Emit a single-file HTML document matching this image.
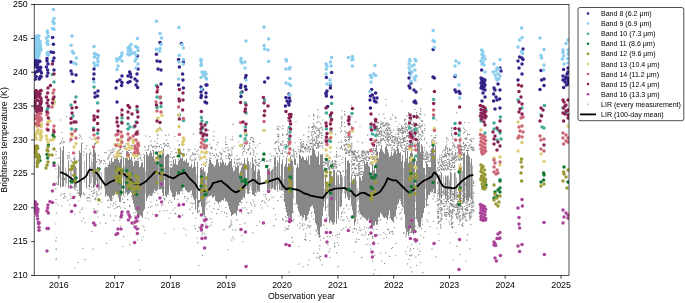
<!DOCTYPE html><html><head><meta charset="utf-8"><title>Brightness temperature</title><style>html,body{margin:0;padding:0;background:#fff;}svg{display:block;}text{font-family:"Liberation Sans",Arial,sans-serif;fill:#000;}</style></head><body>
<svg width="685" height="303" viewBox="0 0 685 303">
<rect width="685" height="303" fill="#fff"/>
<defs><clipPath id="ax"><rect x="34.2" y="4.5" width="534.8" height="271"/></clipPath></defs>
<g clip-path="url(#ax)">
<path fill="#888" fill-opacity="0.6" d="M59 166.1h1V176.9h-1zM65 167.7h1V186.8h-1zM66 171.5h1V183.8h-1zM70 172.3h1V188h-1zM71 168.5h1V181.6h-1zM73 167.7h1V184.5h-1zM76 167.8h1V186.6h-1zM84 161.2h1V182.7h-1zM90 166.7h1V184.1h-1zM91 158.2h1V183h-1zM92 162.1h1V177h-1zM96 168.6h1V180.6h-1zM98 168h1V191.2h-1zM99 167.2h1V190.4h-1zM101 172h1V189.4h-1zM104 168.3h1V188.6h-1zM122 168.5h1V177.8h-1zM124 166.1h1V183.2h-1zM145 171.2h1V193.4h-1zM158 161h1V186.4h-1zM164 167.8h1V180.2h-1zM169 166.8h1V186.6h-1zM196 174.4h1V198.5h-1zM205 170.9h1V206.8h-1zM206 176.2h1V200.5h-1zM245 163.3h1V193.8h-1zM246 178.2h1V187.5h-1zM249 164.5h1V191.1h-1zM250 161.8h1V186.2h-1zM251 167.8h1V190.2h-1zM256 178.8h1V193.4h-1zM260 175.7h1V184.8h-1zM270 171.6h1V186.8h-1zM273 167.1h1V188.8h-1zM276 166.6h1V185.4h-1zM278 162.9h1V184.1h-1zM280 175.7h1V190.4h-1zM283 179.5h1V190.2h-1zM293 166.3h1V198.7h-1zM324 189.1h1V201.6h-1zM326 183.1h1V198.7h-1zM327 185h1V198.8h-1zM328 184.8h1V216.6h-1zM335 185.1h1V200.4h-1zM337 175.2h1V210.9h-1zM339 184.1h1V207h-1zM342 177.4h1V193.2h-1zM344 176h1V193.2h-1zM346 169.3h1V194.3h-1zM350 182.3h1V198h-1zM356 181h1V217h-1zM357 188.4h1V201.5h-1zM358 190.8h1V199.8h-1zM403 168.2h1V208.1h-1zM415 183.5h1V202h-1zM425 174.4h1V189.2h-1zM436 169.9h1V179.1h-1zM438 174.5h1V187.6h-1zM440 175.2h1V197.8h-1zM443 176.4h1V194.7h-1zM444 183.2h1V192.6h-1zM446 176.7h1V190.5h-1zM448 175.6h1V190.3h-1zM449 179.6h1V191.8h-1zM451 172.8h1V193.4h-1zM455 172.4h1V197.4h-1zM456 177.6h1V196h-1zM461 166.1h1V195.2h-1zM462 170.6h1V192.4h-1zM470 162.9h1V193.4h-1zM472 165.4h1V197.8h-1z"/>
<path fill="#888" fill-opacity="1" d="M58 165.4h1V185.1h-1zM60 147.2h1V187.2h-1zM62 150.4h1V186.9h-1zM63 146h1V186.5h-1zM68 160.5h1V188.4h-1zM74 165.1h1V187.6h-1zM75 166.2h1V187.7h-1zM79 150.4h1V195.9h-1zM80 152.8h1V197.7h-1zM81 142.7h1V195.4h-1zM86 153.1h1V187.5h-1zM89 153.2h1V187.7h-1zM93 148.1h1V188h-1zM94 149.6h1V187.1h-1zM95 152.4h1V184.9h-1zM97 166.5h1V187.3h-1zM105 166.5h1V196.8h-1zM106 167.1h1V194.5h-1zM107 167.3h1V196.1h-1zM108 165h1V196.3h-1zM109 160.9h1V197.9h-1zM110 163.4h1V201.1h-1zM111 159.1h1V199.8h-1zM112 161.4h1V195.5h-1zM113 162.1h1V196.2h-1zM114 159h1V195h-1zM115 158.8h1V192.2h-1zM116 157.5h1V193h-1zM117 155.7h1V192.9h-1zM118 160h1V196.9h-1zM119 162.6h1V201.7h-1zM120 159.2h1V202.1h-1zM121 155.8h1V195.7h-1zM123 156.9h1V195.6h-1zM125 158h1V193.7h-1zM126 151.2h1V192.2h-1zM127 150.9h1V195.5h-1zM128 160h1V194h-1zM129 154.2h1V193.4h-1zM130 159.3h1V191.7h-1zM131 157.1h1V192.9h-1zM132 161h1V198.5h-1zM133 165.9h1V203.4h-1zM134 162.1h1V206.8h-1zM135 161.1h1V210.3h-1zM136 160.7h1V211.5h-1zM137 160.5h1V215.3h-1zM138 161h1V218.8h-1zM139 167.3h1V215.1h-1zM140 166.4h1V215.2h-1zM141 162.4h1V216.3h-1zM142 162.3h1V218h-1zM143 167.4h1V211h-1zM144 155h1V209.3h-1zM146 151.8h1V200.9h-1zM147 154.6h1V197.7h-1zM148 155.9h1V195.4h-1zM149 153.6h1V194.8h-1zM150 150.8h1V195.8h-1zM151 152.8h1V196.3h-1zM152 156.4h1V193.8h-1zM153 150.1h1V192.6h-1zM154 158.9h1V189.5h-1zM155 157.1h1V191h-1zM156 159h1V191.3h-1zM157 153.3h1V189.7h-1zM159 152.1h1V189.3h-1zM160 152.2h1V189.2h-1zM161 156.2h1V188.9h-1zM162 152.2h1V193.1h-1zM163 148.2h1V195.9h-1zM165 156.2h1V196.1h-1zM166 154.8h1V197.3h-1zM167 153.9h1V194.5h-1zM168 154.2h1V193.2h-1zM170 167.4h1V189.7h-1zM171 167.7h1V192.6h-1zM172 166.3h1V196.7h-1zM173 159.6h1V197h-1zM174 163.8h1V200h-1zM175 159.1h1V196.2h-1zM176 164.4h1V191.5h-1zM177 164.9h1V195h-1zM178 160.8h1V193.9h-1zM179 159.7h1V194.6h-1zM180 157.3h1V191.3h-1zM181 158.5h1V191.2h-1zM182 157.3h1V189.3h-1zM183 160.9h1V186.9h-1zM184 160.2h1V187.5h-1zM185 161.5h1V190.1h-1zM186 158.8h1V190.5h-1zM187 163h1V191.9h-1zM188 162.3h1V192.6h-1zM189 166.8h1V192.4h-1zM190 166.3h1V191h-1zM191 163.8h1V190.3h-1zM192 167.9h1V195.5h-1zM193 166.6h1V198.3h-1zM194 161.3h1V200.3h-1zM195 167h1V209.4h-1zM197 162h1V213.2h-1zM198 200h1V207.2h-1zM199 200h1V202.9h-1zM200 167.9h1V201.7h-1zM201 167h1V206.8h-1zM202 169.8h1V213.5h-1zM203 167.4h1V214.9h-1zM204 171.7h1V216.9h-1zM207 173.2h1V197.5h-1zM208 166.4h1V195.7h-1zM209 159.4h1V196h-1zM210 160.1h1V195.8h-1zM211 162.5h1V195.6h-1zM212 164.1h1V197.7h-1zM213 164.9h1V197.3h-1zM214 166.9h1V196h-1zM215 165.1h1V200.8h-1zM216 159.6h1V201.6h-1zM217 159h1V202.1h-1zM218 162.4h1V203.9h-1zM219 166.3h1V202h-1zM220 161.8h1V201.9h-1zM221 163.3h1V200.8h-1zM222 159.4h1V200h-1zM223 161.8h1V200.4h-1zM224 164.7h1V198h-1zM225 162.8h1V201.5h-1zM226 165.7h1V201h-1zM227 165.3h1V202.5h-1zM228 163.2h1V205.8h-1zM229 161.1h1V209.6h-1zM230 160.9h1V212h-1zM231 159h1V215.9h-1zM232 167.4h1V215.1h-1zM233 171.2h1V214h-1zM234 170.3h1V213.5h-1zM235 166.5h1V212.8h-1zM236 167.2h1V215.6h-1zM237 166.1h1V210.8h-1zM238 167.1h1V205.4h-1zM239 174.2h1V202.4h-1zM240 170.7h1V202.6h-1zM241 167.6h1V200h-1zM242 164.6h1V199.2h-1zM243 163.4h1V197.2h-1zM244 158.2h1V198.1h-1zM247 157.7h1V193.7h-1zM248 161.2h1V194.1h-1zM252 157.1h1V194.6h-1zM253 163.6h1V195h-1zM254 170.6h1V196.2h-1zM255 166.1h1V192.6h-1zM257 171.9h1V191.6h-1zM258 169.1h1V190.2h-1zM259 170.2h1V191.8h-1zM263 191h1V191.3h-1zM267 166.6h1V190.9h-1zM268 169.1h1V189.2h-1zM269 168.2h1V189.8h-1zM271 170.3h1V189.1h-1zM272 169.3h1V188.2h-1zM274 157.4h1V189.6h-1zM275 156.5h1V190.2h-1zM277 160.4h1V190.1h-1zM279 157.2h1V189.5h-1zM281 164h1V190.6h-1zM282 159.4h1V190.4h-1zM284 166.5h1V201.9h-1zM285 164.2h1V207h-1zM286 157.5h1V212h-1zM287 167.1h1V215.9h-1zM288 163.6h1V217.7h-1zM289 163.4h1V215h-1zM290 156.1h1V222.5h-1zM291 159.3h1V218.2h-1zM292 161.1h1V213.2h-1zM294 157.8h1V165h-1zM295 159.1h1V165h-1zM296 167.8h1V203.7h-1zM297 163.4h1V205.5h-1zM298 167.2h1V210.7h-1zM299 154.2h1V213.2h-1zM300 155.7h1V216h-1zM301 158.2h1V215.4h-1zM302 156.3h1V217.5h-1zM303 157.3h1V217.8h-1zM304 160h1V215.1h-1zM305 159.9h1V221h-1zM306 157.3h1V220.1h-1zM307 160.5h1V215.7h-1zM308 155.6h1V214.3h-1zM309 164.6h1V210.7h-1zM310 155.4h1V207.2h-1zM311 155.2h1V206.1h-1zM312 148.6h1V205.5h-1zM313 148.2h1V208.4h-1zM314 149.9h1V213.9h-1zM315 154.5h1V223h-1zM316 157.1h1V224.7h-1zM317 156.6h1V230.3h-1zM318 151.6h1V235h-1zM319 164.7h1V237.6h-1zM320 154.2h1V227.3h-1zM321 154.8h1V226.3h-1zM322 154h1V215.8h-1zM323 170.1h1V207.2h-1zM325 175h1V209.7h-1zM329 171.9h1V223.2h-1zM330 172.4h1V220.5h-1zM331 175.4h1V221.7h-1zM332 176.6h1V223.3h-1zM333 170h1V223.5h-1zM334 170h1V222.2h-1zM336 172.7h1V223.7h-1zM338 175.3h1V218.8h-1zM340 172.1h1V207.2h-1zM341 174.7h1V206.1h-1zM345 157.1h1V198.6h-1zM347 160.9h1V196.7h-1zM348 159.8h1V199.9h-1zM349 163h1V200h-1zM351 175.3h1V205.1h-1zM352 180.6h1V209.9h-1zM353 178.7h1V217.7h-1zM354 178.5h1V225.6h-1zM355 175.6h1V222.1h-1zM359 176.3h1V211.3h-1zM360 177.4h1V213.9h-1zM361 180.4h1V215.3h-1zM362 176h1V216.7h-1zM363 171.6h1V216.8h-1zM364 161.2h1V218.2h-1zM365 164h1V218.3h-1zM366 162.3h1V220.4h-1zM367 161.6h1V220.4h-1zM368 165.5h1V218.3h-1zM369 166.6h1V219.6h-1zM370 175h1V221.6h-1zM371 174.9h1V226.9h-1zM372 165.1h1V228.6h-1zM373 170.5h1V225.7h-1zM374 166.9h1V225.6h-1zM375 173.2h1V221.5h-1zM376 145h1V224.5h-1zM377 151.7h1V225.1h-1zM378 158.5h1V217.5h-1zM379 151.8h1V217.5h-1zM380 148.7h1V212.8h-1zM381 145h1V214.1h-1zM382 150.6h1V215.5h-1zM383 152.3h1V217.2h-1zM384 153.8h1V218.2h-1zM385 147h1V216.9h-1zM386 145.6h1V218.2h-1zM387 149.2h1V220h-1zM388 152.8h1V215.3h-1zM389 156.9h1V210.6h-1zM390 155.8h1V217.9h-1zM391 151.7h1V220h-1zM392 155.8h1V221.2h-1zM393 153.3h1V221.2h-1zM394 150.8h1V216.9h-1zM395 150.3h1V216.6h-1zM396 153.7h1V209.7h-1zM397 145.9h1V204.7h-1zM398 148.3h1V203.6h-1zM399 153.1h1V199.4h-1zM400 152.2h1V199.2h-1zM401 161.3h1V204.7h-1zM402 155.2h1V206.9h-1zM404 161.8h1V214.2h-1zM405 151.8h1V228.4h-1zM406 158.2h1V235.5h-1zM407 151h1V231.7h-1zM408 163h1V236.2h-1zM409 156.9h1V231.2h-1zM410 153h1V227.6h-1zM411 150.3h1V232.7h-1zM412 153.3h1V232.9h-1zM413 159.7h1V234.4h-1zM414 156h1V232.1h-1zM416 161h1V218.9h-1zM417 140.4h1V221.6h-1zM418 142.3h1V225.7h-1zM419 141.4h1V227.5h-1zM420 152.3h1V227h-1zM421 143.9h1V218.6h-1zM422 146.2h1V217.6h-1zM423 167.8h1V213.1h-1zM424 167.9h1V208h-1zM426 162.2h1V206.4h-1zM427 164h1V199.2h-1zM428 167h1V194.9h-1zM429 167.1h1V195h-1zM430 167.3h1V192.2h-1zM431 148.6h1V191.5h-1zM432 147.2h1V191.9h-1zM433 145.2h1V189.3h-1zM434 154.5h1V193.4h-1zM435 145.2h1V192.8h-1zM439 174.7h1V197.8h-1zM441 172.8h1V198.5h-1zM445 175.4h1V198.9h-1zM447 175.8h1V200.8h-1zM450 172h1V199.1h-1zM454 172.8h1V199.5h-1zM459 166.3h1V200.7h-1zM460 163.3h1V204.4h-1zM463 153.3h1V202.9h-1zM464 152.5h1V201.1h-1zM466 155.5h1V200.2h-1zM467 151.2h1V199.9h-1zM468 154.6h1V200.9h-1zM469 156.5h1V197.3h-1zM471 158.4h1V199.5h-1z"/>
<path fill="#888" d="M58.4 157.6h1.1v1.1h-1.1zM59.3 143.4h1.1v1.1h-1.1zM60.1 142h1.1v1.1h-1.1zM60.2 142.6h1.1v1.1h-1.1zM60 194.7h1.1v1.1h-1.1zM60.2 119.5h1.1v1.1h-1.1zM61 140.5h1.1v1.1h-1.1zM61.2 178.2h1.1v1.1h-1.1zM61.1 193.5h1.1v1.1h-1.1zM61.5 132h1.1v1.1h-1.1zM61 205.5h1.1v1.1h-1.1zM62.1 142.4h1.1v1.1h-1.1zM62.1 138.1h1.1v1.1h-1.1zM63 141.1h1.1v1.1h-1.1zM63.2 193.4h1.1v1.1h-1.1zM63.1 197.4h1.1v1.1h-1.1zM63.5 198h1.1v1.1h-1.1zM64.1 141.4h1.1v1.1h-1.1zM64.1 177.8h1.1v1.1h-1.1zM64 179.1h1.1v1.1h-1.1zM64.2 192.9h1.1v1.1h-1.1zM64.1 195.5h1.1v1.1h-1.1zM65.2 196.3h1.1v1.1h-1.1zM66.2 116h1.1v1.1h-1.1zM67.1 155.8h1.1v1.1h-1.1zM67.1 158.1h1.1v1.1h-1.1zM67.1 199.7h1.1v1.1h-1.1zM67.2 155h1.1v1.1h-1.1zM68 156.7h1.1v1.1h-1.1zM68.5 152h1.1v1.1h-1.1zM69 154.6h1.1v1.1h-1.1zM69.2 157.4h1.1v1.1h-1.1zM69.3 193.4h1.1v1.1h-1.1zM69.4 141.1h1.1v1.1h-1.1zM69.1 204.5h1.1v1.1h-1.1zM70.2 159.8h1.1v1.1h-1.1zM70.3 160.1h1.1v1.1h-1.1zM70.2 195.5h1.1v1.1h-1.1zM70.2 160h1.1v1.1h-1.1zM70.2 198.4h1.1v1.1h-1.1zM71.2 161.4h1.1v1.1h-1.1zM71.4 197.5h1.1v1.1h-1.1zM72.1 161.2h1.1v1.1h-1.1zM72.4 197.8h1.1v1.1h-1.1zM73.2 158h1.1v1.1h-1.1zM73 187.1h1.1v1.1h-1.1zM73 195.4h1.1v1.1h-1.1zM73.2 158.7h1.1v1.1h-1.1zM74.3 158.2h1.1v1.1h-1.1zM74 159.6h1.1v1.1h-1.1zM74.2 188.6h1.1v1.1h-1.1zM74.3 156.3h1.1v1.1h-1.1zM74 213.4h1.1v1.1h-1.1zM74.3 267.5h1.1v1.1h-1.1zM75.1 161.3h1.1v1.1h-1.1zM75.3 162.8h1.1v1.1h-1.1zM75.3 188.7h1.1v1.1h-1.1zM75.1 195.7h1.1v1.1h-1.1zM76.1 186.2h1.1v1.1h-1.1zM77 189.9h1.1v1.1h-1.1zM77 192.7h1.1v1.1h-1.1zM77.4 262h1.1v1.1h-1.1zM78 159.8h1.1v1.1h-1.1zM78.1 192.3h1.1v1.1h-1.1zM78.1 200.4h1.1v1.1h-1.1zM78.4 160.1h1.1v1.1h-1.1zM79.1 137.5h1.1v1.1h-1.1zM79.2 134.5h1.1v1.1h-1.1zM79.4 211.6h1.1v1.1h-1.1zM80.1 135.8h1.1v1.1h-1.1zM81.1 138.2h1.1v1.1h-1.1zM81.1 208.8h1.1v1.1h-1.1zM81.1 220.5h1.1v1.1h-1.1zM82.3 142.4h1.1v1.1h-1.1zM82.2 247.8h1.1v1.1h-1.1zM82.3 207.4h1.1v1.1h-1.1zM83.2 154.5h1.1v1.1h-1.1zM83.1 192.4h1.1v1.1h-1.1zM83.1 193.4h1.1v1.1h-1.1zM83.4 151.5h1.1v1.1h-1.1zM83.1 218h1.1v1.1h-1.1zM84.2 194.3h1.1v1.1h-1.1zM84.5 222.1h1.1v1.1h-1.1zM84.4 259.1h1.1v1.1h-1.1zM85 148h1.1v1.1h-1.1zM86.1 145.1h1.1v1.1h-1.1zM86.3 187.5h1.1v1.1h-1.1zM86.2 197.7h1.1v1.1h-1.1zM87.2 199.9h1.1v1.1h-1.1zM87.2 197.1h1.1v1.1h-1.1zM88.2 184.9h1.1v1.1h-1.1zM88.2 197h1.1v1.1h-1.1zM89.2 149.2h1.1v1.1h-1.1zM89 188.7h1.1v1.1h-1.1zM89.2 194.2h1.1v1.1h-1.1zM89.2 197.7h1.1v1.1h-1.1zM89.3 136.9h1.1v1.1h-1.1zM89.5 200.8h1.1v1.1h-1.1zM90.1 151.7h1.1v1.1h-1.1zM90.3 152.5h1.1v1.1h-1.1zM90.1 153.6h1.1v1.1h-1.1zM91.1 186.4h1.1v1.1h-1.1zM91.2 190.8h1.1v1.1h-1.1zM91.3 138.6h1.1v1.1h-1.1zM91.4 230.9h1.1v1.1h-1.1zM92.2 154.8h1.1v1.1h-1.1zM92.3 193.4h1.1v1.1h-1.1zM92.3 195.6h1.1v1.1h-1.1zM92.5 248.6h1.1v1.1h-1.1zM93.1 190.2h1.1v1.1h-1.1zM93.2 192.9h1.1v1.1h-1.1zM93.1 116.2h1.1v1.1h-1.1zM93.3 208.3h1.1v1.1h-1.1zM94.3 143h1.1v1.1h-1.1zM94.1 144.4h1.1v1.1h-1.1zM94.2 188.7h1.1v1.1h-1.1zM94 191.8h1.1v1.1h-1.1zM94.1 143.8h1.1v1.1h-1.1zM94.1 198.5h1.1v1.1h-1.1zM95.3 143.2h1.1v1.1h-1.1zM95.2 197.6h1.1v1.1h-1.1zM95.4 142.2h1.1v1.1h-1.1zM95.1 199.1h1.1v1.1h-1.1zM96.3 161.1h1.1v1.1h-1.1zM96.2 191.3h1.1v1.1h-1.1zM96.2 193.3h1.1v1.1h-1.1zM96.2 195.5h1.1v1.1h-1.1zM96.3 161.7h1.1v1.1h-1.1zM96.4 212.4h1.1v1.1h-1.1zM97.2 194.3h1.1v1.1h-1.1zM97.3 198.5h1.1v1.1h-1.1zM97.4 158.9h1.1v1.1h-1.1zM97.2 210.3h1.1v1.1h-1.1zM97.3 216.4h1.1v1.1h-1.1zM98.3 198.2h1.1v1.1h-1.1zM98 203.7h1.1v1.1h-1.1zM98 154.8h1.1v1.1h-1.1zM99 160.5h1.1v1.1h-1.1zM99.1 163.1h1.1v1.1h-1.1zM99.1 159.3h1.1v1.1h-1.1zM99.5 222.4h1.1v1.1h-1.1zM100.2 161h1.1v1.1h-1.1zM100 187h1.1v1.1h-1.1zM100.2 193.3h1.1v1.1h-1.1zM100.3 161.8h1.1v1.1h-1.1zM101 160.1h1.1v1.1h-1.1zM101.3 201.7h1.1v1.1h-1.1zM103.3 163h1.1v1.1h-1.1zM103.1 159.7h1.1v1.1h-1.1zM103.3 213.4h1.1v1.1h-1.1zM103.5 214.9h1.1v1.1h-1.1zM104 160.6h1.1v1.1h-1.1zM104.2 152.2h1.1v1.1h-1.1zM105.3 162.7h1.1v1.1h-1.1zM105.5 151.9h1.1v1.1h-1.1zM105.2 222.8h1.1v1.1h-1.1zM106 242.8h1.1v1.1h-1.1zM107.1 158.1h1.1v1.1h-1.1zM107.3 164.6h1.1v1.1h-1.1zM107.3 199.9h1.1v1.1h-1.1zM107.5 158.5h1.1v1.1h-1.1zM107.4 206.6h1.1v1.1h-1.1zM108.1 150.2h1.1v1.1h-1.1zM108.2 154.4h1.1v1.1h-1.1zM108 156.8h1.1v1.1h-1.1zM108.2 199.3h1.1v1.1h-1.1zM109.2 155.3h1.1v1.1h-1.1zM109.2 206.7h1.1v1.1h-1.1zM110.2 149.4h1.1v1.1h-1.1zM110.1 152.2h1.1v1.1h-1.1zM110.2 153.3h1.1v1.1h-1.1zM110.2 203.7h1.1v1.1h-1.1zM110 215.3h1.1v1.1h-1.1zM111.3 151.6h1.1v1.1h-1.1zM111.3 157.8h1.1v1.1h-1.1zM111.3 199.6h1.1v1.1h-1.1zM111.1 200.1h1.1v1.1h-1.1zM112.2 149.4h1.1v1.1h-1.1zM112.2 152h1.1v1.1h-1.1zM112.1 197.4h1.1v1.1h-1.1zM112.5 148.1h1.1v1.1h-1.1zM112.4 205.2h1.1v1.1h-1.1zM113.2 150.6h1.1v1.1h-1.1zM113.1 154.4h1.1v1.1h-1.1zM113.1 156.2h1.1v1.1h-1.1zM113.3 202.8h1.1v1.1h-1.1zM113.2 219.8h1.1v1.1h-1.1zM114 156.8h1.1v1.1h-1.1zM114.4 148.5h1.1v1.1h-1.1zM114.3 207.9h1.1v1.1h-1.1zM115.1 201.2h1.1v1.1h-1.1zM115.3 203.9h1.1v1.1h-1.1zM115.1 215.3h1.1v1.1h-1.1zM116.1 151.4h1.1v1.1h-1.1zM116.3 123.5h1.1v1.1h-1.1zM116.3 206.8h1.1v1.1h-1.1zM117.2 150.4h1.1v1.1h-1.1zM117.3 143h1.1v1.1h-1.1zM117.2 205.9h1.1v1.1h-1.1zM118.3 149.7h1.1v1.1h-1.1zM118.2 150.4h1.1v1.1h-1.1zM118.3 151.6h1.1v1.1h-1.1zM118.2 153.1h1.1v1.1h-1.1zM118.2 197.2h1.1v1.1h-1.1zM119.2 149.1h1.1v1.1h-1.1zM119.3 152.7h1.1v1.1h-1.1zM119 205.8h1.1v1.1h-1.1zM119.2 219.4h1.1v1.1h-1.1zM120.1 148.8h1.1v1.1h-1.1zM120.3 152.4h1.1v1.1h-1.1zM120.1 207.4h1.1v1.1h-1.1zM120.2 212.3h1.1v1.1h-1.1zM120.2 112.3h1.1v1.1h-1.1zM120.1 225.4h1.1v1.1h-1.1zM121.2 152.8h1.1v1.1h-1.1zM121.3 211h1.1v1.1h-1.1zM121.2 217h1.1v1.1h-1.1zM122 150.9h1.1v1.1h-1.1zM122 198.3h1.1v1.1h-1.1zM122.4 245.9h1.1v1.1h-1.1zM123.1 146.5h1.1v1.1h-1.1zM123.1 202h1.1v1.1h-1.1zM123.3 145.3h1.1v1.1h-1.1zM123 236.1h1.1v1.1h-1.1zM124 146.1h1.1v1.1h-1.1zM124.2 148.4h1.1v1.1h-1.1zM124.1 195.7h1.1v1.1h-1.1zM124 202.1h1.1v1.1h-1.1zM124.5 207.7h1.1v1.1h-1.1zM125 145.8h1.1v1.1h-1.1zM125.3 143.3h1.1v1.1h-1.1zM126.2 128.1h1.1v1.1h-1.1zM126.3 213.2h1.1v1.1h-1.1zM127 199h1.1v1.1h-1.1zM127.3 199.2h1.1v1.1h-1.1zM127.5 136.7h1.1v1.1h-1.1zM128.2 147.2h1.1v1.1h-1.1zM128 150h1.1v1.1h-1.1zM128.1 152.1h1.1v1.1h-1.1zM129.2 146.4h1.1v1.1h-1.1zM129.2 149.7h1.1v1.1h-1.1zM129.2 204.9h1.1v1.1h-1.1zM129.1 205.9h1.1v1.1h-1.1zM129.4 244.3h1.1v1.1h-1.1zM130.2 151.9h1.1v1.1h-1.1zM130.3 146.2h1.1v1.1h-1.1zM131.3 147.5h1.1v1.1h-1.1zM131.2 152.5h1.1v1.1h-1.1zM131.1 195.8h1.1v1.1h-1.1zM131 144.5h1.1v1.1h-1.1zM132.2 147.4h1.1v1.1h-1.1zM132.1 153.6h1.1v1.1h-1.1zM132.1 198.7h1.1v1.1h-1.1zM132.2 144.9h1.1v1.1h-1.1zM133.2 212.5h1.1v1.1h-1.1zM133.2 224h1.1v1.1h-1.1zM134.2 152.6h1.1v1.1h-1.1zM134.1 155.1h1.1v1.1h-1.1zM134 157.8h1.1v1.1h-1.1zM134.2 159.7h1.1v1.1h-1.1zM134.2 207.4h1.1v1.1h-1.1zM134.3 215.3h1.1v1.1h-1.1zM134 222.8h1.1v1.1h-1.1zM135.2 153.4h1.1v1.1h-1.1zM135.1 212.5h1.1v1.1h-1.1zM135.4 154.5h1.1v1.1h-1.1zM135.3 222.1h1.1v1.1h-1.1zM136.2 225h1.1v1.1h-1.1zM136.1 147.1h1.1v1.1h-1.1zM136.3 227h1.1v1.1h-1.1zM137.1 155.6h1.1v1.1h-1.1zM137.1 158.7h1.1v1.1h-1.1zM137.1 239.4h1.1v1.1h-1.1zM138.2 154h1.1v1.1h-1.1zM138.1 157.4h1.1v1.1h-1.1zM138.2 228.1h1.1v1.1h-1.1zM138.1 129.4h1.1v1.1h-1.1zM138.4 259.4h1.1v1.1h-1.1zM139.1 152.5h1.1v1.1h-1.1zM139.1 153.2h1.1v1.1h-1.1zM139.3 220.5h1.1v1.1h-1.1zM139.1 228.5h1.1v1.1h-1.1zM139.3 269.1h1.1v1.1h-1.1zM140.3 154.4h1.1v1.1h-1.1zM140.1 156.7h1.1v1.1h-1.1zM140.1 158.1h1.1v1.1h-1.1zM141.3 159.8h1.1v1.1h-1.1zM141.2 239.4h1.1v1.1h-1.1zM142.2 225.2h1.1v1.1h-1.1zM142.4 236.5h1.1v1.1h-1.1zM143.2 156.9h1.1v1.1h-1.1zM143.3 226.7h1.1v1.1h-1.1zM143.2 153.7h1.1v1.1h-1.1zM144.1 145.7h1.1v1.1h-1.1zM144.4 146.3h1.1v1.1h-1.1zM144 229.7h1.1v1.1h-1.1zM145.1 149.4h1.1v1.1h-1.1zM145.2 217.6h1.1v1.1h-1.1zM145.3 135.4h1.1v1.1h-1.1zM147.2 149.8h1.1v1.1h-1.1zM147.1 212.2h1.1v1.1h-1.1zM147.3 304h1.1v1.1h-1.1zM148.3 145.3h1.1v1.1h-1.1zM148.2 146.1h1.1v1.1h-1.1zM148.1 148.6h1.1v1.1h-1.1zM148.2 195.1h1.1v1.1h-1.1zM148.2 207h1.1v1.1h-1.1zM148 218.7h1.1v1.1h-1.1zM149.1 136h1.1v1.1h-1.1zM150.3 201.7h1.1v1.1h-1.1zM150 206.5h1.1v1.1h-1.1zM151 145.2h1.1v1.1h-1.1zM151.3 205.7h1.1v1.1h-1.1zM152 146.2h1.1v1.1h-1.1zM152.2 149.8h1.1v1.1h-1.1zM152.3 194.5h1.1v1.1h-1.1zM152.3 146.8h1.1v1.1h-1.1zM152.2 213.7h1.1v1.1h-1.1zM153.1 146.4h1.1v1.1h-1.1zM154 146.2h1.1v1.1h-1.1zM154.2 192.1h1.1v1.1h-1.1zM154.4 140.7h1.1v1.1h-1.1zM155 145.5h1.1v1.1h-1.1zM155.2 148h1.1v1.1h-1.1zM155.2 204.6h1.1v1.1h-1.1zM156 146.1h1.1v1.1h-1.1zM156.2 199.8h1.1v1.1h-1.1zM156.5 142.8h1.1v1.1h-1.1zM157.1 146h1.1v1.1h-1.1zM157.1 192.9h1.1v1.1h-1.1zM157.3 204.3h1.1v1.1h-1.1zM158.1 151.3h1.1v1.1h-1.1zM158.1 187.7h1.1v1.1h-1.1zM158.2 197.2h1.1v1.1h-1.1zM159 145.4h1.1v1.1h-1.1zM159 146.5h1.1v1.1h-1.1zM159 151.3h1.1v1.1h-1.1zM159.2 197.2h1.1v1.1h-1.1zM159.1 126.8h1.1v1.1h-1.1zM159.3 210.8h1.1v1.1h-1.1zM160 150.9h1.1v1.1h-1.1zM160.3 151.4h1.1v1.1h-1.1zM160.2 143.9h1.1v1.1h-1.1zM161.1 147.1h1.1v1.1h-1.1zM161 150.5h1.1v1.1h-1.1zM161.1 151.4h1.1v1.1h-1.1zM161.1 130h1.1v1.1h-1.1zM161 205h1.1v1.1h-1.1zM162.3 150.5h1.1v1.1h-1.1zM162 151.7h1.1v1.1h-1.1zM162.1 194.7h1.1v1.1h-1.1zM162.5 204.2h1.1v1.1h-1.1zM163.1 143.1h1.1v1.1h-1.1zM163.3 197.2h1.1v1.1h-1.1zM163.5 210.3h1.1v1.1h-1.1zM164.1 143.2h1.1v1.1h-1.1zM164.2 145.3h1.1v1.1h-1.1zM164.1 187.2h1.1v1.1h-1.1zM164.3 198.1h1.1v1.1h-1.1zM164.1 199.3h1.1v1.1h-1.1zM164.1 233h1.1v1.1h-1.1zM165.3 144.6h1.1v1.1h-1.1zM165.2 134.8h1.1v1.1h-1.1zM166.1 144.7h1.1v1.1h-1.1zM166.2 210h1.1v1.1h-1.1zM166.3 277.2h1.1v1.1h-1.1zM167.1 143h1.1v1.1h-1.1zM167.1 146h1.1v1.1h-1.1zM168 143.2h1.1v1.1h-1.1zM168.1 145.3h1.1v1.1h-1.1zM168 193.9h1.1v1.1h-1.1zM168 202.2h1.1v1.1h-1.1zM168.3 134.3h1.1v1.1h-1.1zM168.4 217.7h1.1v1.1h-1.1zM169 155.7h1.1v1.1h-1.1zM169.2 161.2h1.1v1.1h-1.1zM169.2 200.2h1.1v1.1h-1.1zM169.3 147.4h1.1v1.1h-1.1zM170.1 156.8h1.1v1.1h-1.1zM170.2 164.1h1.1v1.1h-1.1zM170.2 189.2h1.1v1.1h-1.1zM170 153.6h1.1v1.1h-1.1zM170.1 212.7h1.1v1.1h-1.1zM171.1 161.6h1.1v1.1h-1.1zM171.3 163.9h1.1v1.1h-1.1zM171.1 164.6h1.1v1.1h-1.1zM171.1 201.8h1.1v1.1h-1.1zM171.1 151.2h1.1v1.1h-1.1zM172.1 157h1.1v1.1h-1.1zM172.1 157.7h1.1v1.1h-1.1zM172.4 209.5h1.1v1.1h-1.1zM173.2 156.6h1.1v1.1h-1.1zM173.5 228.5h1.1v1.1h-1.1zM174.2 156.3h1.1v1.1h-1.1zM174.3 207.5h1.1v1.1h-1.1zM174.2 213h1.1v1.1h-1.1zM174.2 212.9h1.1v1.1h-1.1zM175.2 152.2h1.1v1.1h-1.1zM175.2 213.3h1.1v1.1h-1.1zM176.2 152.4h1.1v1.1h-1.1zM176.2 155.8h1.1v1.1h-1.1zM177.2 198.9h1.1v1.1h-1.1zM177.3 140.4h1.1v1.1h-1.1zM177.3 205.7h1.1v1.1h-1.1zM178 152.3h1.1v1.1h-1.1zM178.2 158.9h1.1v1.1h-1.1zM178.3 202.4h1.1v1.1h-1.1zM178.4 144.8h1.1v1.1h-1.1zM178.2 214.7h1.1v1.1h-1.1zM179.1 153.6h1.1v1.1h-1.1zM179.1 155.1h1.1v1.1h-1.1zM179 144.1h1.1v1.1h-1.1zM180.3 152.6h1.1v1.1h-1.1zM180.3 153.7h1.1v1.1h-1.1zM181.3 152.8h1.1v1.1h-1.1zM181.1 153.5h1.1v1.1h-1.1zM182.2 155h1.1v1.1h-1.1zM182.2 190.1h1.1v1.1h-1.1zM182.1 192.7h1.1v1.1h-1.1zM182.1 214.6h1.1v1.1h-1.1zM183 153.1h1.1v1.1h-1.1zM183.2 154.6h1.1v1.1h-1.1zM183 155.2h1.1v1.1h-1.1zM183.1 149.1h1.1v1.1h-1.1zM183.3 228h1.1v1.1h-1.1zM184.2 195.8h1.1v1.1h-1.1zM184.2 197.4h1.1v1.1h-1.1zM185.1 229.4h1.1v1.1h-1.1zM185.5 234.5h1.1v1.1h-1.1zM186.2 154.1h1.1v1.1h-1.1zM186.3 200.6h1.1v1.1h-1.1zM187.3 198.5h1.1v1.1h-1.1zM187.3 148.7h1.1v1.1h-1.1zM187.4 197.4h1.1v1.1h-1.1zM188.1 150.5h1.1v1.1h-1.1zM188.4 150.4h1.1v1.1h-1.1zM189.3 157.8h1.1v1.1h-1.1zM189.2 148.9h1.1v1.1h-1.1zM189.2 208.8h1.1v1.1h-1.1zM190.2 156h1.1v1.1h-1.1zM190.1 159.1h1.1v1.1h-1.1zM190.5 202.6h1.1v1.1h-1.1zM191.3 154.7h1.1v1.1h-1.1zM191 160.4h1.1v1.1h-1.1zM191.1 193.9h1.1v1.1h-1.1zM191.1 196.2h1.1v1.1h-1.1zM191.5 206.4h1.1v1.1h-1.1zM192.2 152.3h1.1v1.1h-1.1zM192.1 153.7h1.1v1.1h-1.1zM192.2 159.6h1.1v1.1h-1.1zM192.3 203.1h1.1v1.1h-1.1zM192.2 212.6h1.1v1.1h-1.1zM193.1 153.4h1.1v1.1h-1.1zM193.2 133.3h1.1v1.1h-1.1zM194.2 154.1h1.1v1.1h-1.1zM194.2 157.7h1.1v1.1h-1.1zM194.2 159.4h1.1v1.1h-1.1zM194.1 202.4h1.1v1.1h-1.1zM194.3 149h1.1v1.1h-1.1zM194.3 225.3h1.1v1.1h-1.1zM195.1 153.1h1.1v1.1h-1.1zM195.2 158.8h1.1v1.1h-1.1zM195.1 159.1h1.1v1.1h-1.1zM195 217.7h1.1v1.1h-1.1zM195 228.1h1.1v1.1h-1.1zM196 151h1.1v1.1h-1.1zM196.5 237.5h1.1v1.1h-1.1zM197.2 153.7h1.1v1.1h-1.1zM197.5 149.8h1.1v1.1h-1.1zM197.3 231h1.1v1.1h-1.1zM197.2 242.1h1.1v1.1h-1.1zM198.2 156.6h1.1v1.1h-1.1zM198.1 211.6h1.1v1.1h-1.1zM198.3 226.6h1.1v1.1h-1.1zM198.4 265h1.1v1.1h-1.1zM199.1 159.2h1.1v1.1h-1.1zM199 210.1h1.1v1.1h-1.1zM199.4 154.5h1.1v1.1h-1.1zM201.1 164h1.1v1.1h-1.1zM201.2 234.5h1.1v1.1h-1.1zM202.3 218h1.1v1.1h-1.1zM202.3 224.4h1.1v1.1h-1.1zM202 232.6h1.1v1.1h-1.1zM202 254.8h1.1v1.1h-1.1zM203.5 156.9h1.1v1.1h-1.1zM204.2 233.3h1.1v1.1h-1.1zM205.1 164.5h1.1v1.1h-1.1zM205.1 165.9h1.1v1.1h-1.1zM205.3 216.2h1.1v1.1h-1.1zM205.2 217.6h1.1v1.1h-1.1zM205.2 223.5h1.1v1.1h-1.1zM206.3 158.9h1.1v1.1h-1.1zM206.1 159.1h1.1v1.1h-1.1zM206.1 161.3h1.1v1.1h-1.1zM206.1 203.1h1.1v1.1h-1.1zM206.2 208.4h1.1v1.1h-1.1zM206.2 147.8h1.1v1.1h-1.1zM207.2 201.6h1.1v1.1h-1.1zM207.3 151.4h1.1v1.1h-1.1zM207.2 218.4h1.1v1.1h-1.1zM208.2 164.1h1.1v1.1h-1.1zM208.2 195.4h1.1v1.1h-1.1zM208.1 129.8h1.1v1.1h-1.1zM208.3 225.9h1.1v1.1h-1.1zM209.1 152.9h1.1v1.1h-1.1zM209.2 157.4h1.1v1.1h-1.1zM209.1 200.9h1.1v1.1h-1.1zM209.2 143.7h1.1v1.1h-1.1zM209.2 205.5h1.1v1.1h-1.1zM210 152.2h1.1v1.1h-1.1zM210.2 154.4h1.1v1.1h-1.1zM210.2 158.1h1.1v1.1h-1.1zM210.1 147.1h1.1v1.1h-1.1zM210.1 218.1h1.1v1.1h-1.1zM210.4 224.8h1.1v1.1h-1.1zM211.1 146.4h1.1v1.1h-1.1zM211.2 222h1.1v1.1h-1.1zM211.3 211.5h1.1v1.1h-1.1zM212.1 153h1.1v1.1h-1.1zM213.2 154.9h1.1v1.1h-1.1zM213.2 208.1h1.1v1.1h-1.1zM214 154.7h1.1v1.1h-1.1zM214.2 202.8h1.1v1.1h-1.1zM215.1 156.7h1.1v1.1h-1.1zM215.1 148.9h1.1v1.1h-1.1zM215.5 284.5h1.1v1.1h-1.1zM216 153.5h1.1v1.1h-1.1zM216.1 154.4h1.1v1.1h-1.1zM216 213.1h1.1v1.1h-1.1zM216.4 144.2h1.1v1.1h-1.1zM217.2 155.4h1.1v1.1h-1.1zM217.2 158.8h1.1v1.1h-1.1zM217.3 208.7h1.1v1.1h-1.1zM217.1 142.1h1.1v1.1h-1.1zM218.1 155.6h1.1v1.1h-1.1zM218.1 208.9h1.1v1.1h-1.1zM218.2 209h1.1v1.1h-1.1zM219.1 205.5h1.1v1.1h-1.1zM219.1 151.7h1.1v1.1h-1.1zM220.2 152.8h1.1v1.1h-1.1zM220.3 157.8h1.1v1.1h-1.1zM220.2 158.8h1.1v1.1h-1.1zM220.3 153.7h1.1v1.1h-1.1zM221.2 152.8h1.1v1.1h-1.1zM221.1 154.8h1.1v1.1h-1.1zM221 157.3h1.1v1.1h-1.1zM221.1 211.2h1.1v1.1h-1.1zM222.1 148.7h1.1v1.1h-1.1zM223.2 150.7h1.1v1.1h-1.1zM223.4 229.1h1.1v1.1h-1.1zM224.3 151.2h1.1v1.1h-1.1zM224.1 212.1h1.1v1.1h-1.1zM225 147.3h1.1v1.1h-1.1zM225 155.7h1.1v1.1h-1.1zM225.1 207h1.1v1.1h-1.1zM225.1 147.2h1.1v1.1h-1.1zM226.1 155.2h1.1v1.1h-1.1zM226.1 157.9h1.1v1.1h-1.1zM226.3 213h1.1v1.1h-1.1zM226.4 216h1.1v1.1h-1.1zM227.2 147.2h1.1v1.1h-1.1zM227.1 149.7h1.1v1.1h-1.1zM227.4 249.2h1.1v1.1h-1.1zM228.1 149.3h1.1v1.1h-1.1zM228.3 153.3h1.1v1.1h-1.1zM228.3 154.3h1.1v1.1h-1.1zM228.1 156.1h1.1v1.1h-1.1zM228.1 157.6h1.1v1.1h-1.1zM228.4 226.6h1.1v1.1h-1.1zM229.1 154.1h1.1v1.1h-1.1zM229.2 155.2h1.1v1.1h-1.1zM229.2 157.9h1.1v1.1h-1.1zM229.1 158.8h1.1v1.1h-1.1zM229.5 226.3h1.1v1.1h-1.1zM230.3 149.4h1.1v1.1h-1.1zM230.1 155.1h1.1v1.1h-1.1zM230.3 219.4h1.1v1.1h-1.1zM230.3 223.3h1.1v1.1h-1.1zM230 225h1.1v1.1h-1.1zM230.4 139.2h1.1v1.1h-1.1zM231.3 147.1h1.1v1.1h-1.1zM231.2 151.5h1.1v1.1h-1.1zM231.2 153.8h1.1v1.1h-1.1zM231.3 154.4h1.1v1.1h-1.1zM231.1 221.3h1.1v1.1h-1.1zM231.3 224.5h1.1v1.1h-1.1zM231.3 239.6h1.1v1.1h-1.1zM232.1 148.1h1.1v1.1h-1.1zM232.2 229.4h1.1v1.1h-1.1zM232.4 123.8h1.1v1.1h-1.1zM232.2 236.5h1.1v1.1h-1.1zM232.4 279.7h1.1v1.1h-1.1zM233.2 166h1.1v1.1h-1.1zM233.2 145.9h1.1v1.1h-1.1zM233.4 238.2h1.1v1.1h-1.1zM234.1 158.6h1.1v1.1h-1.1zM234 161.6h1.1v1.1h-1.1zM234.1 162.6h1.1v1.1h-1.1zM235.1 164.7h1.1v1.1h-1.1zM235.2 212.4h1.1v1.1h-1.1zM235 229.3h1.1v1.1h-1.1zM236.2 159.4h1.1v1.1h-1.1zM236.1 162.8h1.1v1.1h-1.1zM236.2 219.3h1.1v1.1h-1.1zM236.3 155.2h1.1v1.1h-1.1zM237.1 159.1h1.1v1.1h-1.1zM237.1 162.9h1.1v1.1h-1.1zM237.2 164.8h1.1v1.1h-1.1zM238.3 158.3h1.1v1.1h-1.1zM238.2 161.8h1.1v1.1h-1.1zM238.2 165.7h1.1v1.1h-1.1zM238.1 141.5h1.1v1.1h-1.1zM239.2 158.5h1.1v1.1h-1.1zM239.3 163.1h1.1v1.1h-1.1zM239.2 164.6h1.1v1.1h-1.1zM239 204.2h1.1v1.1h-1.1zM239.4 223.9h1.1v1.1h-1.1zM240.3 163.7h1.1v1.1h-1.1zM240 209.1h1.1v1.1h-1.1zM240.5 144.6h1.1v1.1h-1.1zM241 162.3h1.1v1.1h-1.1zM241.1 164h1.1v1.1h-1.1zM241.1 202.1h1.1v1.1h-1.1zM241.2 212.4h1.1v1.1h-1.1zM241.2 235h1.1v1.1h-1.1zM242.1 143.7h1.1v1.1h-1.1zM242 145.4h1.1v1.1h-1.1zM242.3 148.3h1.1v1.1h-1.1zM242.3 152.6h1.1v1.1h-1.1zM242.2 154.7h1.1v1.1h-1.1zM242.3 207.3h1.1v1.1h-1.1zM242.3 241.2h1.1v1.1h-1.1zM243.1 140.9h1.1v1.1h-1.1zM243.3 147.1h1.1v1.1h-1.1zM243 151h1.1v1.1h-1.1zM243.4 142.8h1.1v1.1h-1.1zM244 144.7h1.1v1.1h-1.1zM244.1 145.8h1.1v1.1h-1.1zM244 148.8h1.1v1.1h-1.1zM244.1 151.2h1.1v1.1h-1.1zM244.2 132.2h1.1v1.1h-1.1zM244.4 207.2h1.1v1.1h-1.1zM244.3 222.6h1.1v1.1h-1.1zM245.2 141.8h1.1v1.1h-1.1zM245.2 137.2h1.1v1.1h-1.1zM246.1 140h1.1v1.1h-1.1zM246.1 152.3h1.1v1.1h-1.1zM246.1 187.6h1.1v1.1h-1.1zM246.2 201.7h1.1v1.1h-1.1zM246.2 209h1.1v1.1h-1.1zM246.5 264.7h1.1v1.1h-1.1zM247.2 140.8h1.1v1.1h-1.1zM247 143.1h1.1v1.1h-1.1zM247.1 149h1.1v1.1h-1.1zM247.4 212.6h1.1v1.1h-1.1zM248 148.3h1.1v1.1h-1.1zM248 149.7h1.1v1.1h-1.1zM248.2 212.8h1.1v1.1h-1.1zM249.3 142.8h1.1v1.1h-1.1zM249 143.2h1.1v1.1h-1.1zM249 145.5h1.1v1.1h-1.1zM249.1 146.4h1.1v1.1h-1.1zM249.1 148.2h1.1v1.1h-1.1zM249.3 153.7h1.1v1.1h-1.1zM249.1 191.9h1.1v1.1h-1.1zM249 142.9h1.1v1.1h-1.1zM250.2 152.2h1.1v1.1h-1.1zM250.1 153.6h1.1v1.1h-1.1zM250 202.6h1.1v1.1h-1.1zM250.3 212.2h1.1v1.1h-1.1zM251.1 204.5h1.1v1.1h-1.1zM251.1 137h1.1v1.1h-1.1zM251.1 210.3h1.1v1.1h-1.1zM252 140.6h1.1v1.1h-1.1zM252 148.2h1.1v1.1h-1.1zM252.3 199.5h1.1v1.1h-1.1zM252.1 232.2h1.1v1.1h-1.1zM253.1 140.8h1.1v1.1h-1.1zM253.1 141.8h1.1v1.1h-1.1zM253.3 144.4h1.1v1.1h-1.1zM253.1 150h1.1v1.1h-1.1zM253.3 151.6h1.1v1.1h-1.1zM253.1 153.5h1.1v1.1h-1.1zM253.1 154.9h1.1v1.1h-1.1zM253.3 201.2h1.1v1.1h-1.1zM253.2 141.6h1.1v1.1h-1.1zM254.1 160.4h1.1v1.1h-1.1zM254.2 165h1.1v1.1h-1.1zM254.2 204.1h1.1v1.1h-1.1zM254.5 206h1.1v1.1h-1.1zM255.1 159h1.1v1.1h-1.1zM255.2 161.5h1.1v1.1h-1.1zM255.2 162.4h1.1v1.1h-1.1zM255.1 194.6h1.1v1.1h-1.1zM255.1 159.8h1.1v1.1h-1.1zM256.2 161.9h1.1v1.1h-1.1zM256.2 164.6h1.1v1.1h-1.1zM256.5 153.2h1.1v1.1h-1.1zM256.3 225h1.1v1.1h-1.1zM257.2 164.3h1.1v1.1h-1.1zM257.1 144.7h1.1v1.1h-1.1zM258.3 158.7h1.1v1.1h-1.1zM258.1 162.8h1.1v1.1h-1.1zM258.1 165.3h1.1v1.1h-1.1zM258.2 190.6h1.1v1.1h-1.1zM258.2 159h1.1v1.1h-1.1zM259 158.7h1.1v1.1h-1.1zM259.1 162.8h1.1v1.1h-1.1zM259 164.9h1.1v1.1h-1.1zM259.1 142.9h1.1v1.1h-1.1zM259 220.9h1.1v1.1h-1.1zM260.1 161h1.1v1.1h-1.1zM260.1 204.4h1.1v1.1h-1.1zM261.1 160h1.1v1.1h-1.1zM261.2 207.4h1.1v1.1h-1.1zM261.2 201h1.1v1.1h-1.1zM262.3 154.1h1.1v1.1h-1.1zM262.1 200h1.1v1.1h-1.1zM263.3 193.9h1.1v1.1h-1.1zM264 160.9h1.1v1.1h-1.1zM264.2 201.3h1.1v1.1h-1.1zM265.3 194.1h1.1v1.1h-1.1zM265.2 196.1h1.1v1.1h-1.1zM265.2 202.7h1.1v1.1h-1.1zM266.2 160.4h1.1v1.1h-1.1zM266.1 198.6h1.1v1.1h-1.1zM267.2 160.6h1.1v1.1h-1.1zM267.2 205.4h1.1v1.1h-1.1zM268 165h1.1v1.1h-1.1zM268.3 200.2h1.1v1.1h-1.1zM269.1 159.5h1.1v1.1h-1.1zM269 190.7h1.1v1.1h-1.1zM269.4 153.2h1.1v1.1h-1.1zM269.1 198.7h1.1v1.1h-1.1zM270.2 159.2h1.1v1.1h-1.1zM270 161.2h1.1v1.1h-1.1zM270.3 187.5h1.1v1.1h-1.1zM270.3 189.5h1.1v1.1h-1.1zM271 155.4h1.1v1.1h-1.1zM271.4 197.2h1.1v1.1h-1.1zM273.3 155.3h1.1v1.1h-1.1zM273.1 196.5h1.1v1.1h-1.1zM273.1 207.8h1.1v1.1h-1.1zM273.3 225.1h1.1v1.1h-1.1zM274.1 148.3h1.1v1.1h-1.1zM274.5 142.7h1.1v1.1h-1.1zM275 141.4h1.1v1.1h-1.1zM275.1 142.3h1.1v1.1h-1.1zM275.3 147.9h1.1v1.1h-1.1zM275.1 150.2h1.1v1.1h-1.1zM275.2 214.2h1.1v1.1h-1.1zM275.3 218.8h1.1v1.1h-1.1zM276.2 141.3h1.1v1.1h-1.1zM276.3 152.6h1.1v1.1h-1.1zM276.2 153.5h1.1v1.1h-1.1zM276.5 128.4h1.1v1.1h-1.1zM277.1 153h1.1v1.1h-1.1zM277.1 155.8h1.1v1.1h-1.1zM277.2 190.8h1.1v1.1h-1.1zM277 140.2h1.1v1.1h-1.1zM277.4 200.1h1.1v1.1h-1.1zM278.2 141.8h1.1v1.1h-1.1zM278.1 145.7h1.1v1.1h-1.1zM278.1 147.5h1.1v1.1h-1.1zM278 148.4h1.1v1.1h-1.1zM278.3 149.1h1.1v1.1h-1.1zM278.3 129.1h1.1v1.1h-1.1zM279.3 149.9h1.1v1.1h-1.1zM279.1 150.9h1.1v1.1h-1.1zM279.1 155.5h1.1v1.1h-1.1zM279.1 189.5h1.1v1.1h-1.1zM279.4 126.3h1.1v1.1h-1.1zM280 143.6h1.1v1.1h-1.1zM280.2 144.7h1.1v1.1h-1.1zM280.3 152.8h1.1v1.1h-1.1zM280.2 195.9h1.1v1.1h-1.1zM281.1 143.3h1.1v1.1h-1.1zM281.2 153h1.1v1.1h-1.1zM281.2 196.9h1.1v1.1h-1.1zM282.2 140.4h1.1v1.1h-1.1zM282.3 144.8h1.1v1.1h-1.1zM282.3 149.7h1.1v1.1h-1.1zM282.1 151.4h1.1v1.1h-1.1zM282.2 153.1h1.1v1.1h-1.1zM282.2 194.1h1.1v1.1h-1.1zM282.5 141.4h1.1v1.1h-1.1zM282.2 218.3h1.1v1.1h-1.1zM282.4 219.6h1.1v1.1h-1.1zM283.2 148h1.1v1.1h-1.1zM283.2 155.7h1.1v1.1h-1.1zM283.3 190.9h1.1v1.1h-1.1zM283.2 199.4h1.1v1.1h-1.1zM284.2 151.4h1.1v1.1h-1.1zM284.3 144.1h1.1v1.1h-1.1zM284.2 230.2h1.1v1.1h-1.1zM285.3 148.9h1.1v1.1h-1.1zM285.1 151.4h1.1v1.1h-1.1zM285.1 208h1.1v1.1h-1.1zM285 215.7h1.1v1.1h-1.1zM285.1 221.1h1.1v1.1h-1.1zM285.3 227.4h1.1v1.1h-1.1zM286.1 153h1.1v1.1h-1.1zM286.1 217.2h1.1v1.1h-1.1zM286.3 220.1h1.1v1.1h-1.1zM286.2 228.6h1.1v1.1h-1.1zM286 144.3h1.1v1.1h-1.1zM287 155.3h1.1v1.1h-1.1zM287.2 228.3h1.1v1.1h-1.1zM288.1 152.1h1.1v1.1h-1.1zM288.2 225.6h1.1v1.1h-1.1zM288.1 228.5h1.1v1.1h-1.1zM288 144.9h1.1v1.1h-1.1zM288.5 271.6h1.1v1.1h-1.1zM289.3 149h1.1v1.1h-1.1zM289.1 153.8h1.1v1.1h-1.1zM289.1 215.3h1.1v1.1h-1.1zM289.1 222.2h1.1v1.1h-1.1zM290.2 149.4h1.1v1.1h-1.1zM291.2 154.8h1.1v1.1h-1.1zM291 237h1.1v1.1h-1.1zM291.3 236.9h1.1v1.1h-1.1zM291.5 294.1h1.1v1.1h-1.1zM292.2 156.3h1.1v1.1h-1.1zM292.2 220.6h1.1v1.1h-1.1zM292.4 150.2h1.1v1.1h-1.1zM292.2 241.6h1.1v1.1h-1.1zM293.1 150.6h1.1v1.1h-1.1zM293.3 151.6h1.1v1.1h-1.1zM293.1 153.3h1.1v1.1h-1.1zM293.1 155.3h1.1v1.1h-1.1zM293.2 211.4h1.1v1.1h-1.1zM293.1 218.9h1.1v1.1h-1.1zM293.3 148.8h1.1v1.1h-1.1zM294 154.1h1.1v1.1h-1.1zM294.1 156.4h1.1v1.1h-1.1zM294.5 142.2h1.1v1.1h-1.1zM294.3 203.6h1.1v1.1h-1.1zM295.2 151h1.1v1.1h-1.1zM295.4 121.2h1.1v1.1h-1.1zM296.2 152.4h1.1v1.1h-1.1zM296.3 153.3h1.1v1.1h-1.1zM296.1 155.8h1.1v1.1h-1.1zM297.2 206.9h1.1v1.1h-1.1zM297.2 146.5h1.1v1.1h-1.1zM297.2 224.7h1.1v1.1h-1.1zM298.2 150.4h1.1v1.1h-1.1zM298.3 215.5h1.1v1.1h-1.1zM298.2 148.9h1.1v1.1h-1.1zM298.2 246h1.1v1.1h-1.1zM298.5 263.6h1.1v1.1h-1.1zM299.1 151.6h1.1v1.1h-1.1zM299.3 222.6h1.1v1.1h-1.1zM299.3 227.6h1.1v1.1h-1.1zM300.3 142.3h1.1v1.1h-1.1zM300 143.1h1.1v1.1h-1.1zM300.2 144.9h1.1v1.1h-1.1zM300.1 145.4h1.1v1.1h-1.1zM300.2 147.2h1.1v1.1h-1.1zM300.2 148.7h1.1v1.1h-1.1zM300 149.7h1.1v1.1h-1.1zM300.3 150.7h1.1v1.1h-1.1zM300.1 151.1h1.1v1.1h-1.1zM300.1 139.1h1.1v1.1h-1.1zM301.1 141.2h1.1v1.1h-1.1zM301.1 144.3h1.1v1.1h-1.1zM301.3 145.9h1.1v1.1h-1.1zM301.1 147.2h1.1v1.1h-1.1zM301.1 150.2h1.1v1.1h-1.1zM301.2 217.5h1.1v1.1h-1.1zM301.3 224.7h1.1v1.1h-1.1zM302.2 143.5h1.1v1.1h-1.1zM302.2 145.4h1.1v1.1h-1.1zM302.3 146.6h1.1v1.1h-1.1zM302.1 151.2h1.1v1.1h-1.1zM302 219.2h1.1v1.1h-1.1zM302.2 223.3h1.1v1.1h-1.1zM302 225.4h1.1v1.1h-1.1zM302.4 266.2h1.1v1.1h-1.1zM303.1 141h1.1v1.1h-1.1zM303 142.9h1.1v1.1h-1.1zM303.1 144h1.1v1.1h-1.1zM303.1 146.3h1.1v1.1h-1.1zM303 150.9h1.1v1.1h-1.1zM303.2 151.6h1.1v1.1h-1.1zM303.2 228.8h1.1v1.1h-1.1zM303.2 134.6h1.1v1.1h-1.1zM304.3 146.7h1.1v1.1h-1.1zM304.1 147.6h1.1v1.1h-1.1zM304.3 148.3h1.1v1.1h-1.1zM304.1 223.7h1.1v1.1h-1.1zM304 238.7h1.1v1.1h-1.1zM305.1 146.7h1.1v1.1h-1.1zM305 147.5h1.1v1.1h-1.1zM305.1 148.1h1.1v1.1h-1.1zM305.3 150.1h1.1v1.1h-1.1zM305.1 233.5h1.1v1.1h-1.1zM305 235.8h1.1v1.1h-1.1zM305 239.8h1.1v1.1h-1.1zM305.2 238.7h1.1v1.1h-1.1zM306 143.7h1.1v1.1h-1.1zM306.3 144.1h1.1v1.1h-1.1zM306.3 145.4h1.1v1.1h-1.1zM306.1 148.4h1.1v1.1h-1.1zM306.2 227.5h1.1v1.1h-1.1zM307.3 141.3h1.1v1.1h-1.1zM307.1 147.6h1.1v1.1h-1.1zM307.2 151.1h1.1v1.1h-1.1zM307.2 217.6h1.1v1.1h-1.1zM307 224.8h1.1v1.1h-1.1zM307.2 136.3h1.1v1.1h-1.1zM307.4 264.3h1.1v1.1h-1.1zM308 145.9h1.1v1.1h-1.1zM308.2 146.4h1.1v1.1h-1.1zM308 147.4h1.1v1.1h-1.1zM308 149.3h1.1v1.1h-1.1zM308.1 225.6h1.1v1.1h-1.1zM308.3 135.9h1.1v1.1h-1.1zM308.3 259.5h1.1v1.1h-1.1zM309.1 142.7h1.1v1.1h-1.1zM309.1 145.7h1.1v1.1h-1.1zM309.2 149.3h1.1v1.1h-1.1zM309.1 151.3h1.1v1.1h-1.1zM309.1 220.7h1.1v1.1h-1.1zM309.1 226.5h1.1v1.1h-1.1zM309.3 227.1h1.1v1.1h-1.1zM309.2 139.9h1.1v1.1h-1.1zM309.3 240.2h1.1v1.1h-1.1zM309.5 233.2h1.1v1.1h-1.1zM310.2 142.6h1.1v1.1h-1.1zM310.1 143.4h1.1v1.1h-1.1zM310.1 147.8h1.1v1.1h-1.1zM310.2 149h1.1v1.1h-1.1zM310.3 225.1h1.1v1.1h-1.1zM311.2 126.9h1.1v1.1h-1.1zM311.2 131.6h1.1v1.1h-1.1zM311.2 133.5h1.1v1.1h-1.1zM311.3 134.8h1.1v1.1h-1.1zM311.3 138.9h1.1v1.1h-1.1zM311.3 142.8h1.1v1.1h-1.1zM311.1 146.3h1.1v1.1h-1.1zM311.3 211.5h1.1v1.1h-1.1zM311 213h1.1v1.1h-1.1zM311.1 215.5h1.1v1.1h-1.1zM312.1 126h1.1v1.1h-1.1zM312.2 128.8h1.1v1.1h-1.1zM312.2 130.9h1.1v1.1h-1.1zM312.1 136.5h1.1v1.1h-1.1zM312.2 137.8h1.1v1.1h-1.1zM312.1 139.8h1.1v1.1h-1.1zM312.2 140.7h1.1v1.1h-1.1zM312 142.7h1.1v1.1h-1.1zM312.2 143.5h1.1v1.1h-1.1zM312.3 145.7h1.1v1.1h-1.1zM312.2 147.4h1.1v1.1h-1.1zM312.2 127h1.1v1.1h-1.1zM313.2 127.5h1.1v1.1h-1.1zM313 133.7h1.1v1.1h-1.1zM313 140h1.1v1.1h-1.1zM313.1 144.5h1.1v1.1h-1.1zM313.2 145.3h1.1v1.1h-1.1zM313.1 147.8h1.1v1.1h-1.1zM313.1 218.7h1.1v1.1h-1.1zM313.4 125.6h1.1v1.1h-1.1zM313.3 252.6h1.1v1.1h-1.1zM314.1 131h1.1v1.1h-1.1zM314.2 131.6h1.1v1.1h-1.1zM314.2 132.4h1.1v1.1h-1.1zM314 138.4h1.1v1.1h-1.1zM314 139.8h1.1v1.1h-1.1zM314 143.7h1.1v1.1h-1.1zM314.3 144.5h1.1v1.1h-1.1zM314.4 126h1.1v1.1h-1.1zM315.1 126.6h1.1v1.1h-1.1zM315 128.2h1.1v1.1h-1.1zM315.2 133.1h1.1v1.1h-1.1zM315.2 136.1h1.1v1.1h-1.1zM315.2 141.6h1.1v1.1h-1.1zM315.2 142.8h1.1v1.1h-1.1zM315.3 144.9h1.1v1.1h-1.1zM315.2 229.4h1.1v1.1h-1.1zM315.3 234.4h1.1v1.1h-1.1zM316.2 127.2h1.1v1.1h-1.1zM316.2 130.2h1.1v1.1h-1.1zM316 135.7h1.1v1.1h-1.1zM316.2 136.4h1.1v1.1h-1.1zM316 137.8h1.1v1.1h-1.1zM316.3 139.2h1.1v1.1h-1.1zM316 140.6h1.1v1.1h-1.1zM316.3 142.7h1.1v1.1h-1.1zM316.1 146.9h1.1v1.1h-1.1zM316.3 147.8h1.1v1.1h-1.1zM316.2 230.6h1.1v1.1h-1.1zM316.3 122h1.1v1.1h-1.1zM316.1 257.1h1.1v1.1h-1.1zM317.3 129.9h1.1v1.1h-1.1zM317.1 134.7h1.1v1.1h-1.1zM317 139.4h1.1v1.1h-1.1zM317 142.7h1.1v1.1h-1.1zM317.3 143.6h1.1v1.1h-1.1zM317.2 144.8h1.1v1.1h-1.1zM317.3 145.1h1.1v1.1h-1.1zM317.2 146.7h1.1v1.1h-1.1zM317.2 232.4h1.1v1.1h-1.1zM317 252.8h1.1v1.1h-1.1zM317.5 128.1h1.1v1.1h-1.1zM317.3 347.5h1.1v1.1h-1.1zM318.2 128.9h1.1v1.1h-1.1zM318.1 129.8h1.1v1.1h-1.1zM318.1 134.9h1.1v1.1h-1.1zM318.3 135.8h1.1v1.1h-1.1zM318 137.1h1.1v1.1h-1.1zM318.3 141.4h1.1v1.1h-1.1zM318.3 142.8h1.1v1.1h-1.1zM318 144.2h1.1v1.1h-1.1zM318.1 145.6h1.1v1.1h-1.1zM318.1 146.9h1.1v1.1h-1.1zM318 147h1.1v1.1h-1.1zM318.2 236h1.1v1.1h-1.1zM318.1 256.9h1.1v1.1h-1.1zM319.2 127.7h1.1v1.1h-1.1zM319.2 130.4h1.1v1.1h-1.1zM319 131.6h1.1v1.1h-1.1zM319.1 132.3h1.1v1.1h-1.1zM319.1 134h1.1v1.1h-1.1zM319.1 141.2h1.1v1.1h-1.1zM319.1 142h1.1v1.1h-1.1zM319.2 145.5h1.1v1.1h-1.1zM319.3 245.1h1.1v1.1h-1.1zM319.1 248.4h1.1v1.1h-1.1zM319.1 255.6h1.1v1.1h-1.1zM319 257.9h1.1v1.1h-1.1zM320.1 127.4h1.1v1.1h-1.1zM320.2 132.5h1.1v1.1h-1.1zM320.1 143h1.1v1.1h-1.1zM320.1 145.4h1.1v1.1h-1.1zM320.1 235.7h1.1v1.1h-1.1zM320 239.5h1.1v1.1h-1.1zM320.1 255.9h1.1v1.1h-1.1zM320.1 259.7h1.1v1.1h-1.1zM321 126.6h1.1v1.1h-1.1zM321.1 132.6h1.1v1.1h-1.1zM321 134.9h1.1v1.1h-1.1zM321.1 136.9h1.1v1.1h-1.1zM321.2 137.2h1.1v1.1h-1.1zM321.2 141.3h1.1v1.1h-1.1zM321.3 143h1.1v1.1h-1.1zM321.3 126.5h1.1v1.1h-1.1zM321.4 264.2h1.1v1.1h-1.1zM322.1 128.6h1.1v1.1h-1.1zM322.1 129.7h1.1v1.1h-1.1zM322 134.7h1.1v1.1h-1.1zM322.3 142.5h1.1v1.1h-1.1zM322.2 145.1h1.1v1.1h-1.1zM322.1 147.3h1.1v1.1h-1.1zM322.4 119.6h1.1v1.1h-1.1zM323 162.5h1.1v1.1h-1.1zM323.2 164.8h1.1v1.1h-1.1zM323.2 167.6h1.1v1.1h-1.1zM323.2 160.9h1.1v1.1h-1.1zM323.3 224.6h1.1v1.1h-1.1zM323.2 237.8h1.1v1.1h-1.1zM324.1 162.2h1.1v1.1h-1.1zM324.1 165.2h1.1v1.1h-1.1zM324.2 167.8h1.1v1.1h-1.1zM324 169.2h1.1v1.1h-1.1zM324.3 158.1h1.1v1.1h-1.1zM325.1 160.3h1.1v1.1h-1.1zM325.2 161.9h1.1v1.1h-1.1zM325.2 162.5h1.1v1.1h-1.1zM325.2 163.5h1.1v1.1h-1.1zM325 167.8h1.1v1.1h-1.1zM325.2 168.2h1.1v1.1h-1.1zM325 209.9h1.1v1.1h-1.1zM326.1 162.7h1.1v1.1h-1.1zM326.3 168h1.1v1.1h-1.1zM326.1 206.9h1.1v1.1h-1.1zM326 214.4h1.1v1.1h-1.1zM326.3 217.2h1.1v1.1h-1.1zM326 218.1h1.1v1.1h-1.1zM326.3 228.2h1.1v1.1h-1.1zM326.1 153.8h1.1v1.1h-1.1zM327.2 161h1.1v1.1h-1.1zM327.2 161.3h1.1v1.1h-1.1zM327.2 163.5h1.1v1.1h-1.1zM327.1 164h1.1v1.1h-1.1zM327.3 165.1h1.1v1.1h-1.1zM327.2 166h1.1v1.1h-1.1zM327.3 168.4h1.1v1.1h-1.1zM327.2 205.1h1.1v1.1h-1.1zM327 235.9h1.1v1.1h-1.1zM327.4 244.4h1.1v1.1h-1.1zM328.1 161.7h1.1v1.1h-1.1zM328.1 162.5h1.1v1.1h-1.1zM328.1 164.5h1.1v1.1h-1.1zM328.2 167.1h1.1v1.1h-1.1zM328 168.5h1.1v1.1h-1.1zM328.4 160.3h1.1v1.1h-1.1zM328.4 251.1h1.1v1.1h-1.1zM329.1 160.1h1.1v1.1h-1.1zM329.1 166h1.1v1.1h-1.1zM329.1 166.1h1.1v1.1h-1.1zM329.1 167.6h1.1v1.1h-1.1zM329.3 168.4h1.1v1.1h-1.1zM329 169.5h1.1v1.1h-1.1zM329.2 236.2h1.1v1.1h-1.1zM329.4 256.9h1.1v1.1h-1.1zM329.4 248.6h1.1v1.1h-1.1zM330 162.5h1.1v1.1h-1.1zM330 151.6h1.1v1.1h-1.1zM331.1 161.2h1.1v1.1h-1.1zM331.3 163.4h1.1v1.1h-1.1zM331.1 164.1h1.1v1.1h-1.1zM331.1 166.4h1.1v1.1h-1.1zM331.1 168h1.1v1.1h-1.1zM332.1 161.2h1.1v1.1h-1.1zM332.2 163.2h1.1v1.1h-1.1zM332.3 164.1h1.1v1.1h-1.1zM332.2 166.1h1.1v1.1h-1.1zM332.3 168.3h1.1v1.1h-1.1zM332.3 223.6h1.1v1.1h-1.1zM332.1 235h1.1v1.1h-1.1zM332 160.3h1.1v1.1h-1.1zM333 162.9h1.1v1.1h-1.1zM333.3 165.6h1.1v1.1h-1.1zM333.3 166.7h1.1v1.1h-1.1zM333.3 167.6h1.1v1.1h-1.1zM333.1 169.8h1.1v1.1h-1.1zM333.1 223.1h1.1v1.1h-1.1zM334.2 160.3h1.1v1.1h-1.1zM334.1 162.7h1.1v1.1h-1.1zM334.2 163.4h1.1v1.1h-1.1zM334 164.7h1.1v1.1h-1.1zM334 242.8h1.1v1.1h-1.1zM334.3 246.4h1.1v1.1h-1.1zM334.4 156.2h1.1v1.1h-1.1zM334.1 245.6h1.1v1.1h-1.1zM335.1 160.5h1.1v1.1h-1.1zM335 161.4h1.1v1.1h-1.1zM335.2 163.8h1.1v1.1h-1.1zM335.3 165.8h1.1v1.1h-1.1zM335.1 167.5h1.1v1.1h-1.1zM335.3 235h1.1v1.1h-1.1zM335.1 133.8h1.1v1.1h-1.1zM336.1 151.1h1.1v1.1h-1.1zM336.2 153.7h1.1v1.1h-1.1zM336 154.5h1.1v1.1h-1.1zM336.1 155.4h1.1v1.1h-1.1zM336 156.7h1.1v1.1h-1.1zM336.3 161.5h1.1v1.1h-1.1zM336.1 164h1.1v1.1h-1.1zM336.2 166.3h1.1v1.1h-1.1zM336.1 167.4h1.1v1.1h-1.1zM336.3 171.4h1.1v1.1h-1.1zM336.2 147.5h1.1v1.1h-1.1zM336.2 252.3h1.1v1.1h-1.1zM336.2 304.9h1.1v1.1h-1.1zM337 170.1h1.1v1.1h-1.1zM337 234h1.1v1.1h-1.1zM337.1 236.9h1.1v1.1h-1.1zM337 242.1h1.1v1.1h-1.1zM337.4 266.1h1.1v1.1h-1.1zM338.2 155.9h1.1v1.1h-1.1zM338.1 170.8h1.1v1.1h-1.1zM338.4 141.8h1.1v1.1h-1.1zM338.1 244.7h1.1v1.1h-1.1zM339.2 163.5h1.1v1.1h-1.1zM339.1 164.9h1.1v1.1h-1.1zM339 170.8h1.1v1.1h-1.1zM339.1 171.7h1.1v1.1h-1.1zM339 233.3h1.1v1.1h-1.1zM339.4 147.7h1.1v1.1h-1.1zM340 155.2h1.1v1.1h-1.1zM340.2 172h1.1v1.1h-1.1zM340.1 219.2h1.1v1.1h-1.1zM341.1 159h1.1v1.1h-1.1zM341.1 212.5h1.1v1.1h-1.1zM341 213.5h1.1v1.1h-1.1zM341.1 216.3h1.1v1.1h-1.1zM341.3 141.9h1.1v1.1h-1.1zM341.2 229.6h1.1v1.1h-1.1zM342.1 157h1.1v1.1h-1.1zM342.1 162.2h1.1v1.1h-1.1zM342.3 170.5h1.1v1.1h-1.1zM342.1 211.1h1.1v1.1h-1.1zM342.3 219.8h1.1v1.1h-1.1zM343.1 170.9h1.1v1.1h-1.1zM343.2 208.3h1.1v1.1h-1.1zM343.2 144.4h1.1v1.1h-1.1zM343.4 219.2h1.1v1.1h-1.1zM343 227.9h1.1v1.1h-1.1zM344.2 136.2h1.1v1.1h-1.1zM344.2 139.8h1.1v1.1h-1.1zM344.2 144.4h1.1v1.1h-1.1zM344 145.6h1.1v1.1h-1.1zM344.1 148.6h1.1v1.1h-1.1zM344.3 149.9h1.1v1.1h-1.1zM344.2 212.2h1.1v1.1h-1.1zM345.2 139h1.1v1.1h-1.1zM345 141h1.1v1.1h-1.1zM345.3 144h1.1v1.1h-1.1zM345.3 147.8h1.1v1.1h-1.1zM345 149.1h1.1v1.1h-1.1zM345.2 152.1h1.1v1.1h-1.1zM345.2 153.2h1.1v1.1h-1.1zM345.1 137h1.1v1.1h-1.1zM345.5 226.5h1.1v1.1h-1.1zM346.3 135.7h1.1v1.1h-1.1zM346.1 139.9h1.1v1.1h-1.1zM346 143.2h1.1v1.1h-1.1zM346 144.1h1.1v1.1h-1.1zM346.3 149.4h1.1v1.1h-1.1zM346.1 151.5h1.1v1.1h-1.1zM346.1 152.7h1.1v1.1h-1.1zM346.1 204.5h1.1v1.1h-1.1zM346.1 205.1h1.1v1.1h-1.1zM346.3 132h1.1v1.1h-1.1zM346.1 216.2h1.1v1.1h-1.1zM347.2 136.9h1.1v1.1h-1.1zM347.2 143.7h1.1v1.1h-1.1zM347.1 146.7h1.1v1.1h-1.1zM347.1 149.6h1.1v1.1h-1.1zM347.2 151.5h1.1v1.1h-1.1zM347.1 196.5h1.1v1.1h-1.1zM347 218h1.1v1.1h-1.1zM348.1 135.2h1.1v1.1h-1.1zM348 137h1.1v1.1h-1.1zM348 139h1.1v1.1h-1.1zM348.3 140.6h1.1v1.1h-1.1zM348.2 144.2h1.1v1.1h-1.1zM348.3 146.3h1.1v1.1h-1.1zM348.1 151.2h1.1v1.1h-1.1zM348.1 152.3h1.1v1.1h-1.1zM348.2 154.5h1.1v1.1h-1.1zM348.5 133.8h1.1v1.1h-1.1zM348.4 208.4h1.1v1.1h-1.1zM348.4 220.3h1.1v1.1h-1.1zM349.2 136.5h1.1v1.1h-1.1zM349.1 137.3h1.1v1.1h-1.1zM349.2 138.1h1.1v1.1h-1.1zM349.2 139h1.1v1.1h-1.1zM349.1 143.8h1.1v1.1h-1.1zM349.2 145.2h1.1v1.1h-1.1zM349.2 146.1h1.1v1.1h-1.1zM349 149.5h1.1v1.1h-1.1zM349.2 151.1h1.1v1.1h-1.1zM349 152.1h1.1v1.1h-1.1zM349.3 154.9h1.1v1.1h-1.1zM349 135.7h1.1v1.1h-1.1zM349.4 226.8h1.1v1.1h-1.1zM350.3 135.9h1.1v1.1h-1.1zM350.2 145.6h1.1v1.1h-1.1zM350 146.6h1.1v1.1h-1.1zM350.3 149h1.1v1.1h-1.1zM350.2 149.5h1.1v1.1h-1.1zM350 150.3h1.1v1.1h-1.1zM350.3 205.2h1.1v1.1h-1.1zM351.1 152.1h1.1v1.1h-1.1zM351.3 154.1h1.1v1.1h-1.1zM351.2 156.7h1.1v1.1h-1.1zM351.2 159.4h1.1v1.1h-1.1zM351.1 160.9h1.1v1.1h-1.1zM351.2 161.5h1.1v1.1h-1.1zM351.3 164.1h1.1v1.1h-1.1zM351 166.2h1.1v1.1h-1.1zM351.3 168.1h1.1v1.1h-1.1zM351.2 170.5h1.1v1.1h-1.1zM351.3 173.6h1.1v1.1h-1.1zM351.1 150.8h1.1v1.1h-1.1zM352.1 150.4h1.1v1.1h-1.1zM352.2 151.8h1.1v1.1h-1.1zM352.2 153.3h1.1v1.1h-1.1zM352.3 156.8h1.1v1.1h-1.1zM352.1 158.7h1.1v1.1h-1.1zM352.1 163.3h1.1v1.1h-1.1zM352.2 164.3h1.1v1.1h-1.1zM352.2 167.9h1.1v1.1h-1.1zM352.1 172.2h1.1v1.1h-1.1zM352.2 174.7h1.1v1.1h-1.1zM352.2 209.3h1.1v1.1h-1.1zM352.3 216.9h1.1v1.1h-1.1zM352.4 130h1.1v1.1h-1.1zM352.3 231.6h1.1v1.1h-1.1zM353.3 151.9h1.1v1.1h-1.1zM353.2 153.4h1.1v1.1h-1.1zM353.1 154.3h1.1v1.1h-1.1zM353.2 155.5h1.1v1.1h-1.1zM353.1 159.6h1.1v1.1h-1.1zM353.2 163.6h1.1v1.1h-1.1zM353 164.6h1.1v1.1h-1.1zM353.1 170.9h1.1v1.1h-1.1zM353.1 171.5h1.1v1.1h-1.1zM353 172.2h1.1v1.1h-1.1zM353.3 228.3h1.1v1.1h-1.1zM353.3 151.1h1.1v1.1h-1.1zM353.4 251.5h1.1v1.1h-1.1zM354.2 150.2h1.1v1.1h-1.1zM354.2 151.1h1.1v1.1h-1.1zM354.2 153h1.1v1.1h-1.1zM354.2 153.1h1.1v1.1h-1.1zM354 154h1.1v1.1h-1.1zM354 157h1.1v1.1h-1.1zM354.1 159.8h1.1v1.1h-1.1zM354.2 160.1h1.1v1.1h-1.1zM354.1 163h1.1v1.1h-1.1zM354.1 163.7h1.1v1.1h-1.1zM354.2 166.7h1.1v1.1h-1.1zM354.2 168.1h1.1v1.1h-1.1zM354.1 173.6h1.1v1.1h-1.1zM354 175h1.1v1.1h-1.1zM354.3 228.1h1.1v1.1h-1.1zM354.1 152.9h1.1v1.1h-1.1zM355.2 150.4h1.1v1.1h-1.1zM355.1 155.1h1.1v1.1h-1.1zM355.1 156.4h1.1v1.1h-1.1zM355.3 157.3h1.1v1.1h-1.1zM355 158.4h1.1v1.1h-1.1zM355.1 167.8h1.1v1.1h-1.1zM355.1 168.6h1.1v1.1h-1.1zM355.1 175h1.1v1.1h-1.1zM355.3 241.9h1.1v1.1h-1.1zM355.2 121.3h1.1v1.1h-1.1zM355.2 241.1h1.1v1.1h-1.1zM356.2 151.9h1.1v1.1h-1.1zM356.1 155.7h1.1v1.1h-1.1zM356.2 157.5h1.1v1.1h-1.1zM356 158.3h1.1v1.1h-1.1zM356.1 160.6h1.1v1.1h-1.1zM356.2 164.6h1.1v1.1h-1.1zM356.1 167.7h1.1v1.1h-1.1zM356.2 172.8h1.1v1.1h-1.1zM356.2 174.8h1.1v1.1h-1.1zM356.1 229h1.1v1.1h-1.1zM356.3 238.6h1.1v1.1h-1.1zM357.3 152.2h1.1v1.1h-1.1zM357 156.2h1.1v1.1h-1.1zM357 159.6h1.1v1.1h-1.1zM357.3 160.9h1.1v1.1h-1.1zM357.2 165h1.1v1.1h-1.1zM357.1 174.3h1.1v1.1h-1.1zM357.2 219.3h1.1v1.1h-1.1zM357.2 222.4h1.1v1.1h-1.1zM357 232.4h1.1v1.1h-1.1zM357.4 140.9h1.1v1.1h-1.1zM357.3 297.6h1.1v1.1h-1.1zM358 150.3h1.1v1.1h-1.1zM358.2 154.6h1.1v1.1h-1.1zM358 155.9h1.1v1.1h-1.1zM358.1 156.3h1.1v1.1h-1.1zM358.1 163.1h1.1v1.1h-1.1zM358 164.3h1.1v1.1h-1.1zM358.1 165.9h1.1v1.1h-1.1zM358.2 166.9h1.1v1.1h-1.1zM358.2 167.5h1.1v1.1h-1.1zM358.3 168.8h1.1v1.1h-1.1zM358.3 169.6h1.1v1.1h-1.1zM358 171.7h1.1v1.1h-1.1zM358 173.6h1.1v1.1h-1.1zM358.1 174.9h1.1v1.1h-1.1zM358.1 205.3h1.1v1.1h-1.1zM358.1 210.6h1.1v1.1h-1.1zM358.1 211.8h1.1v1.1h-1.1zM358.5 238.9h1.1v1.1h-1.1zM359.1 155.4h1.1v1.1h-1.1zM359.1 157.6h1.1v1.1h-1.1zM359.1 160.8h1.1v1.1h-1.1zM359.2 162.4h1.1v1.1h-1.1zM359 163.2h1.1v1.1h-1.1zM359.1 165.6h1.1v1.1h-1.1zM359.1 168h1.1v1.1h-1.1zM359.1 170.2h1.1v1.1h-1.1zM359.1 172.1h1.1v1.1h-1.1zM359.2 173.3h1.1v1.1h-1.1zM359.3 174.1h1.1v1.1h-1.1zM359.1 213.4h1.1v1.1h-1.1zM359.1 227.2h1.1v1.1h-1.1zM359.4 125.9h1.1v1.1h-1.1zM359.4 229.8h1.1v1.1h-1.1zM360 157.2h1.1v1.1h-1.1zM360.1 160.6h1.1v1.1h-1.1zM360.2 165h1.1v1.1h-1.1zM360.2 167.7h1.1v1.1h-1.1zM360.2 171.6h1.1v1.1h-1.1zM360.2 173.9h1.1v1.1h-1.1zM360.2 218.1h1.1v1.1h-1.1zM360.2 229.6h1.1v1.1h-1.1zM361.3 151h1.1v1.1h-1.1zM361.3 151.9h1.1v1.1h-1.1zM361.2 153.8h1.1v1.1h-1.1zM361.1 154.1h1.1v1.1h-1.1zM361.2 155.3h1.1v1.1h-1.1zM361 159.7h1.1v1.1h-1.1zM361.1 160.5h1.1v1.1h-1.1zM361.1 167.6h1.1v1.1h-1.1zM361.3 170.8h1.1v1.1h-1.1zM361.1 171h1.1v1.1h-1.1zM361.2 173.7h1.1v1.1h-1.1zM361.2 217h1.1v1.1h-1.1zM361.3 234.4h1.1v1.1h-1.1zM361.1 256.8h1.1v1.1h-1.1zM362.3 150.1h1.1v1.1h-1.1zM362.1 151.3h1.1v1.1h-1.1zM362.2 153h1.1v1.1h-1.1zM362.1 154.9h1.1v1.1h-1.1zM362.1 156.2h1.1v1.1h-1.1zM362.1 157.7h1.1v1.1h-1.1zM362 159.8h1.1v1.1h-1.1zM362.2 162.1h1.1v1.1h-1.1zM362.3 164.8h1.1v1.1h-1.1zM362.2 171.1h1.1v1.1h-1.1zM362 173.7h1.1v1.1h-1.1zM362 142.1h1.1v1.1h-1.1zM362.2 234.5h1.1v1.1h-1.1zM363.1 150.7h1.1v1.1h-1.1zM363.3 152h1.1v1.1h-1.1zM363.1 152.1h1.1v1.1h-1.1zM363.3 154.7h1.1v1.1h-1.1zM363.2 158.1h1.1v1.1h-1.1zM363.3 160h1.1v1.1h-1.1zM363.1 160.4h1.1v1.1h-1.1zM363.2 228.7h1.1v1.1h-1.1zM364.2 150.7h1.1v1.1h-1.1zM364 151.9h1.1v1.1h-1.1zM364.3 152.2h1.1v1.1h-1.1zM364.1 155.2h1.1v1.1h-1.1zM364.2 157.3h1.1v1.1h-1.1zM364.2 158.3h1.1v1.1h-1.1zM364 226.5h1.1v1.1h-1.1zM364.4 235.2h1.1v1.1h-1.1zM365.3 153.4h1.1v1.1h-1.1zM365.3 154.3h1.1v1.1h-1.1zM365.2 157.3h1.1v1.1h-1.1zM365.3 158.9h1.1v1.1h-1.1zM365.1 231.4h1.1v1.1h-1.1zM365.2 152.9h1.1v1.1h-1.1zM365.4 233.2h1.1v1.1h-1.1zM366.2 150.7h1.1v1.1h-1.1zM366.3 151.9h1.1v1.1h-1.1zM366.2 156.4h1.1v1.1h-1.1zM366.1 157.1h1.1v1.1h-1.1zM366.2 160h1.1v1.1h-1.1zM366.1 227.2h1.1v1.1h-1.1zM366.1 243.8h1.1v1.1h-1.1zM367 150.8h1.1v1.1h-1.1zM367.1 152.3h1.1v1.1h-1.1zM367 156.2h1.1v1.1h-1.1zM367.1 134.6h1.1v1.1h-1.1zM367.1 238.4h1.1v1.1h-1.1zM368.2 152.3h1.1v1.1h-1.1zM368 153.8h1.1v1.1h-1.1zM368.1 157.1h1.1v1.1h-1.1zM368.2 158h1.1v1.1h-1.1zM368 159.8h1.1v1.1h-1.1zM368.1 219h1.1v1.1h-1.1zM368.1 227.7h1.1v1.1h-1.1zM368.3 234h1.1v1.1h-1.1zM368 234.3h1.1v1.1h-1.1zM368.2 151h1.1v1.1h-1.1zM369.2 148.8h1.1v1.1h-1.1zM369.1 150.4h1.1v1.1h-1.1zM369.2 156.6h1.1v1.1h-1.1zM369.3 158.5h1.1v1.1h-1.1zM369.1 163.5h1.1v1.1h-1.1zM369.3 244.3h1.1v1.1h-1.1zM369.3 127.8h1.1v1.1h-1.1zM370.1 149.6h1.1v1.1h-1.1zM370.1 150.9h1.1v1.1h-1.1zM370.2 151.4h1.1v1.1h-1.1zM370.2 156.8h1.1v1.1h-1.1zM370.1 157.7h1.1v1.1h-1.1zM370.1 161.8h1.1v1.1h-1.1zM370.2 163.4h1.1v1.1h-1.1zM370.2 248.5h1.1v1.1h-1.1zM371.1 148.1h1.1v1.1h-1.1zM371 149h1.1v1.1h-1.1zM371.2 150.5h1.1v1.1h-1.1zM371 153.7h1.1v1.1h-1.1zM371.1 156.4h1.1v1.1h-1.1zM371 158h1.1v1.1h-1.1zM371.2 162.2h1.1v1.1h-1.1zM371 163.3h1.1v1.1h-1.1zM371.3 127.2h1.1v1.1h-1.1zM372.1 151.5h1.1v1.1h-1.1zM372 154.5h1.1v1.1h-1.1zM372.1 156.7h1.1v1.1h-1.1zM372 158.8h1.1v1.1h-1.1zM372.3 164.1h1.1v1.1h-1.1zM372.3 235.8h1.1v1.1h-1.1zM372 236.3h1.1v1.1h-1.1zM372.1 237.8h1.1v1.1h-1.1zM372.3 260.5h1.1v1.1h-1.1zM373.1 148.1h1.1v1.1h-1.1zM373.2 150h1.1v1.1h-1.1zM373.3 152.3h1.1v1.1h-1.1zM373.2 153.2h1.1v1.1h-1.1zM373.2 156.2h1.1v1.1h-1.1zM373 157.2h1.1v1.1h-1.1zM373 158.4h1.1v1.1h-1.1zM373.3 228.9h1.1v1.1h-1.1zM373.1 240.9h1.1v1.1h-1.1zM373.2 251.7h1.1v1.1h-1.1zM373.1 149.5h1.1v1.1h-1.1zM373 273.3h1.1v1.1h-1.1zM374.1 156.1h1.1v1.1h-1.1zM374.3 158.3h1.1v1.1h-1.1zM374.2 159.2h1.1v1.1h-1.1zM374.1 160.6h1.1v1.1h-1.1zM374.2 254.7h1.1v1.1h-1.1zM374.4 150.1h1.1v1.1h-1.1zM374.4 269.2h1.1v1.1h-1.1zM375.1 148.3h1.1v1.1h-1.1zM375.1 150.1h1.1v1.1h-1.1zM375.1 151.1h1.1v1.1h-1.1zM375.1 153.9h1.1v1.1h-1.1zM375.2 156.5h1.1v1.1h-1.1zM375.3 162.9h1.1v1.1h-1.1zM375.2 163.8h1.1v1.1h-1.1zM376.2 122.4h1.1v1.1h-1.1zM376.2 125.3h1.1v1.1h-1.1zM376.1 126.1h1.1v1.1h-1.1zM376.1 128.1h1.1v1.1h-1.1zM376.1 130.6h1.1v1.1h-1.1zM376.3 132.4h1.1v1.1h-1.1zM376.1 133.6h1.1v1.1h-1.1zM376.2 134.3h1.1v1.1h-1.1zM376.1 138.5h1.1v1.1h-1.1zM376.1 139.6h1.1v1.1h-1.1zM376.1 140.4h1.1v1.1h-1.1zM376.3 142.7h1.1v1.1h-1.1zM376.3 229h1.1v1.1h-1.1zM376.1 92.5h1.1v1.1h-1.1zM376.4 285.7h1.1v1.1h-1.1zM377 122.1h1.1v1.1h-1.1zM377 126.1h1.1v1.1h-1.1zM377.3 127.8h1.1v1.1h-1.1zM377.2 128.2h1.1v1.1h-1.1zM377.1 129.2h1.1v1.1h-1.1zM377.1 130.3h1.1v1.1h-1.1zM377 134.6h1.1v1.1h-1.1zM377.1 135.4h1.1v1.1h-1.1zM377.2 139.7h1.1v1.1h-1.1zM377.3 142h1.1v1.1h-1.1zM377.2 234.1h1.1v1.1h-1.1zM377.5 102.5h1.1v1.1h-1.1zM377.5 243h1.1v1.1h-1.1zM378.2 122.1h1.1v1.1h-1.1zM378.2 127.9h1.1v1.1h-1.1zM378.2 129.4h1.1v1.1h-1.1zM378.2 130.8h1.1v1.1h-1.1zM378 133.6h1.1v1.1h-1.1zM378.2 134.1h1.1v1.1h-1.1zM378.2 136.2h1.1v1.1h-1.1zM378.3 141.3h1.1v1.1h-1.1zM378.1 142.4h1.1v1.1h-1.1zM378.3 144.8h1.1v1.1h-1.1zM378.2 219.9h1.1v1.1h-1.1zM378.5 113.9h1.1v1.1h-1.1zM378.4 274.8h1.1v1.1h-1.1zM379 127.7h1.1v1.1h-1.1zM379.1 131.6h1.1v1.1h-1.1zM379 132.1h1.1v1.1h-1.1zM379.1 133.2h1.1v1.1h-1.1zM379.2 141.8h1.1v1.1h-1.1zM379.1 142h1.1v1.1h-1.1zM379.1 144.2h1.1v1.1h-1.1zM380.1 123.6h1.1v1.1h-1.1zM380 125.6h1.1v1.1h-1.1zM380 127h1.1v1.1h-1.1zM380.2 129.9h1.1v1.1h-1.1zM380.1 131.4h1.1v1.1h-1.1zM380.1 134h1.1v1.1h-1.1zM380.1 136h1.1v1.1h-1.1zM380.2 138.6h1.1v1.1h-1.1zM380.2 139.8h1.1v1.1h-1.1zM380.2 140.7h1.1v1.1h-1.1zM380.2 142.7h1.1v1.1h-1.1zM380.1 219.1h1.1v1.1h-1.1zM380.2 234.2h1.1v1.1h-1.1zM380.3 120.5h1.1v1.1h-1.1zM380.1 252.4h1.1v1.1h-1.1zM381.2 122.2h1.1v1.1h-1.1zM381.3 123.3h1.1v1.1h-1.1zM381 127.6h1.1v1.1h-1.1zM381.1 130.5h1.1v1.1h-1.1zM381 131.1h1.1v1.1h-1.1zM381.1 132.1h1.1v1.1h-1.1zM381 133.7h1.1v1.1h-1.1zM381.2 135h1.1v1.1h-1.1zM381 138.5h1.1v1.1h-1.1zM381 139.8h1.1v1.1h-1.1zM381.2 123.8h1.1v1.1h-1.1zM381.2 260.4h1.1v1.1h-1.1zM382.1 122.7h1.1v1.1h-1.1zM382.2 125.4h1.1v1.1h-1.1zM382.1 134.2h1.1v1.1h-1.1zM382.2 137.9h1.1v1.1h-1.1zM382.1 139.5h1.1v1.1h-1.1zM383 122.3h1.1v1.1h-1.1zM383.1 124.8h1.1v1.1h-1.1zM383 125.7h1.1v1.1h-1.1zM383.2 129.5h1.1v1.1h-1.1zM383.1 131.4h1.1v1.1h-1.1zM383.2 135h1.1v1.1h-1.1zM383.2 135.7h1.1v1.1h-1.1zM383 137.9h1.1v1.1h-1.1zM383.2 138.9h1.1v1.1h-1.1zM383.3 232.3h1.1v1.1h-1.1zM383.2 113.6h1.1v1.1h-1.1zM383.4 237.9h1.1v1.1h-1.1zM384.2 124.8h1.1v1.1h-1.1zM384.2 125.5h1.1v1.1h-1.1zM384.1 131.3h1.1v1.1h-1.1zM384.2 132.6h1.1v1.1h-1.1zM384.1 140.3h1.1v1.1h-1.1zM384.3 117.7h1.1v1.1h-1.1zM384 263h1.1v1.1h-1.1zM385 123.2h1.1v1.1h-1.1zM385.2 124.7h1.1v1.1h-1.1zM385.2 128.4h1.1v1.1h-1.1zM385.1 130.2h1.1v1.1h-1.1zM385.2 133.6h1.1v1.1h-1.1zM385.1 135.7h1.1v1.1h-1.1zM385.1 136.6h1.1v1.1h-1.1zM385.1 139.4h1.1v1.1h-1.1zM385.1 142.2h1.1v1.1h-1.1zM385.2 234h1.1v1.1h-1.1zM385.5 122.8h1.1v1.1h-1.1zM385.3 252.4h1.1v1.1h-1.1zM386.3 123.8h1.1v1.1h-1.1zM386 128.1h1.1v1.1h-1.1zM386.2 129.7h1.1v1.1h-1.1zM386.1 131.9h1.1v1.1h-1.1zM386.3 134.4h1.1v1.1h-1.1zM386.2 136.8h1.1v1.1h-1.1zM386.3 139.1h1.1v1.1h-1.1zM386.2 143.8h1.1v1.1h-1.1zM386.3 144.4h1.1v1.1h-1.1zM386 222.2h1.1v1.1h-1.1zM386.1 236.7h1.1v1.1h-1.1zM387.2 122.9h1.1v1.1h-1.1zM387.3 124.9h1.1v1.1h-1.1zM387.2 126.6h1.1v1.1h-1.1zM387.1 127h1.1v1.1h-1.1zM387.2 128.8h1.1v1.1h-1.1zM387 129.3h1.1v1.1h-1.1zM387.2 130.3h1.1v1.1h-1.1zM387.1 132.6h1.1v1.1h-1.1zM387.1 134.3h1.1v1.1h-1.1zM387.2 136.7h1.1v1.1h-1.1zM387.2 138.1h1.1v1.1h-1.1zM387.3 139.2h1.1v1.1h-1.1zM387 141h1.1v1.1h-1.1zM387.1 144.3h1.1v1.1h-1.1zM387.1 228.8h1.1v1.1h-1.1zM387.4 122.2h1.1v1.1h-1.1zM388.2 124.1h1.1v1.1h-1.1zM388.1 127.6h1.1v1.1h-1.1zM388 132.7h1.1v1.1h-1.1zM388.2 133.7h1.1v1.1h-1.1zM388.1 135.3h1.1v1.1h-1.1zM388.1 136.8h1.1v1.1h-1.1zM388.2 139.6h1.1v1.1h-1.1zM388.1 140.3h1.1v1.1h-1.1zM388.3 142.4h1.1v1.1h-1.1zM388.2 144.9h1.1v1.1h-1.1zM388.1 229.1h1.1v1.1h-1.1zM389.1 123.9h1.1v1.1h-1.1zM389.2 127.6h1.1v1.1h-1.1zM389 128.5h1.1v1.1h-1.1zM389.2 130.1h1.1v1.1h-1.1zM389.2 133.7h1.1v1.1h-1.1zM389.1 136.1h1.1v1.1h-1.1zM389.2 139.5h1.1v1.1h-1.1zM389.1 144.2h1.1v1.1h-1.1zM389.2 217.1h1.1v1.1h-1.1zM389.1 231.4h1.1v1.1h-1.1zM389 232.8h1.1v1.1h-1.1zM389.1 255.8h1.1v1.1h-1.1zM390.1 129.8h1.1v1.1h-1.1zM390.3 131.8h1.1v1.1h-1.1zM390.1 133.3h1.1v1.1h-1.1zM390 136.8h1.1v1.1h-1.1zM390.1 137.5h1.1v1.1h-1.1zM390.1 138.2h1.1v1.1h-1.1zM390.3 143.9h1.1v1.1h-1.1zM390.2 144.8h1.1v1.1h-1.1zM390.2 119h1.1v1.1h-1.1zM391.1 135.1h1.1v1.1h-1.1zM391 139.8h1.1v1.1h-1.1zM391.3 141.8h1.1v1.1h-1.1zM391.1 147.5h1.1v1.1h-1.1zM391.1 149.8h1.1v1.1h-1.1zM391.1 231.1h1.1v1.1h-1.1zM391.3 131.7h1.1v1.1h-1.1zM391.1 247.9h1.1v1.1h-1.1zM392.1 135.8h1.1v1.1h-1.1zM392.1 137h1.1v1.1h-1.1zM392.1 139.3h1.1v1.1h-1.1zM392 141.1h1.1v1.1h-1.1zM392 146.5h1.1v1.1h-1.1zM392.2 148.4h1.1v1.1h-1.1zM392.2 231.1h1.1v1.1h-1.1zM392.2 233.3h1.1v1.1h-1.1zM392.2 114.3h1.1v1.1h-1.1zM392.1 247h1.1v1.1h-1.1zM393.1 136.1h1.1v1.1h-1.1zM393.1 140.4h1.1v1.1h-1.1zM393.3 142.3h1.1v1.1h-1.1zM393 145h1.1v1.1h-1.1zM393.1 149.3h1.1v1.1h-1.1zM393.1 221.3h1.1v1.1h-1.1zM393.2 129.6h1.1v1.1h-1.1zM394.3 136h1.1v1.1h-1.1zM394.2 137.4h1.1v1.1h-1.1zM394.1 138.9h1.1v1.1h-1.1zM394.3 140.2h1.1v1.1h-1.1zM394.2 141.8h1.1v1.1h-1.1zM394.2 143.2h1.1v1.1h-1.1zM394.3 144.9h1.1v1.1h-1.1zM394.1 148.9h1.1v1.1h-1.1zM394.1 227.2h1.1v1.1h-1.1zM395.1 136.8h1.1v1.1h-1.1zM395.3 138.5h1.1v1.1h-1.1zM395.2 139.2h1.1v1.1h-1.1zM395.2 120.9h1.1v1.1h-1.1zM395.4 243.1h1.1v1.1h-1.1zM395.2 255.2h1.1v1.1h-1.1zM396.3 137.3h1.1v1.1h-1.1zM396.2 139.7h1.1v1.1h-1.1zM396.2 141.2h1.1v1.1h-1.1zM396.3 143.2h1.1v1.1h-1.1zM396.3 146.8h1.1v1.1h-1.1zM396.2 149.8h1.1v1.1h-1.1zM396.1 217.3h1.1v1.1h-1.1zM397.2 128.1h1.1v1.1h-1.1zM397.3 129.8h1.1v1.1h-1.1zM397.1 130h1.1v1.1h-1.1zM397.2 133.4h1.1v1.1h-1.1zM397.3 137.8h1.1v1.1h-1.1zM397 138.8h1.1v1.1h-1.1zM397.3 140.6h1.1v1.1h-1.1zM397.1 142.4h1.1v1.1h-1.1zM397.3 144.4h1.1v1.1h-1.1zM397.3 125.7h1.1v1.1h-1.1zM398.1 128.8h1.1v1.1h-1.1zM398.1 129.2h1.1v1.1h-1.1zM398.1 132h1.1v1.1h-1.1zM398.2 133.5h1.1v1.1h-1.1zM398 134h1.1v1.1h-1.1zM398.1 136h1.1v1.1h-1.1zM398.2 141.2h1.1v1.1h-1.1zM398.1 142.4h1.1v1.1h-1.1zM398.2 143h1.1v1.1h-1.1zM398.2 144.8h1.1v1.1h-1.1zM398.3 206.7h1.1v1.1h-1.1zM398.5 130.6h1.1v1.1h-1.1zM399.1 128.1h1.1v1.1h-1.1zM399.3 129.8h1.1v1.1h-1.1zM399.3 137.3h1.1v1.1h-1.1zM399.2 138h1.1v1.1h-1.1zM399.2 142.1h1.1v1.1h-1.1zM399.2 123.5h1.1v1.1h-1.1zM399.2 213.3h1.1v1.1h-1.1zM400.1 129.1h1.1v1.1h-1.1zM400.1 130h1.1v1.1h-1.1zM400.1 131.4h1.1v1.1h-1.1zM400.1 139.1h1.1v1.1h-1.1zM400.1 141.2h1.1v1.1h-1.1zM400 143.4h1.1v1.1h-1.1zM400.1 144.7h1.1v1.1h-1.1zM400.3 146.1h1.1v1.1h-1.1zM400.1 199.8h1.1v1.1h-1.1zM400.2 212h1.1v1.1h-1.1zM400.4 218.8h1.1v1.1h-1.1zM401.1 125.3h1.1v1.1h-1.1zM401.2 126.2h1.1v1.1h-1.1zM401 127.8h1.1v1.1h-1.1zM401.1 129.4h1.1v1.1h-1.1zM401.1 132h1.1v1.1h-1.1zM401.2 132.6h1.1v1.1h-1.1zM401.1 138.5h1.1v1.1h-1.1zM401.1 141.9h1.1v1.1h-1.1zM401.2 142.3h1.1v1.1h-1.1zM401.1 145.4h1.1v1.1h-1.1zM401.1 147.2h1.1v1.1h-1.1zM401.3 209.5h1.1v1.1h-1.1zM401.1 217.4h1.1v1.1h-1.1zM401.3 100.7h1.1v1.1h-1.1zM402 126.9h1.1v1.1h-1.1zM402.2 128h1.1v1.1h-1.1zM402.1 129.8h1.1v1.1h-1.1zM402.1 131.5h1.1v1.1h-1.1zM402 132.3h1.1v1.1h-1.1zM402.3 133.3h1.1v1.1h-1.1zM402.1 135.2h1.1v1.1h-1.1zM402.1 136.7h1.1v1.1h-1.1zM402.2 138.7h1.1v1.1h-1.1zM402.2 142h1.1v1.1h-1.1zM402.3 144.5h1.1v1.1h-1.1zM402 147.9h1.1v1.1h-1.1zM402.1 149.9h1.1v1.1h-1.1zM402.1 208.2h1.1v1.1h-1.1zM403.1 127.8h1.1v1.1h-1.1zM403.3 130.8h1.1v1.1h-1.1zM403.2 132.1h1.1v1.1h-1.1zM403.1 137.5h1.1v1.1h-1.1zM403.1 138.6h1.1v1.1h-1.1zM403.3 139.5h1.1v1.1h-1.1zM403.1 140.3h1.1v1.1h-1.1zM403 141.3h1.1v1.1h-1.1zM403.2 151h1.1v1.1h-1.1zM403.2 231.9h1.1v1.1h-1.1zM403.3 233.3h1.1v1.1h-1.1zM404.2 128.8h1.1v1.1h-1.1zM404.1 130.7h1.1v1.1h-1.1zM404.1 136.9h1.1v1.1h-1.1zM404.1 138.3h1.1v1.1h-1.1zM404.1 140.4h1.1v1.1h-1.1zM404.1 141h1.1v1.1h-1.1zM404.2 143.9h1.1v1.1h-1.1zM404.1 144.7h1.1v1.1h-1.1zM404.1 148.5h1.1v1.1h-1.1zM404.2 150.8h1.1v1.1h-1.1zM404.2 124.1h1.1v1.1h-1.1zM405.1 126.3h1.1v1.1h-1.1zM405.1 127.5h1.1v1.1h-1.1zM405.2 130.6h1.1v1.1h-1.1zM405.2 131.9h1.1v1.1h-1.1zM405.2 137.2h1.1v1.1h-1.1zM405 140.5h1.1v1.1h-1.1zM405.1 146.6h1.1v1.1h-1.1zM405.3 147.8h1.1v1.1h-1.1zM405.2 149.5h1.1v1.1h-1.1zM405.1 150.7h1.1v1.1h-1.1zM405.1 236.1h1.1v1.1h-1.1zM405.1 250.9h1.1v1.1h-1.1zM405.4 123h1.1v1.1h-1.1zM406.1 126.9h1.1v1.1h-1.1zM406.1 127.2h1.1v1.1h-1.1zM406.3 129.1h1.1v1.1h-1.1zM406.2 135.1h1.1v1.1h-1.1zM406 136.2h1.1v1.1h-1.1zM406.1 141.4h1.1v1.1h-1.1zM406.1 143.2h1.1v1.1h-1.1zM406 145.6h1.1v1.1h-1.1zM406.1 148.2h1.1v1.1h-1.1zM406.1 149.4h1.1v1.1h-1.1zM406.1 253.7h1.1v1.1h-1.1zM407.2 125.8h1.1v1.1h-1.1zM407.2 129.8h1.1v1.1h-1.1zM407 130.5h1.1v1.1h-1.1zM407.1 132.9h1.1v1.1h-1.1zM407.1 135.3h1.1v1.1h-1.1zM407.2 140h1.1v1.1h-1.1zM407.1 140h1.1v1.1h-1.1zM407.1 142.9h1.1v1.1h-1.1zM407.3 145.3h1.1v1.1h-1.1zM407.3 148.4h1.1v1.1h-1.1zM407.1 149h1.1v1.1h-1.1zM407.2 246.2h1.1v1.1h-1.1zM407.1 263.3h1.1v1.1h-1.1zM408.1 122.6h1.1v1.1h-1.1zM408.3 124h1.1v1.1h-1.1zM408.2 125.3h1.1v1.1h-1.1zM408.1 135h1.1v1.1h-1.1zM408.2 136.5h1.1v1.1h-1.1zM408 137.2h1.1v1.1h-1.1zM408.3 144.6h1.1v1.1h-1.1zM408 147.2h1.1v1.1h-1.1zM408.1 148.4h1.1v1.1h-1.1zM408.5 258.7h1.1v1.1h-1.1zM409.2 122.7h1.1v1.1h-1.1zM409.1 126h1.1v1.1h-1.1zM409 127.3h1.1v1.1h-1.1zM409.1 128.3h1.1v1.1h-1.1zM409.2 131.1h1.1v1.1h-1.1zM409.2 132.1h1.1v1.1h-1.1zM409.1 133.2h1.1v1.1h-1.1zM409.1 134.9h1.1v1.1h-1.1zM409.2 135.2h1.1v1.1h-1.1zM409 143.8h1.1v1.1h-1.1zM409.2 148.8h1.1v1.1h-1.1zM409.1 232.3h1.1v1.1h-1.1zM409.3 250.3h1.1v1.1h-1.1zM409.1 255h1.1v1.1h-1.1zM410 129.5h1.1v1.1h-1.1zM410.1 132.3h1.1v1.1h-1.1zM410.1 135.7h1.1v1.1h-1.1zM410.2 138.5h1.1v1.1h-1.1zM410.3 140.9h1.1v1.1h-1.1zM410.1 142.4h1.1v1.1h-1.1zM410.1 144.4h1.1v1.1h-1.1zM410.1 147.1h1.1v1.1h-1.1zM410.1 231.6h1.1v1.1h-1.1zM410.1 248.3h1.1v1.1h-1.1zM410.3 255.3h1.1v1.1h-1.1zM410.4 118.9h1.1v1.1h-1.1zM410.3 266.8h1.1v1.1h-1.1zM411.1 124h1.1v1.1h-1.1zM411.1 126.9h1.1v1.1h-1.1zM411.2 127.7h1.1v1.1h-1.1zM411.1 129.8h1.1v1.1h-1.1zM411.1 130.5h1.1v1.1h-1.1zM411.2 131.8h1.1v1.1h-1.1zM411.2 133.9h1.1v1.1h-1.1zM411.1 140.5h1.1v1.1h-1.1zM411.3 143.1h1.1v1.1h-1.1zM411.1 145h1.1v1.1h-1.1zM411.2 148.1h1.1v1.1h-1.1zM411.1 244.5h1.1v1.1h-1.1zM411.1 254.3h1.1v1.1h-1.1zM411.5 124.3h1.1v1.1h-1.1zM411.4 271.3h1.1v1.1h-1.1zM412.2 124.2h1.1v1.1h-1.1zM412.1 129.5h1.1v1.1h-1.1zM412.2 130.3h1.1v1.1h-1.1zM412.2 131.1h1.1v1.1h-1.1zM412 132.7h1.1v1.1h-1.1zM412.1 133.9h1.1v1.1h-1.1zM412.2 136.8h1.1v1.1h-1.1zM412 137.2h1.1v1.1h-1.1zM412.2 141.4h1.1v1.1h-1.1zM412.2 142.3h1.1v1.1h-1.1zM412.1 143.4h1.1v1.1h-1.1zM412.3 144.4h1.1v1.1h-1.1zM412 145.1h1.1v1.1h-1.1zM412 146.5h1.1v1.1h-1.1zM412.2 149.7h1.1v1.1h-1.1zM412.1 232.2h1.1v1.1h-1.1zM413.2 122.1h1.1v1.1h-1.1zM413.2 123.3h1.1v1.1h-1.1zM413.2 124.6h1.1v1.1h-1.1zM413 126h1.1v1.1h-1.1zM413.1 128.5h1.1v1.1h-1.1zM413.2 129.1h1.1v1.1h-1.1zM413.3 132.9h1.1v1.1h-1.1zM413 134.7h1.1v1.1h-1.1zM413.1 136.8h1.1v1.1h-1.1zM413.1 144.9h1.1v1.1h-1.1zM413.1 149.2h1.1v1.1h-1.1zM413 248h1.1v1.1h-1.1zM413.1 122.8h1.1v1.1h-1.1zM414.1 123.4h1.1v1.1h-1.1zM414.2 125.8h1.1v1.1h-1.1zM414 127.8h1.1v1.1h-1.1zM414 128.6h1.1v1.1h-1.1zM414.3 133.3h1.1v1.1h-1.1zM414.2 135.7h1.1v1.1h-1.1zM414 137.6h1.1v1.1h-1.1zM414.2 138.6h1.1v1.1h-1.1zM414.3 142.6h1.1v1.1h-1.1zM414.3 144.6h1.1v1.1h-1.1zM414.3 149.3h1.1v1.1h-1.1zM414.3 241.3h1.1v1.1h-1.1zM414.1 124.7h1.1v1.1h-1.1zM415.1 123.2h1.1v1.1h-1.1zM415.1 126.3h1.1v1.1h-1.1zM415.2 127.8h1.1v1.1h-1.1zM415.1 128.9h1.1v1.1h-1.1zM415.2 129.9h1.1v1.1h-1.1zM415.2 130.3h1.1v1.1h-1.1zM415.1 132.7h1.1v1.1h-1.1zM415.1 133.9h1.1v1.1h-1.1zM415.1 134.6h1.1v1.1h-1.1zM415.1 135.2h1.1v1.1h-1.1zM415.2 138.9h1.1v1.1h-1.1zM415.2 139.3h1.1v1.1h-1.1zM415.1 144.9h1.1v1.1h-1.1zM415 148.5h1.1v1.1h-1.1zM415 208.4h1.1v1.1h-1.1zM415.2 217.3h1.1v1.1h-1.1zM415.3 225.3h1.1v1.1h-1.1zM415.2 242h1.1v1.1h-1.1zM415.5 124h1.1v1.1h-1.1zM415.3 256.4h1.1v1.1h-1.1zM416.2 123.1h1.1v1.1h-1.1zM416.1 124.9h1.1v1.1h-1.1zM416.1 129.5h1.1v1.1h-1.1zM416.1 130.7h1.1v1.1h-1.1zM416 133h1.1v1.1h-1.1zM416.1 143.6h1.1v1.1h-1.1zM416.2 144.6h1.1v1.1h-1.1zM416 149h1.1v1.1h-1.1zM416.4 116.1h1.1v1.1h-1.1zM416 265h1.1v1.1h-1.1zM417.1 125h1.1v1.1h-1.1zM417.1 127.6h1.1v1.1h-1.1zM417.1 129.3h1.1v1.1h-1.1zM417.3 130.2h1.1v1.1h-1.1zM417.3 131.1h1.1v1.1h-1.1zM417.1 132.6h1.1v1.1h-1.1zM417.2 136.2h1.1v1.1h-1.1zM417.2 139.9h1.1v1.1h-1.1zM417.3 227.5h1.1v1.1h-1.1zM417.3 238.4h1.1v1.1h-1.1zM417.3 116h1.1v1.1h-1.1zM417.4 248.7h1.1v1.1h-1.1zM418.1 124.6h1.1v1.1h-1.1zM418.2 127.1h1.1v1.1h-1.1zM418 131.7h1.1v1.1h-1.1zM418 132h1.1v1.1h-1.1zM418 135.6h1.1v1.1h-1.1zM418.2 137.5h1.1v1.1h-1.1zM418 139.6h1.1v1.1h-1.1zM418.2 225.4h1.1v1.1h-1.1zM418 254.3h1.1v1.1h-1.1zM419.2 123.1h1.1v1.1h-1.1zM419.2 125.5h1.1v1.1h-1.1zM419.3 126.5h1.1v1.1h-1.1zM419 133.8h1.1v1.1h-1.1zM419.1 138.8h1.1v1.1h-1.1zM419 243.2h1.1v1.1h-1.1zM419.3 250.8h1.1v1.1h-1.1zM420.2 126.3h1.1v1.1h-1.1zM420.1 128.5h1.1v1.1h-1.1zM420 134.3h1.1v1.1h-1.1zM420.1 137.7h1.1v1.1h-1.1zM420.2 234.7h1.1v1.1h-1.1zM420.4 88.6h1.1v1.1h-1.1zM420.1 261.9h1.1v1.1h-1.1zM421.2 121.2h1.1v1.1h-1.1zM421.3 124.7h1.1v1.1h-1.1zM421 125.7h1.1v1.1h-1.1zM421 130.4h1.1v1.1h-1.1zM421.2 131.2h1.1v1.1h-1.1zM421 135.8h1.1v1.1h-1.1zM421.2 138.9h1.1v1.1h-1.1zM421.1 139.3h1.1v1.1h-1.1zM421.3 218.4h1.1v1.1h-1.1zM421.3 220.5h1.1v1.1h-1.1zM421 228.1h1.1v1.1h-1.1zM421.1 120h1.1v1.1h-1.1zM422.1 120.6h1.1v1.1h-1.1zM422.1 124.6h1.1v1.1h-1.1zM422.2 130.4h1.1v1.1h-1.1zM422.1 132h1.1v1.1h-1.1zM422.2 133.1h1.1v1.1h-1.1zM422.3 135.2h1.1v1.1h-1.1zM422.1 223.7h1.1v1.1h-1.1zM422.3 272.1h1.1v1.1h-1.1zM423.1 151.6h1.1v1.1h-1.1zM423.1 152.5h1.1v1.1h-1.1zM423.1 154.5h1.1v1.1h-1.1zM423.2 155.4h1.1v1.1h-1.1zM423.2 157.3h1.1v1.1h-1.1zM423 158.6h1.1v1.1h-1.1zM423.2 236.8h1.1v1.1h-1.1zM424.1 155.5h1.1v1.1h-1.1zM424.1 158.7h1.1v1.1h-1.1zM424.2 159.1h1.1v1.1h-1.1zM424.5 230.9h1.1v1.1h-1.1zM425.3 152.6h1.1v1.1h-1.1zM425.2 153.6h1.1v1.1h-1.1zM425.2 154.6h1.1v1.1h-1.1zM425.3 155.4h1.1v1.1h-1.1zM425.1 158h1.1v1.1h-1.1zM425.1 158.3h1.1v1.1h-1.1zM425.3 160.9h1.1v1.1h-1.1zM425.2 161.9h1.1v1.1h-1.1zM425.2 199.1h1.1v1.1h-1.1zM426.1 151.1h1.1v1.1h-1.1zM426.2 152.5h1.1v1.1h-1.1zM426.1 156.4h1.1v1.1h-1.1zM426.1 157.5h1.1v1.1h-1.1zM426.1 158.8h1.1v1.1h-1.1zM426.1 142.6h1.1v1.1h-1.1zM426.3 219.1h1.1v1.1h-1.1zM427 152.3h1.1v1.1h-1.1zM427 153.7h1.1v1.1h-1.1zM427.1 155.2h1.1v1.1h-1.1zM427.3 156.1h1.1v1.1h-1.1zM427.2 157.2h1.1v1.1h-1.1zM427.2 158.7h1.1v1.1h-1.1zM427 161h1.1v1.1h-1.1zM427.1 204.1h1.1v1.1h-1.1zM427.4 221.2h1.1v1.1h-1.1zM428.1 153.8h1.1v1.1h-1.1zM428.1 157.4h1.1v1.1h-1.1zM428.1 160.6h1.1v1.1h-1.1zM428.1 204.5h1.1v1.1h-1.1zM428.2 212.5h1.1v1.1h-1.1zM429.2 154.3h1.1v1.1h-1.1zM429.2 156.4h1.1v1.1h-1.1zM429.2 160.5h1.1v1.1h-1.1zM429.1 161h1.1v1.1h-1.1zM429.1 145.7h1.1v1.1h-1.1zM429.4 226h1.1v1.1h-1.1zM430.1 150.8h1.1v1.1h-1.1zM430.2 152.9h1.1v1.1h-1.1zM430.3 154.1h1.1v1.1h-1.1zM430.2 155.7h1.1v1.1h-1.1zM430 158.6h1.1v1.1h-1.1zM430.2 160.4h1.1v1.1h-1.1zM431.1 135.2h1.1v1.1h-1.1zM431.3 139.6h1.1v1.1h-1.1zM431 141.5h1.1v1.1h-1.1zM431.2 142.2h1.1v1.1h-1.1zM431.3 191.7h1.1v1.1h-1.1zM431.4 248.6h1.1v1.1h-1.1zM432 139.3h1.1v1.1h-1.1zM432.2 144.1h1.1v1.1h-1.1zM432.4 198.5h1.1v1.1h-1.1zM433.1 137.3h1.1v1.1h-1.1zM433.2 142.8h1.1v1.1h-1.1zM433.2 191.8h1.1v1.1h-1.1zM433.2 194.7h1.1v1.1h-1.1zM433.1 220.9h1.1v1.1h-1.1zM434 137.4h1.1v1.1h-1.1zM434.1 139.9h1.1v1.1h-1.1zM434.3 142.9h1.1v1.1h-1.1zM434.1 196.2h1.1v1.1h-1.1zM435.1 137.1h1.1v1.1h-1.1zM435.1 192.3h1.1v1.1h-1.1zM435.2 200.9h1.1v1.1h-1.1zM435.2 134.9h1.1v1.1h-1.1zM435.3 256.3h1.1v1.1h-1.1zM436.1 142.6h1.1v1.1h-1.1zM436.3 119.5h1.1v1.1h-1.1zM436.4 227.7h1.1v1.1h-1.1zM437.3 162.3h1.1v1.1h-1.1zM437.3 166.9h1.1v1.1h-1.1zM437 168.3h1.1v1.1h-1.1zM437.2 171.1h1.1v1.1h-1.1zM437.2 182h1.1v1.1h-1.1zM437.1 182.8h1.1v1.1h-1.1zM437.1 190.5h1.1v1.1h-1.1zM437.1 193.1h1.1v1.1h-1.1zM437 195.4h1.1v1.1h-1.1zM437.1 198.1h1.1v1.1h-1.1zM437.1 199.8h1.1v1.1h-1.1zM437.3 203.5h1.1v1.1h-1.1zM437.2 204.2h1.1v1.1h-1.1zM437.2 205.1h1.1v1.1h-1.1zM437.3 208.6h1.1v1.1h-1.1zM437.3 210.6h1.1v1.1h-1.1zM437.1 211.3h1.1v1.1h-1.1zM437.3 212.6h1.1v1.1h-1.1zM437.2 215.8h1.1v1.1h-1.1zM437.3 216.5h1.1v1.1h-1.1zM437.3 217.4h1.1v1.1h-1.1zM437.1 159.4h1.1v1.1h-1.1zM437.4 223.1h1.1v1.1h-1.1zM438 161.7h1.1v1.1h-1.1zM438.1 163.7h1.1v1.1h-1.1zM438.1 169.3h1.1v1.1h-1.1zM438.1 188h1.1v1.1h-1.1zM438.1 188.4h1.1v1.1h-1.1zM438.2 190h1.1v1.1h-1.1zM438.1 191.8h1.1v1.1h-1.1zM438.2 192h1.1v1.1h-1.1zM438.1 193.1h1.1v1.1h-1.1zM438.3 199.3h1.1v1.1h-1.1zM438.2 203.8h1.1v1.1h-1.1zM438.2 206.6h1.1v1.1h-1.1zM438.2 210.8h1.1v1.1h-1.1zM438.1 212.9h1.1v1.1h-1.1zM438 213h1.1v1.1h-1.1zM438.1 215.5h1.1v1.1h-1.1zM438.1 216.7h1.1v1.1h-1.1zM438.1 217.7h1.1v1.1h-1.1zM438.1 220.9h1.1v1.1h-1.1zM438.1 222.1h1.1v1.1h-1.1zM438.4 161.4h1.1v1.1h-1.1zM438.1 233.7h1.1v1.1h-1.1zM438.5 239.9h1.1v1.1h-1.1zM439.1 157.4h1.1v1.1h-1.1zM439.3 158.8h1.1v1.1h-1.1zM439.2 159.5h1.1v1.1h-1.1zM439.3 161.7h1.1v1.1h-1.1zM439.3 165.5h1.1v1.1h-1.1zM439.1 166.7h1.1v1.1h-1.1zM439.1 169h1.1v1.1h-1.1zM439.1 170h1.1v1.1h-1.1zM439.2 198.3h1.1v1.1h-1.1zM439.3 199.1h1.1v1.1h-1.1zM439.2 203.2h1.1v1.1h-1.1zM439.4 155.3h1.1v1.1h-1.1zM439.1 208.1h1.1v1.1h-1.1zM439.1 220.8h1.1v1.1h-1.1zM440 164.6h1.1v1.1h-1.1zM440.3 165h1.1v1.1h-1.1zM440.2 167.7h1.1v1.1h-1.1zM440.2 172h1.1v1.1h-1.1zM440.2 200.3h1.1v1.1h-1.1zM440.3 201.3h1.1v1.1h-1.1zM440.3 202.5h1.1v1.1h-1.1zM440.3 204.4h1.1v1.1h-1.1zM440.1 207.1h1.1v1.1h-1.1zM440.3 209.3h1.1v1.1h-1.1zM440.1 210.5h1.1v1.1h-1.1zM440.1 212.5h1.1v1.1h-1.1zM440.1 218.2h1.1v1.1h-1.1zM440.3 219.7h1.1v1.1h-1.1zM440.3 220.4h1.1v1.1h-1.1zM440.2 223.8h1.1v1.1h-1.1zM440 225.8h1.1v1.1h-1.1zM440.3 227.6h1.1v1.1h-1.1zM440.4 279.5h1.1v1.1h-1.1zM441 157.1h1.1v1.1h-1.1zM441.2 158.6h1.1v1.1h-1.1zM441.2 160h1.1v1.1h-1.1zM441.2 161.1h1.1v1.1h-1.1zM441.2 163.9h1.1v1.1h-1.1zM441 165.7h1.1v1.1h-1.1zM441.1 168.3h1.1v1.1h-1.1zM441 169.2h1.1v1.1h-1.1zM441.1 199.9h1.1v1.1h-1.1zM441 200.9h1.1v1.1h-1.1zM441.3 201.3h1.1v1.1h-1.1zM441.1 202.9h1.1v1.1h-1.1zM441.3 207.4h1.1v1.1h-1.1zM441.2 208.4h1.1v1.1h-1.1zM441.3 209.7h1.1v1.1h-1.1zM441.1 213h1.1v1.1h-1.1zM441.2 213.3h1.1v1.1h-1.1zM441.3 214.7h1.1v1.1h-1.1zM441.1 215.7h1.1v1.1h-1.1zM441 217.4h1.1v1.1h-1.1zM441.4 154.3h1.1v1.1h-1.1zM441.3 218.6h1.1v1.1h-1.1zM442 161.5h1.1v1.1h-1.1zM442.2 162.5h1.1v1.1h-1.1zM442.3 163.5h1.1v1.1h-1.1zM442.1 166.3h1.1v1.1h-1.1zM442.1 169h1.1v1.1h-1.1zM442.1 191h1.1v1.1h-1.1zM442.1 192.3h1.1v1.1h-1.1zM442.1 194.9h1.1v1.1h-1.1zM442.3 195h1.1v1.1h-1.1zM442.2 203.2h1.1v1.1h-1.1zM442.2 208.9h1.1v1.1h-1.1zM443.3 149.3h1.1v1.1h-1.1zM443 155.9h1.1v1.1h-1.1zM443.2 157h1.1v1.1h-1.1zM443 161.3h1.1v1.1h-1.1zM443.1 163.5h1.1v1.1h-1.1zM443.2 164.9h1.1v1.1h-1.1zM443.3 167.9h1.1v1.1h-1.1zM443 168.4h1.1v1.1h-1.1zM443 169.2h1.1v1.1h-1.1zM443.3 198.9h1.1v1.1h-1.1zM443.3 203h1.1v1.1h-1.1zM443.2 205.4h1.1v1.1h-1.1zM443.1 206h1.1v1.1h-1.1zM444.3 153.6h1.1v1.1h-1.1zM444.2 154.3h1.1v1.1h-1.1zM444.2 155.8h1.1v1.1h-1.1zM444.2 159.9h1.1v1.1h-1.1zM444.3 160.1h1.1v1.1h-1.1zM444.2 162.2h1.1v1.1h-1.1zM444.3 164.9h1.1v1.1h-1.1zM444.2 166.2h1.1v1.1h-1.1zM444 169.6h1.1v1.1h-1.1zM444 192.2h1.1v1.1h-1.1zM444.3 193.1h1.1v1.1h-1.1zM444.1 194h1.1v1.1h-1.1zM444.2 201h1.1v1.1h-1.1zM444.2 205.8h1.1v1.1h-1.1zM444.3 208.4h1.1v1.1h-1.1zM444.2 211.8h1.1v1.1h-1.1zM444.1 213.5h1.1v1.1h-1.1zM444 214.7h1.1v1.1h-1.1zM444.1 149.7h1.1v1.1h-1.1zM444.3 214.6h1.1v1.1h-1.1zM445.2 147.1h1.1v1.1h-1.1zM445 149.9h1.1v1.1h-1.1zM445 151.7h1.1v1.1h-1.1zM445.1 154.3h1.1v1.1h-1.1zM445.1 155.5h1.1v1.1h-1.1zM445.1 160.2h1.1v1.1h-1.1zM445.2 164.1h1.1v1.1h-1.1zM445.1 167.6h1.1v1.1h-1.1zM445.2 168.5h1.1v1.1h-1.1zM445.2 198.1h1.1v1.1h-1.1zM445.1 201.3h1.1v1.1h-1.1zM445.1 204.3h1.1v1.1h-1.1zM445.2 211.9h1.1v1.1h-1.1zM445.1 214.2h1.1v1.1h-1.1zM445.1 215.8h1.1v1.1h-1.1zM445.1 148.3h1.1v1.1h-1.1zM446.2 147.6h1.1v1.1h-1.1zM446.3 153.1h1.1v1.1h-1.1zM446 155.1h1.1v1.1h-1.1zM446 156.5h1.1v1.1h-1.1zM446 161.6h1.1v1.1h-1.1zM446.1 164.6h1.1v1.1h-1.1zM446.2 168.9h1.1v1.1h-1.1zM446.2 169.4h1.1v1.1h-1.1zM446.2 191h1.1v1.1h-1.1zM446 191.5h1.1v1.1h-1.1zM446.3 192.6h1.1v1.1h-1.1zM446.1 194h1.1v1.1h-1.1zM446.1 195.3h1.1v1.1h-1.1zM446.3 198.6h1.1v1.1h-1.1zM446.3 200.4h1.1v1.1h-1.1zM446.2 201.5h1.1v1.1h-1.1zM446 202.9h1.1v1.1h-1.1zM446.1 208.9h1.1v1.1h-1.1zM446.3 212h1.1v1.1h-1.1zM446 214h1.1v1.1h-1.1zM446.2 215.4h1.1v1.1h-1.1zM446 218.9h1.1v1.1h-1.1zM447.1 147.2h1.1v1.1h-1.1zM447.1 148.8h1.1v1.1h-1.1zM447.2 150.5h1.1v1.1h-1.1zM447.1 151.3h1.1v1.1h-1.1zM447.3 153h1.1v1.1h-1.1zM447.1 158.9h1.1v1.1h-1.1zM447 162.7h1.1v1.1h-1.1zM447.1 164.7h1.1v1.1h-1.1zM447.1 166.3h1.1v1.1h-1.1zM447.2 167h1.1v1.1h-1.1zM447.2 168.1h1.1v1.1h-1.1zM447.1 206h1.1v1.1h-1.1zM447.2 207.9h1.1v1.1h-1.1zM447.2 208.1h1.1v1.1h-1.1zM447.1 212.5h1.1v1.1h-1.1zM447.5 139.3h1.1v1.1h-1.1zM448.1 153.6h1.1v1.1h-1.1zM448.2 154.6h1.1v1.1h-1.1zM448.1 158.3h1.1v1.1h-1.1zM448.2 161h1.1v1.1h-1.1zM448.2 162.9h1.1v1.1h-1.1zM448.3 166.2h1.1v1.1h-1.1zM448 168.3h1.1v1.1h-1.1zM448.1 192h1.1v1.1h-1.1zM448 195.8h1.1v1.1h-1.1zM448.2 197.7h1.1v1.1h-1.1zM448.2 198.8h1.1v1.1h-1.1zM448 201.1h1.1v1.1h-1.1zM448.3 207.5h1.1v1.1h-1.1zM448.3 210.6h1.1v1.1h-1.1zM448.2 213h1.1v1.1h-1.1zM448.1 213.7h1.1v1.1h-1.1zM448.4 221.4h1.1v1.1h-1.1zM449 149.5h1.1v1.1h-1.1zM449.1 150.1h1.1v1.1h-1.1zM449.1 153h1.1v1.1h-1.1zM449.2 153.8h1.1v1.1h-1.1zM449.1 155.6h1.1v1.1h-1.1zM449 159.6h1.1v1.1h-1.1zM449.2 161.8h1.1v1.1h-1.1zM449.1 162.5h1.1v1.1h-1.1zM449 163.7h1.1v1.1h-1.1zM449.2 165h1.1v1.1h-1.1zM449.1 165.1h1.1v1.1h-1.1zM449.1 169.5h1.1v1.1h-1.1zM449.3 192.8h1.1v1.1h-1.1zM449.2 194.1h1.1v1.1h-1.1zM449 196.5h1.1v1.1h-1.1zM449.2 203.1h1.1v1.1h-1.1zM449.2 205.7h1.1v1.1h-1.1zM449 206.5h1.1v1.1h-1.1zM449.1 208.9h1.1v1.1h-1.1zM449.2 210.3h1.1v1.1h-1.1zM449 211.8h1.1v1.1h-1.1zM449.2 213.8h1.1v1.1h-1.1zM449.3 214.9h1.1v1.1h-1.1zM449.1 215.7h1.1v1.1h-1.1zM449 216h1.1v1.1h-1.1zM449.1 223.6h1.1v1.1h-1.1zM449.5 242.2h1.1v1.1h-1.1zM450.3 159.9h1.1v1.1h-1.1zM450 163.4h1.1v1.1h-1.1zM450.2 166.6h1.1v1.1h-1.1zM450.2 169.3h1.1v1.1h-1.1zM450.1 200h1.1v1.1h-1.1zM450 202.6h1.1v1.1h-1.1zM450 203.9h1.1v1.1h-1.1zM450 209.7h1.1v1.1h-1.1zM450.2 210.7h1.1v1.1h-1.1zM450.3 212.4h1.1v1.1h-1.1zM450.3 149.3h1.1v1.1h-1.1zM450.4 220.3h1.1v1.1h-1.1zM451.2 152.8h1.1v1.1h-1.1zM451.1 154.1h1.1v1.1h-1.1zM451.1 156.7h1.1v1.1h-1.1zM451.2 158.4h1.1v1.1h-1.1zM451.1 160.3h1.1v1.1h-1.1zM451.1 164.9h1.1v1.1h-1.1zM451.2 165.2h1.1v1.1h-1.1zM451.1 166.9h1.1v1.1h-1.1zM451.1 169h1.1v1.1h-1.1zM451.1 194h1.1v1.1h-1.1zM451.3 195.4h1.1v1.1h-1.1zM451.1 199.1h1.1v1.1h-1.1zM451.1 200h1.1v1.1h-1.1zM451.2 203.5h1.1v1.1h-1.1zM451.1 204.4h1.1v1.1h-1.1zM451.1 205.5h1.1v1.1h-1.1zM451.3 211.7h1.1v1.1h-1.1zM451.3 212.3h1.1v1.1h-1.1zM451.2 214.7h1.1v1.1h-1.1zM451.1 215.8h1.1v1.1h-1.1zM451.1 217.5h1.1v1.1h-1.1zM451.1 218.6h1.1v1.1h-1.1zM451.3 222h1.1v1.1h-1.1zM451.1 223h1.1v1.1h-1.1zM451.1 224h1.1v1.1h-1.1zM451.1 226h1.1v1.1h-1.1zM451.2 226.3h1.1v1.1h-1.1zM452.1 151.2h1.1v1.1h-1.1zM452 152.7h1.1v1.1h-1.1zM452.2 154.8h1.1v1.1h-1.1zM452 157.1h1.1v1.1h-1.1zM452.2 158.6h1.1v1.1h-1.1zM452.2 159.7h1.1v1.1h-1.1zM452.1 162h1.1v1.1h-1.1zM452.1 163.6h1.1v1.1h-1.1zM452.2 166.5h1.1v1.1h-1.1zM452.2 191.2h1.1v1.1h-1.1zM452 192.8h1.1v1.1h-1.1zM452.2 193.6h1.1v1.1h-1.1zM452.2 196.8h1.1v1.1h-1.1zM452 199.5h1.1v1.1h-1.1zM452.1 200.9h1.1v1.1h-1.1zM452 203.5h1.1v1.1h-1.1zM452.2 204.8h1.1v1.1h-1.1zM452.1 205.5h1.1v1.1h-1.1zM452.2 206h1.1v1.1h-1.1zM452 209.1h1.1v1.1h-1.1zM452.1 210.2h1.1v1.1h-1.1zM452.1 211h1.1v1.1h-1.1zM452.2 212.6h1.1v1.1h-1.1zM452.1 213.4h1.1v1.1h-1.1zM452.2 216.6h1.1v1.1h-1.1zM452.3 221.7h1.1v1.1h-1.1zM452 223.1h1.1v1.1h-1.1zM452.3 226.5h1.1v1.1h-1.1zM452.1 227.5h1.1v1.1h-1.1zM452.4 259.7h1.1v1.1h-1.1zM453.3 155.9h1.1v1.1h-1.1zM453.2 157.6h1.1v1.1h-1.1zM453.2 159h1.1v1.1h-1.1zM453.3 162.1h1.1v1.1h-1.1zM453.3 166.6h1.1v1.1h-1.1zM453.1 167.1h1.1v1.1h-1.1zM453.1 192.9h1.1v1.1h-1.1zM453.1 193.6h1.1v1.1h-1.1zM453.1 195h1.1v1.1h-1.1zM453 198.5h1.1v1.1h-1.1zM453.3 200.6h1.1v1.1h-1.1zM453.2 203.4h1.1v1.1h-1.1zM453.1 206.1h1.1v1.1h-1.1zM453.1 208.7h1.1v1.1h-1.1zM453.1 210.4h1.1v1.1h-1.1zM453.4 156.6h1.1v1.1h-1.1zM454.2 155.5h1.1v1.1h-1.1zM454 157.6h1.1v1.1h-1.1zM454.1 158.3h1.1v1.1h-1.1zM454.2 161.2h1.1v1.1h-1.1zM454.1 162.4h1.1v1.1h-1.1zM454 164.8h1.1v1.1h-1.1zM454.2 165.8h1.1v1.1h-1.1zM454.2 166.3h1.1v1.1h-1.1zM454.3 168.9h1.1v1.1h-1.1zM454.1 205.3h1.1v1.1h-1.1zM454.2 207h1.1v1.1h-1.1zM454.1 209.9h1.1v1.1h-1.1zM454.3 153.7h1.1v1.1h-1.1zM455.1 149.7h1.1v1.1h-1.1zM455.1 151.9h1.1v1.1h-1.1zM455.2 153.1h1.1v1.1h-1.1zM455.3 154h1.1v1.1h-1.1zM455.1 155.2h1.1v1.1h-1.1zM455.2 156.6h1.1v1.1h-1.1zM455.2 157.5h1.1v1.1h-1.1zM455.2 160h1.1v1.1h-1.1zM455 198.4h1.1v1.1h-1.1zM455.2 204.5h1.1v1.1h-1.1zM455.2 206.6h1.1v1.1h-1.1zM455.3 213.5h1.1v1.1h-1.1zM455.2 214.2h1.1v1.1h-1.1zM455.3 232.2h1.1v1.1h-1.1zM456.1 146.7h1.1v1.1h-1.1zM456.3 156.1h1.1v1.1h-1.1zM456.3 158.7h1.1v1.1h-1.1zM456.1 159.7h1.1v1.1h-1.1zM456.1 195.3h1.1v1.1h-1.1zM456.2 196.2h1.1v1.1h-1.1zM456.3 197h1.1v1.1h-1.1zM456.1 198.5h1.1v1.1h-1.1zM456 203.6h1.1v1.1h-1.1zM456.2 204.7h1.1v1.1h-1.1zM456.3 206h1.1v1.1h-1.1zM456 206.5h1.1v1.1h-1.1zM456.2 207.1h1.1v1.1h-1.1zM456 212.4h1.1v1.1h-1.1zM456.1 213.7h1.1v1.1h-1.1zM456.2 214.1h1.1v1.1h-1.1zM456.1 215.7h1.1v1.1h-1.1zM456.3 216.1h1.1v1.1h-1.1zM456.1 217.2h1.1v1.1h-1.1zM456.1 112.2h1.1v1.1h-1.1zM456.4 245.8h1.1v1.1h-1.1zM457.2 147.6h1.1v1.1h-1.1zM457.1 152.2h1.1v1.1h-1.1zM457.1 154.7h1.1v1.1h-1.1zM457.3 156.4h1.1v1.1h-1.1zM457.2 192.1h1.1v1.1h-1.1zM457.2 194.1h1.1v1.1h-1.1zM457 196.3h1.1v1.1h-1.1zM457.1 199h1.1v1.1h-1.1zM457 201h1.1v1.1h-1.1zM457.2 201.6h1.1v1.1h-1.1zM457.2 202.8h1.1v1.1h-1.1zM457 204.7h1.1v1.1h-1.1zM457.2 207.1h1.1v1.1h-1.1zM457.1 208.7h1.1v1.1h-1.1zM457.1 209.7h1.1v1.1h-1.1zM457.1 210.1h1.1v1.1h-1.1zM457.2 211h1.1v1.1h-1.1zM457.2 213.2h1.1v1.1h-1.1zM457.2 217.6h1.1v1.1h-1.1zM457 218.2h1.1v1.1h-1.1zM457.1 144.5h1.1v1.1h-1.1zM458.2 147.9h1.1v1.1h-1.1zM458.2 151h1.1v1.1h-1.1zM458.2 152.5h1.1v1.1h-1.1zM458.2 155.3h1.1v1.1h-1.1zM458.1 156.2h1.1v1.1h-1.1zM458.3 158.6h1.1v1.1h-1.1zM458.2 159.4h1.1v1.1h-1.1zM458 188.3h1.1v1.1h-1.1zM458 195.9h1.1v1.1h-1.1zM458.1 196.3h1.1v1.1h-1.1zM458.2 200.7h1.1v1.1h-1.1zM458.2 203.8h1.1v1.1h-1.1zM458.3 205.8h1.1v1.1h-1.1zM458.2 207.3h1.1v1.1h-1.1zM458.2 208.9h1.1v1.1h-1.1zM458.2 212.3h1.1v1.1h-1.1zM458.1 214.3h1.1v1.1h-1.1zM458.1 216.5h1.1v1.1h-1.1zM458.3 149.5h1.1v1.1h-1.1zM458.3 224h1.1v1.1h-1.1zM458.3 276.2h1.1v1.1h-1.1zM459 150.6h1.1v1.1h-1.1zM459.2 151.1h1.1v1.1h-1.1zM459.2 155.9h1.1v1.1h-1.1zM459 158.2h1.1v1.1h-1.1zM459.2 159.6h1.1v1.1h-1.1zM459.3 200.5h1.1v1.1h-1.1zM459.2 202.9h1.1v1.1h-1.1zM459.3 204.3h1.1v1.1h-1.1zM459.1 205.3h1.1v1.1h-1.1zM459.1 208.8h1.1v1.1h-1.1zM459.2 210.9h1.1v1.1h-1.1zM459.2 211.9h1.1v1.1h-1.1zM459.3 215.5h1.1v1.1h-1.1zM459.1 216h1.1v1.1h-1.1zM459.3 218.2h1.1v1.1h-1.1zM459.2 219.6h1.1v1.1h-1.1zM459.1 221.4h1.1v1.1h-1.1zM459.1 145.6h1.1v1.1h-1.1zM459.2 253.9h1.1v1.1h-1.1zM460 143.4h1.1v1.1h-1.1zM460.1 144.9h1.1v1.1h-1.1zM460.1 145.7h1.1v1.1h-1.1zM460.2 146.8h1.1v1.1h-1.1zM460.1 147.1h1.1v1.1h-1.1zM460.3 149.1h1.1v1.1h-1.1zM460.2 154.6h1.1v1.1h-1.1zM460.2 155.7h1.1v1.1h-1.1zM460.1 156.1h1.1v1.1h-1.1zM460.1 157.1h1.1v1.1h-1.1zM460.1 158.5h1.1v1.1h-1.1zM460.3 204.8h1.1v1.1h-1.1zM460.2 206h1.1v1.1h-1.1zM460.2 207.4h1.1v1.1h-1.1zM460.1 215.1h1.1v1.1h-1.1zM460.3 218.2h1.1v1.1h-1.1zM460.1 219.8h1.1v1.1h-1.1zM461.2 145.8h1.1v1.1h-1.1zM461.1 147.4h1.1v1.1h-1.1zM461.1 149.1h1.1v1.1h-1.1zM461.1 150.4h1.1v1.1h-1.1zM461.3 152.8h1.1v1.1h-1.1zM461.1 153.7h1.1v1.1h-1.1zM461.1 154.2h1.1v1.1h-1.1zM461 158.1h1.1v1.1h-1.1zM461 159.3h1.1v1.1h-1.1zM461.1 197.8h1.1v1.1h-1.1zM461.2 200.9h1.1v1.1h-1.1zM461.2 202.8h1.1v1.1h-1.1zM461.1 205.9h1.1v1.1h-1.1zM461 208.6h1.1v1.1h-1.1zM461 224.4h1.1v1.1h-1.1zM462.1 149h1.1v1.1h-1.1zM462.1 151.9h1.1v1.1h-1.1zM462.2 154.5h1.1v1.1h-1.1zM462 157.9h1.1v1.1h-1.1zM462.1 194.7h1.1v1.1h-1.1zM462.2 195.4h1.1v1.1h-1.1zM462 198.5h1.1v1.1h-1.1zM462.1 200.1h1.1v1.1h-1.1zM462.2 201.9h1.1v1.1h-1.1zM462.1 202.5h1.1v1.1h-1.1zM462.2 206.7h1.1v1.1h-1.1zM462.1 207.5h1.1v1.1h-1.1zM462 208.4h1.1v1.1h-1.1zM462.1 209.5h1.1v1.1h-1.1zM462.2 210.9h1.1v1.1h-1.1zM462.2 212.9h1.1v1.1h-1.1zM462.2 213.9h1.1v1.1h-1.1zM462.3 215.3h1.1v1.1h-1.1zM462.1 216.8h1.1v1.1h-1.1zM462.1 218.6h1.1v1.1h-1.1zM462.3 222.6h1.1v1.1h-1.1zM462.2 224.3h1.1v1.1h-1.1zM462.5 141.9h1.1v1.1h-1.1zM462.2 225.6h1.1v1.1h-1.1zM463.1 143.1h1.1v1.1h-1.1zM463.1 146.1h1.1v1.1h-1.1zM463.2 149.4h1.1v1.1h-1.1zM463 212.5h1.1v1.1h-1.1zM463 213.9h1.1v1.1h-1.1zM463.3 214.5h1.1v1.1h-1.1zM463.1 215.1h1.1v1.1h-1.1zM463 142.6h1.1v1.1h-1.1zM463.5 217.6h1.1v1.1h-1.1zM464.2 144.9h1.1v1.1h-1.1zM464 145h1.1v1.1h-1.1zM464.1 146.5h1.1v1.1h-1.1zM464.3 147.6h1.1v1.1h-1.1zM464.1 149.5h1.1v1.1h-1.1zM464.2 201.3h1.1v1.1h-1.1zM464.3 206h1.1v1.1h-1.1zM464.2 208.4h1.1v1.1h-1.1zM464.1 213.6h1.1v1.1h-1.1zM464.2 215.8h1.1v1.1h-1.1zM465.2 137.8h1.1v1.1h-1.1zM465.2 138.8h1.1v1.1h-1.1zM465.1 143.8h1.1v1.1h-1.1zM465.2 144.4h1.1v1.1h-1.1zM465.2 145.7h1.1v1.1h-1.1zM465 182.6h1.1v1.1h-1.1zM465.1 183.9h1.1v1.1h-1.1zM465.1 185h1.1v1.1h-1.1zM465.2 187.4h1.1v1.1h-1.1zM465.1 189.4h1.1v1.1h-1.1zM465 193.3h1.1v1.1h-1.1zM465.1 195.4h1.1v1.1h-1.1zM465.2 196.3h1.1v1.1h-1.1zM465.3 202.6h1.1v1.1h-1.1zM465.1 208.3h1.1v1.1h-1.1zM465.1 209.5h1.1v1.1h-1.1zM465.1 211.7h1.1v1.1h-1.1zM465 213.7h1.1v1.1h-1.1zM465 216.4h1.1v1.1h-1.1zM465.2 218.4h1.1v1.1h-1.1zM465.2 220.3h1.1v1.1h-1.1zM465.3 130.4h1.1v1.1h-1.1zM465.3 260.7h1.1v1.1h-1.1zM466.1 145h1.1v1.1h-1.1zM466.1 149.8h1.1v1.1h-1.1zM466.2 200.9h1.1v1.1h-1.1zM466.1 202.4h1.1v1.1h-1.1zM466.3 204.6h1.1v1.1h-1.1zM466.1 207.2h1.1v1.1h-1.1zM466.2 208.8h1.1v1.1h-1.1zM466.2 209h1.1v1.1h-1.1zM466.3 210.1h1.1v1.1h-1.1zM466.2 213.3h1.1v1.1h-1.1zM466.3 219.9h1.1v1.1h-1.1zM466.3 239.6h1.1v1.1h-1.1zM467.1 142h1.1v1.1h-1.1zM467.1 147.6h1.1v1.1h-1.1zM467.1 149.9h1.1v1.1h-1.1zM467.2 200h1.1v1.1h-1.1zM467.3 200.3h1.1v1.1h-1.1zM467.1 202.4h1.1v1.1h-1.1zM467.2 205.5h1.1v1.1h-1.1zM467.1 206.9h1.1v1.1h-1.1zM467 209.1h1.1v1.1h-1.1zM467.3 210h1.1v1.1h-1.1zM467 213h1.1v1.1h-1.1zM467.1 234.1h1.1v1.1h-1.1zM468.2 145.3h1.1v1.1h-1.1zM468.1 148.4h1.1v1.1h-1.1zM468.2 149.9h1.1v1.1h-1.1zM468.2 204.2h1.1v1.1h-1.1zM468.2 212.4h1.1v1.1h-1.1zM468.4 122.2h1.1v1.1h-1.1zM469.2 139.1h1.1v1.1h-1.1zM469.2 144.7h1.1v1.1h-1.1zM469 145.1h1.1v1.1h-1.1zM469 203.2h1.1v1.1h-1.1zM469.1 204.6h1.1v1.1h-1.1zM469.2 205.9h1.1v1.1h-1.1zM469.3 211.4h1.1v1.1h-1.1zM469.3 212.7h1.1v1.1h-1.1zM469 214.6h1.1v1.1h-1.1zM469.2 215.7h1.1v1.1h-1.1zM469.2 216.9h1.1v1.1h-1.1zM469.1 218.7h1.1v1.1h-1.1zM469.2 219.1h1.1v1.1h-1.1zM469 134h1.1v1.1h-1.1zM469.3 248.3h1.1v1.1h-1.1zM470.1 140h1.1v1.1h-1.1zM470.2 143.7h1.1v1.1h-1.1zM470 146.8h1.1v1.1h-1.1zM470.2 147.4h1.1v1.1h-1.1zM470 193.4h1.1v1.1h-1.1zM470 194.4h1.1v1.1h-1.1zM470.3 195.8h1.1v1.1h-1.1zM470.2 196.7h1.1v1.1h-1.1zM470 197.2h1.1v1.1h-1.1zM470 199.7h1.1v1.1h-1.1zM470 202.4h1.1v1.1h-1.1zM470.2 209.2h1.1v1.1h-1.1zM470.2 211.7h1.1v1.1h-1.1zM470 213.3h1.1v1.1h-1.1zM470.1 215.8h1.1v1.1h-1.1zM470.1 216.5h1.1v1.1h-1.1zM470.2 217.6h1.1v1.1h-1.1zM470.3 224.1h1.1v1.1h-1.1zM471.2 138h1.1v1.1h-1.1zM471 139.9h1.1v1.1h-1.1zM471.1 140.5h1.1v1.1h-1.1zM471.2 141.2h1.1v1.1h-1.1zM471.1 146.4h1.1v1.1h-1.1zM471.2 147.2h1.1v1.1h-1.1zM471.1 149.2h1.1v1.1h-1.1zM471.2 201.6h1.1v1.1h-1.1zM471.2 203.3h1.1v1.1h-1.1zM471.3 204.8h1.1v1.1h-1.1zM471.2 205.2h1.1v1.1h-1.1zM471.1 206.9h1.1v1.1h-1.1zM471.3 209.6h1.1v1.1h-1.1zM471.3 210.4h1.1v1.1h-1.1zM471.3 212.3h1.1v1.1h-1.1zM471.1 215.5h1.1v1.1h-1.1zM471.2 338.9h1.1v1.1h-1.1zM472 146.9h1.1v1.1h-1.1zM472.2 148.4h1.1v1.1h-1.1zM472 149.7h1.1v1.1h-1.1zM472 197.4h1.1v1.1h-1.1zM472.3 198.2h1.1v1.1h-1.1zM472.3 199.5h1.1v1.1h-1.1zM472.2 200.5h1.1v1.1h-1.1zM472.1 201.6h1.1v1.1h-1.1zM472.3 202.5h1.1v1.1h-1.1zM472.2 206.3h1.1v1.1h-1.1zM472 209.2h1.1v1.1h-1.1zM473.2 147.2h1.1v1.1h-1.1zM473.2 148.9h1.1v1.1h-1.1zM473.2 149.8h1.1v1.1h-1.1zM473.1 180.7h1.1v1.1h-1.1zM473.1 181.6h1.1v1.1h-1.1zM473.1 182.9h1.1v1.1h-1.1zM473 185.1h1.1v1.1h-1.1zM473.2 191.5h1.1v1.1h-1.1zM473.1 192.8h1.1v1.1h-1.1zM473.1 195.7h1.1v1.1h-1.1zM473.3 201.5h1.1v1.1h-1.1zM473.2 203.5h1.1v1.1h-1.1zM473.2 205.7h1.1v1.1h-1.1zM473.1 209.6h1.1v1.1h-1.1zM473.2 210.8h1.1v1.1h-1.1zM473.3 147h1.1v1.1h-1.1zM55.6 150.9h1.1v1.1h-1.1zM55.4 154h1.1v1.1h-1.1zM55.6 157.7h1.1v1.1h-1.1zM55.4 165.4h1.1v1.1h-1.1zM55.4 168.4h1.1v1.1h-1.1zM55.8 182.6h1.1v1.1h-1.1zM55.4 183.6h1.1v1.1h-1.1zM55.2 188.3h1.1v1.1h-1.1zM55.5 199h1.1v1.1h-1.1zM55.5 202.4h1.1v1.1h-1.1zM55.8 212.5h1.1v1.1h-1.1zM55.3 223.5h1.1v1.1h-1.1zM55.7 237h1.1v1.1h-1.1zM55.3 240.3h1.1v1.1h-1.1zM55.7 248.5h1.1v1.1h-1.1zM55.6 249.1h1.1v1.1h-1.1zM55.7 258h1.1v1.1h-1.1zM55.5 259.2h1.1v1.1h-1.1zM57.3 163.7h1.1v1.1h-1.1zM57.5 176.3h1.1v1.1h-1.1zM57.4 177.1h1.1v1.1h-1.1zM57.7 180.5h1.1v1.1h-1.1zM57.5 183.6h1.1v1.1h-1.1zM57.3 184.2h1.1v1.1h-1.1zM57.6 204.5h1.1v1.1h-1.1zM308.2 115.2h1.1v1.1h-1.1zM308.3 126.6h1.1v1.1h-1.1zM308.1 127.4h1.1v1.1h-1.1zM308.3 130.9h1.1v1.1h-1.1zM308.2 131.1h1.1v1.1h-1.1zM308.2 138.4h1.1v1.1h-1.1zM313.2 113.6h1.1v1.1h-1.1zM313.2 114.7h1.1v1.1h-1.1zM313.3 115.7h1.1v1.1h-1.1zM313.1 118.8h1.1v1.1h-1.1zM313.1 122.8h1.1v1.1h-1.1zM313.3 124.7h1.1v1.1h-1.1zM317.2 109.1h1.1v1.1h-1.1zM317.1 115.3h1.1v1.1h-1.1zM317.1 117.3h1.1v1.1h-1.1zM317.3 121.3h1.1v1.1h-1.1zM319.2 116.4h1.1v1.1h-1.1zM319.3 121.5h1.1v1.1h-1.1zM320.1 123.3h1.1v1.1h-1.1zM385.2 98.9h1.1v1.1h-1.1zM385.2 104.7h1.1v1.1h-1.1zM390.3 117.4h1.1v1.1h-1.1zM395 116.6h1.1v1.1h-1.1zM395.2 117.6h1.1v1.1h-1.1zM395 133.5h1.1v1.1h-1.1zM404 119.1h1.1v1.1h-1.1zM404.1 120.3h1.1v1.1h-1.1zM404.1 123.9h1.1v1.1h-1.1zM405.1 118.7h1.1v1.1h-1.1zM405.2 122.4h1.1v1.1h-1.1zM405.2 123.2h1.1v1.1h-1.1zM406.3 115.3h1.1v1.1h-1.1zM406.3 124h1.1v1.1h-1.1zM408 111.9h1.1v1.1h-1.1zM408.1 112.7h1.1v1.1h-1.1zM408.2 117.3h1.1v1.1h-1.1zM408.2 120.3h1.1v1.1h-1.1zM410.3 119.9h1.1v1.1h-1.1zM410.3 120.5h1.1v1.1h-1.1zM411.2 119.4h1.1v1.1h-1.1zM414.2 108.9h1.1v1.1h-1.1zM416 112.1h1.1v1.1h-1.1zM416.3 114h1.1v1.1h-1.1zM416.1 114.8h1.1v1.1h-1.1zM416.1 117.6h1.1v1.1h-1.1zM419.1 113.2h1.1v1.1h-1.1zM419.2 117.6h1.1v1.1h-1.1zM419.3 118.1h1.1v1.1h-1.1zM420 108.1h1.1v1.1h-1.1zM420.2 110.6h1.1v1.1h-1.1zM420.3 113.5h1.1v1.1h-1.1zM420.2 114.1h1.1v1.1h-1.1zM424.2 114.4h1.1v1.1h-1.1zM424.1 124.4h1.1v1.1h-1.1zM424.1 128h1.1v1.1h-1.1zM424 130h1.1v1.1h-1.1zM424.1 137.4h1.1v1.1h-1.1zM424 139.2h1.1v1.1h-1.1zM424.1 147.3h1.1v1.1h-1.1zM424.2 149.7h1.1v1.1h-1.1zM340 127.5h1.1v1.1h-1.1zM340.1 131.4h1.1v1.1h-1.1zM340.3 147.5h1.1v1.1h-1.1zM341.2 110.2h1.1v1.1h-1.1zM341.2 115.9h1.1v1.1h-1.1zM341.2 117.2h1.1v1.1h-1.1zM341.3 118.4h1.1v1.1h-1.1zM341.2 121.3h1.1v1.1h-1.1zM341 122.6h1.1v1.1h-1.1zM341.2 124.4h1.1v1.1h-1.1zM341 125.3h1.1v1.1h-1.1zM341 130.3h1.1v1.1h-1.1zM341 140.4h1.1v1.1h-1.1zM341.1 145.6h1.1v1.1h-1.1zM341.1 146.8h1.1v1.1h-1.1zM341.3 147.4h1.1v1.1h-1.1zM342.1 148.9h1.1v1.1h-1.1zM344.1 111h1.1v1.1h-1.1zM344.2 113.6h1.1v1.1h-1.1zM344.2 114.6h1.1v1.1h-1.1zM344 122.2h1.1v1.1h-1.1zM344.3 126.1h1.1v1.1h-1.1zM344.2 130.7h1.1v1.1h-1.1zM345.1 131.2h1.1v1.1h-1.1zM345.2 133.2h1.1v1.1h-1.1zM349.3 119.2h1.1v1.1h-1.1zM349.3 129.9h1.1v1.1h-1.1zM349.1 131.3h1.1v1.1h-1.1zM349.2 132.6h1.1v1.1h-1.1zM351 104.7h1.1v1.1h-1.1zM351.2 107.4h1.1v1.1h-1.1zM351.3 116.4h1.1v1.1h-1.1zM351.1 126.1h1.1v1.1h-1.1zM351.2 128.1h1.1v1.1h-1.1zM351.2 136.4h1.1v1.1h-1.1zM351.1 137.2h1.1v1.1h-1.1zM351.2 142.8h1.1v1.1h-1.1zM351.2 143.6h1.1v1.1h-1.1zM351.3 145.5h1.1v1.1h-1.1zM351.1 147.6h1.1v1.1h-1.1zM277 125.9h1.1v1.1h-1.1zM277.1 127.8h1.1v1.1h-1.1zM277.1 128.5h1.1v1.1h-1.1zM277.1 133.9h1.1v1.1h-1.1zM277.2 136h1.1v1.1h-1.1zM278.1 133.5h1.1v1.1h-1.1zM278.3 135.3h1.1v1.1h-1.1zM278.1 136.1h1.1v1.1h-1.1zM278.1 138.4h1.1v1.1h-1.1zM282.3 125.3h1.1v1.1h-1.1zM282.3 127.9h1.1v1.1h-1.1zM282.2 128.2h1.1v1.1h-1.1zM282.1 133.6h1.1v1.1h-1.1zM282.3 134.8h1.1v1.1h-1.1zM286.1 133.9h1.1v1.1h-1.1zM286 134.3h1.1v1.1h-1.1zM286.1 146.4h1.1v1.1h-1.1zM287.2 120.3h1.1v1.1h-1.1zM287.2 128.4h1.1v1.1h-1.1zM287.1 130.2h1.1v1.1h-1.1zM287.2 132.8h1.1v1.1h-1.1zM287.1 133.9h1.1v1.1h-1.1zM287.1 137.9h1.1v1.1h-1.1zM287.1 141.1h1.1v1.1h-1.1zM287.2 145h1.1v1.1h-1.1zM288.1 139.7h1.1v1.1h-1.1zM288.2 141.5h1.1v1.1h-1.1zM288.2 145.6h1.1v1.1h-1.1zM289 138.1h1.1v1.1h-1.1zM289.3 139.6h1.1v1.1h-1.1zM289.2 142.3h1.1v1.1h-1.1zM289 143.9h1.1v1.1h-1.1zM289.3 147h1.1v1.1h-1.1zM442.1 151.3h1.1v1.1h-1.1zM442.2 156.2h1.1v1.1h-1.1zM445.2 145.6h1.1v1.1h-1.1zM445.1 148.5h1.1v1.1h-1.1zM446.1 137.2h1.1v1.1h-1.1zM446.2 138.2h1.1v1.1h-1.1zM446.1 141.7h1.1v1.1h-1.1zM446.3 144.5h1.1v1.1h-1.1zM449.1 148.3h1.1v1.1h-1.1zM451.1 126.9h1.1v1.1h-1.1zM451 127.8h1.1v1.1h-1.1zM451.2 130.1h1.1v1.1h-1.1zM451.1 133.1h1.1v1.1h-1.1zM451.2 134h1.1v1.1h-1.1zM451.3 135h1.1v1.1h-1.1zM452.1 136.2h1.1v1.1h-1.1zM452.2 138.6h1.1v1.1h-1.1zM452.2 142.2h1.1v1.1h-1.1zM452.2 145.8h1.1v1.1h-1.1zM452.1 148.2h1.1v1.1h-1.1zM453.2 143.5h1.1v1.1h-1.1zM453.1 144.9h1.1v1.1h-1.1zM454.2 138.5h1.1v1.1h-1.1zM454.1 144.7h1.1v1.1h-1.1zM454.2 146.1h1.1v1.1h-1.1zM454.1 147.2h1.1v1.1h-1.1zM459.2 134.1h1.1v1.1h-1.1zM459.2 135.4h1.1v1.1h-1.1zM459.2 140.5h1.1v1.1h-1.1zM459.1 142.1h1.1v1.1h-1.1zM460.2 137.6h1.1v1.1h-1.1zM460.2 144.7h1.1v1.1h-1.1zM463.2 127.6h1.1v1.1h-1.1zM463.2 132.6h1.1v1.1h-1.1zM464.1 121.9h1.1v1.1h-1.1zM464.2 129h1.1v1.1h-1.1zM464.1 131.5h1.1v1.1h-1.1zM464.3 137.9h1.1v1.1h-1.1zM466.2 137.2h1.1v1.1h-1.1zM466.1 138.4h1.1v1.1h-1.1zM467.1 133.3h1.1v1.1h-1.1zM467.2 134.3h1.1v1.1h-1.1zM473 138.1h1.1v1.1h-1.1zM250 137.3h1.1v1.1h-1.1zM250.3 139h1.1v1.1h-1.1zM252.1 137.2h1.1v1.1h-1.1zM253 138.2h1.1v1.1h-1.1zM255.1 147.1h1.1v1.1h-1.1zM255 156.2h1.1v1.1h-1.1zM150.3 140.6h1.1v1.1h-1.1zM150.3 144.4h1.1v1.1h-1.1zM157.2 128.1h1.1v1.1h-1.1zM157 130.6h1.1v1.1h-1.1zM157.2 133.9h1.1v1.1h-1.1zM157.3 134.8h1.1v1.1h-1.1zM157 138.1h1.1v1.1h-1.1zM166.2 139.3h1.1v1.1h-1.1zM174.2 136h1.1v1.1h-1.1zM174.3 148.4h1.1v1.1h-1.1zM211.3 147.4h1.1v1.1h-1.1zM211.2 148.5h1.1v1.1h-1.1zM213.2 131.2h1.1v1.1h-1.1zM213.2 135.6h1.1v1.1h-1.1zM213.3 139.4h1.1v1.1h-1.1zM225.2 136.4h1.1v1.1h-1.1zM225.2 138.5h1.1v1.1h-1.1zM225.1 141.1h1.1v1.1h-1.1zM225.3 144h1.1v1.1h-1.1zM226.2 143.8h1.1v1.1h-1.1zM232.1 136.5h1.1v1.1h-1.1zM232.1 138.9h1.1v1.1h-1.1zM232 139.2h1.1v1.1h-1.1zM79.1 134.6h1.1v1.1h-1.1z"/>
<polyline fill="none" stroke="#000" stroke-width="1.8" stroke-linejoin="round" points="60.3,172.1 62.2,172.8 63.2,173.3 65.2,174.3 67.3,175.4 69.3,176.9 71.4,178.4 73.4,180.5 76,182.7 78.5,181.5 81.6,179.4 84.7,177.4 86.7,175.4 88.8,170.7 89.8,169.7 92.4,169.9 93.9,171.3 95.9,172.3 98,174.3 100,177.4 102,180.5 104.1,183.5 105.2,185.1 107.2,184.1 110.3,182 113.3,180.5 115.4,180 117.4,179.4 118.5,178.4 119.6,178.4 119.6,171.3 121.1,171.8 124.2,174.3 126.3,176.4 128.3,177.9 131.4,180.5 133.9,183.5 136.5,184.6 139.6,185.1 142.6,183.5 145.7,181.5 148.8,178.4 151.8,175.4 154.9,171.8 158,172.8 160,173.8 163.1,174.3 166.2,175.4 169.2,176.9 173.3,178.4 176.4,176.4 179.5,174.3 182.6,173.3 185,172.7 187.1,175.2 189.1,177.8 191.2,179.8 193.2,181.9 195.3,183.9 197.3,187.5 199.4,190.1 201.4,190.4 203.5,191.1 206.5,190.6 209.6,189.1 211.7,186 213.2,182.9 215.8,182.4 218.8,181.4 221.4,180.9 222.9,182.4 225,183.9 227,185.5 229.1,187.5 231.1,189.6 233.2,191.1 236.2,192.4 239.3,190.6 242.4,188 245.4,185 248.5,182.4 251.6,180.4 253,179.7 255.1,180.7 257.1,182.8 259.2,183.8 262.3,183.3 266.4,182.3 269.4,181.3 272.5,180.2 275.6,179.2 278.1,178.2 279.7,180.2 281.7,183.8 283.8,186.9 286.3,189.4 288.4,188.4 290.4,187.9 292,188.9 295,189.4 298.1,190 301.2,191.5 304.2,193.5 307.3,194.1 310.4,195.6 313.4,196.1 316.5,196.8 319.6,197.4 321,197.5 323.1,198 325.1,195 327.2,192.4 329.2,190.4 331.3,189.8 334.4,188.8 336.9,188.3 339.5,188.3 342.5,188.1 344.6,187.8 346.6,189.3 348.7,190.1 351.8,191.4 353.8,194.4 355.8,196 357.9,195 359.9,193.4 362,192.9 364.5,192.9 367.1,194.4 370.2,196 372.2,195.5 374.3,195 377.3,193.4 380.4,191.4 382.5,188.3 384.5,185.2 386.6,181.1 387.6,178.1 390.1,179.3 393.1,180.4 396.2,180.4 398.3,182.4 400.3,184.4 402.4,186.5 404.4,188.5 406.4,190.6 409,192.6 411.1,191.6 413.1,190.1 415.7,188 417.7,186 419.8,183.9 422.8,181.4 425.9,179.8 429,178.3 432,176.3 433.6,173.2 435.1,172.7 437.2,175.2 439.2,179.3 441.2,183.4 443.3,186.5 446.4,187.5 449.4,187.6 452.5,188.4 455.9,187.6 458.4,184.6 461.5,181.5 464.6,178.9 467.6,176.9 470.7,175.4 473.3,174.8"/>
<g fill="#332288">
<circle cx="52.6" cy="37.4" r="1.75"/>
<circle cx="53.4" cy="44.2" r="1.75"/>
<circle cx="51" cy="52" r="1.75"/>
<circle cx="53.4" cy="52.4" r="1.75"/>
<circle cx="47" cy="58.6" r="1.75"/>
<circle cx="54" cy="58" r="1.75"/>
<circle cx="137.4" cy="56" r="1.75"/>
<circle cx="160" cy="42.4" r="1.75"/>
<circle cx="156.4" cy="54.2" r="1.75"/>
<circle cx="47" cy="61" r="1.75"/>
<circle cx="48" cy="64" r="1.75"/>
<circle cx="46.4" cy="67" r="1.75"/>
<circle cx="47.6" cy="70" r="1.75"/>
<circle cx="48" cy="73" r="1.75"/>
<circle cx="47" cy="76" r="1.75"/>
<circle cx="54" cy="70" r="1.75"/>
<circle cx="53" cy="61" r="1.75"/>
<circle cx="71" cy="62" r="1.75"/>
<circle cx="71" cy="71" r="1.75"/>
<circle cx="72" cy="74" r="1.75"/>
<circle cx="76" cy="75" r="1.75"/>
<circle cx="73" cy="81.6" r="1.75"/>
<circle cx="94" cy="69" r="1.75"/>
<circle cx="94" cy="74" r="1.75"/>
<circle cx="93.6" cy="79" r="1.75"/>
<circle cx="98" cy="91" r="1.75"/>
<circle cx="95" cy="93" r="1.75"/>
<circle cx="97.6" cy="96" r="1.75"/>
<circle cx="95" cy="97" r="1.75"/>
<circle cx="138" cy="69" r="1.75"/>
<circle cx="137" cy="74" r="1.75"/>
<circle cx="129.6" cy="72" r="1.75"/>
<circle cx="130.4" cy="74" r="1.75"/>
<circle cx="128" cy="76" r="1.75"/>
<circle cx="131" cy="77" r="1.75"/>
<circle cx="122" cy="76" r="1.75"/>
<circle cx="120" cy="80" r="1.75"/>
<circle cx="117" cy="81.6" r="1.75"/>
<circle cx="122" cy="82.4" r="1.75"/>
<circle cx="121.6" cy="85.6" r="1.75"/>
<circle cx="116" cy="88" r="1.75"/>
<circle cx="128" cy="82.4" r="1.75"/>
<circle cx="130" cy="81.6" r="1.75"/>
<circle cx="135" cy="79" r="1.75"/>
<circle cx="137" cy="81" r="1.75"/>
<circle cx="136" cy="85" r="1.75"/>
<circle cx="137.6" cy="87.6" r="1.75"/>
<circle cx="117" cy="102" r="1.75"/>
<circle cx="157" cy="61" r="1.75"/>
<circle cx="160" cy="61.6" r="1.75"/>
<circle cx="158" cy="69" r="1.75"/>
<circle cx="161" cy="70" r="1.75"/>
<circle cx="161" cy="84" r="1.75"/>
<circle cx="181.4" cy="43.6" r="1.75"/>
<circle cx="178.6" cy="59.6" r="1.75"/>
<circle cx="179.4" cy="67" r="1.75"/>
<circle cx="183.4" cy="62" r="1.75"/>
<circle cx="182.6" cy="74" r="1.75"/>
<circle cx="183" cy="80" r="1.75"/>
<circle cx="178.6" cy="85" r="1.75"/>
<circle cx="183.4" cy="88" r="1.75"/>
<circle cx="206" cy="85" r="1.75"/>
<circle cx="207" cy="85" r="1.75"/>
<circle cx="201" cy="87" r="1.75"/>
<circle cx="202.6" cy="89.6" r="1.75"/>
<circle cx="201" cy="92" r="1.75"/>
<circle cx="206" cy="93" r="1.75"/>
<circle cx="201.4" cy="95.6" r="1.75"/>
<circle cx="201" cy="97.6" r="1.75"/>
<circle cx="206" cy="97" r="1.75"/>
<circle cx="205" cy="102" r="1.75"/>
<circle cx="206.6" cy="103" r="1.75"/>
<circle cx="246" cy="75.6" r="1.75"/>
<circle cx="245.4" cy="78" r="1.75"/>
<circle cx="241" cy="85" r="1.75"/>
<circle cx="240.6" cy="87.6" r="1.75"/>
<circle cx="245.4" cy="86.4" r="1.75"/>
<circle cx="246" cy="89.6" r="1.75"/>
<circle cx="242" cy="92" r="1.75"/>
<circle cx="241" cy="96.4" r="1.75"/>
<circle cx="264.6" cy="82" r="1.75"/>
<circle cx="268" cy="78" r="1.75"/>
<circle cx="289" cy="94" r="1.75"/>
<circle cx="286" cy="97.6" r="1.75"/>
<circle cx="289.4" cy="98" r="1.75"/>
<circle cx="287" cy="101" r="1.75"/>
<circle cx="290" cy="101" r="1.75"/>
<circle cx="288.6" cy="103" r="1.75"/>
<circle cx="285.4" cy="106" r="1.75"/>
<circle cx="289" cy="105" r="1.75"/>
<circle cx="433.2" cy="49.4" r="1.75"/>
<circle cx="331.6" cy="72.4" r="1.75"/>
<circle cx="326.4" cy="77.6" r="1.75"/>
<circle cx="327" cy="91" r="1.75"/>
<circle cx="326" cy="93" r="1.75"/>
<circle cx="326.4" cy="96" r="1.75"/>
<circle cx="330.4" cy="85" r="1.75"/>
<circle cx="330.4" cy="88" r="1.75"/>
<circle cx="331.6" cy="97" r="1.75"/>
<circle cx="327.6" cy="106.4" r="1.75"/>
<circle cx="326" cy="94" r="1.75"/>
<circle cx="371.6" cy="89.6" r="1.75"/>
<circle cx="372.4" cy="95" r="1.75"/>
<circle cx="375.6" cy="93" r="1.75"/>
<circle cx="370.4" cy="96" r="1.75"/>
<circle cx="374" cy="98" r="1.75"/>
<circle cx="376" cy="102" r="1.75"/>
<circle cx="370" cy="100" r="1.75"/>
<circle cx="374.4" cy="101" r="1.75"/>
<circle cx="377" cy="98" r="1.75"/>
<circle cx="370.4" cy="108" r="1.75"/>
<circle cx="410" cy="73" r="1.75"/>
<circle cx="409" cy="78" r="1.75"/>
<circle cx="411" cy="83" r="1.75"/>
<circle cx="409" cy="86" r="1.75"/>
<circle cx="410" cy="88" r="1.75"/>
<circle cx="414" cy="90" r="1.75"/>
<circle cx="416" cy="92" r="1.75"/>
<circle cx="415" cy="101" r="1.75"/>
<circle cx="414" cy="102" r="1.75"/>
<circle cx="416" cy="103" r="1.75"/>
<circle cx="433" cy="77" r="1.75"/>
<circle cx="434.4" cy="78" r="1.75"/>
<circle cx="523" cy="49" r="1.75"/>
<circle cx="519.6" cy="57" r="1.75"/>
<circle cx="522" cy="58" r="1.75"/>
<circle cx="523" cy="59.6" r="1.75"/>
<circle cx="455" cy="76.4" r="1.75"/>
<circle cx="455" cy="90" r="1.75"/>
<circle cx="456" cy="92" r="1.75"/>
<circle cx="459" cy="91.6" r="1.75"/>
<circle cx="460" cy="93.6" r="1.75"/>
<circle cx="481.6" cy="70" r="1.75"/>
<circle cx="483" cy="93" r="1.75"/>
<circle cx="485" cy="97" r="1.75"/>
<circle cx="482" cy="101" r="1.75"/>
<circle cx="481" cy="78" r="1.75"/>
<circle cx="483" cy="79" r="1.75"/>
<circle cx="485" cy="80" r="1.75"/>
<circle cx="482" cy="81" r="1.75"/>
<circle cx="484" cy="82" r="1.75"/>
<circle cx="481" cy="83" r="1.75"/>
<circle cx="483" cy="84" r="1.75"/>
<circle cx="485" cy="85" r="1.75"/>
<circle cx="481.6" cy="86" r="1.75"/>
<circle cx="484" cy="87" r="1.75"/>
<circle cx="481" cy="88" r="1.75"/>
<circle cx="483" cy="89" r="1.75"/>
<circle cx="485" cy="90" r="1.75"/>
<circle cx="482" cy="79.6" r="1.75"/>
<circle cx="484" cy="83.6" r="1.75"/>
<circle cx="500" cy="68" r="1.75"/>
<circle cx="501" cy="71" r="1.75"/>
<circle cx="498" cy="84" r="1.75"/>
<circle cx="494" cy="88" r="1.75"/>
<circle cx="495" cy="90" r="1.75"/>
<circle cx="500" cy="90" r="1.75"/>
<circle cx="493.6" cy="94" r="1.75"/>
<circle cx="496" cy="97" r="1.75"/>
<circle cx="493.6" cy="101" r="1.75"/>
<circle cx="497" cy="100" r="1.75"/>
<circle cx="499.6" cy="99" r="1.75"/>
<circle cx="500" cy="108" r="1.75"/>
<circle cx="495" cy="109" r="1.75"/>
<circle cx="518" cy="61" r="1.75"/>
<circle cx="522" cy="64" r="1.75"/>
<circle cx="519" cy="68" r="1.75"/>
<circle cx="522" cy="74" r="1.75"/>
<circle cx="518" cy="80" r="1.75"/>
<circle cx="541" cy="70.4" r="1.75"/>
<circle cx="541.6" cy="80" r="1.75"/>
<circle cx="544" cy="79" r="1.75"/>
<circle cx="544" cy="85.6" r="1.75"/>
<circle cx="540" cy="89.6" r="1.75"/>
<circle cx="563.6" cy="69.6" r="1.75"/>
<circle cx="568" cy="68" r="1.75"/>
<circle cx="567" cy="74" r="1.75"/>
<circle cx="563" cy="80" r="1.75"/>
<circle cx="568" cy="78" r="1.75"/>
<circle cx="565" cy="82" r="1.75"/>
<circle cx="563.6" cy="87.6" r="1.75"/>
<circle cx="568" cy="84" r="1.75"/>
<circle cx="568" cy="72" r="1.75"/>
<circle cx="566" cy="77" r="1.75"/>
<circle cx="568" cy="80" r="1.75"/>
<circle cx="565" cy="79" r="1.75"/>
<circle cx="568" cy="82" r="1.75"/>
<circle cx="566.4" cy="85" r="1.75"/>
<circle cx="563" cy="76" r="1.75"/>
<circle cx="37.4" cy="71.6" r="1.75"/>
<circle cx="41.1" cy="76.8" r="1.75"/>
<circle cx="39" cy="69.5" r="1.75"/>
<circle cx="39.3" cy="61.2" r="1.75"/>
<circle cx="41.4" cy="72.9" r="1.75"/>
<circle cx="36.1" cy="76.4" r="1.75"/>
<circle cx="39" cy="67.7" r="1.75"/>
<circle cx="37.5" cy="60.5" r="1.75"/>
<circle cx="34.9" cy="63.4" r="1.75"/>
<circle cx="39.8" cy="61.2" r="1.75"/>
<circle cx="35.9" cy="62.6" r="1.75"/>
<circle cx="40.5" cy="67.8" r="1.75"/>
<circle cx="37.4" cy="61.6" r="1.75"/>
<circle cx="40.6" cy="71" r="1.75"/>
<circle cx="40.5" cy="76.4" r="1.75"/>
<circle cx="37.1" cy="65.6" r="1.75"/>
<circle cx="40.6" cy="67.2" r="1.75"/>
<circle cx="35.1" cy="79.2" r="1.75"/>
<circle cx="35.7" cy="63.5" r="1.75"/>
<circle cx="37.6" cy="64.7" r="1.75"/>
<circle cx="36" cy="71.8" r="1.75"/>
<circle cx="37.1" cy="60.1" r="1.75"/>
<circle cx="38.2" cy="67.4" r="1.75"/>
<circle cx="39.2" cy="79.1" r="1.75"/>
<circle cx="38.6" cy="70.3" r="1.75"/>
<circle cx="34.4" cy="73.5" r="1.75"/>
<circle cx="39.8" cy="78" r="1.75"/>
<circle cx="40" cy="77.5" r="1.75"/>
<circle cx="37" cy="67.8" r="1.75"/>
<circle cx="38.8" cy="62.1" r="1.75"/>
<circle cx="34.5" cy="61.2" r="1.75"/>
<circle cx="35.2" cy="64.2" r="1.75"/>
<circle cx="34.4" cy="66.8" r="1.75"/>
<circle cx="35.1" cy="60" r="1.75"/>
</g>
<g fill="#88CCEE">
<circle cx="36.4" cy="36.6" r="1.75"/>
<circle cx="35" cy="40" r="1.75"/>
<circle cx="38" cy="41" r="1.75"/>
<circle cx="40" cy="41.6" r="1.75"/>
<circle cx="36" cy="43" r="1.75"/>
<circle cx="39" cy="44" r="1.75"/>
<circle cx="37" cy="45.6" r="1.75"/>
<circle cx="40" cy="46" r="1.75"/>
<circle cx="35" cy="47" r="1.75"/>
<circle cx="38" cy="47.6" r="1.75"/>
<circle cx="36" cy="49" r="1.75"/>
<circle cx="39.6" cy="49" r="1.75"/>
<circle cx="37" cy="50.4" r="1.75"/>
<circle cx="40" cy="51" r="1.75"/>
<circle cx="35" cy="52.4" r="1.75"/>
<circle cx="38.4" cy="53" r="1.75"/>
<circle cx="36.4" cy="54.4" r="1.75"/>
<circle cx="39" cy="56" r="1.75"/>
<circle cx="35" cy="57" r="1.75"/>
<circle cx="37.6" cy="58" r="1.75"/>
<circle cx="53.4" cy="9.6" r="1.75"/>
<circle cx="54" cy="18.4" r="1.75"/>
<circle cx="53" cy="21.6" r="1.75"/>
<circle cx="54" cy="23.6" r="1.75"/>
<circle cx="52.6" cy="28.6" r="1.75"/>
<circle cx="54" cy="29.6" r="1.75"/>
<circle cx="47.2" cy="31" r="1.75"/>
<circle cx="47.6" cy="33" r="1.75"/>
<circle cx="48.4" cy="36.4" r="1.75"/>
<circle cx="46.4" cy="38" r="1.75"/>
<circle cx="47.6" cy="41" r="1.75"/>
<circle cx="47" cy="43" r="1.75"/>
<circle cx="48" cy="44.4" r="1.75"/>
<circle cx="47.6" cy="52.4" r="1.75"/>
<circle cx="47" cy="54" r="1.75"/>
<circle cx="48.4" cy="55" r="1.75"/>
<circle cx="72" cy="36" r="1.75"/>
<circle cx="71" cy="45.2" r="1.75"/>
<circle cx="72.4" cy="51.6" r="1.75"/>
<circle cx="73.6" cy="53.2" r="1.75"/>
<circle cx="76.4" cy="58" r="1.75"/>
<circle cx="94" cy="46.4" r="1.75"/>
<circle cx="94.4" cy="53.6" r="1.75"/>
<circle cx="96.4" cy="54.4" r="1.75"/>
<circle cx="98.4" cy="55.6" r="1.75"/>
<circle cx="94.4" cy="57" r="1.75"/>
<circle cx="97.6" cy="58.4" r="1.75"/>
<circle cx="116.6" cy="59" r="1.75"/>
<circle cx="122" cy="53" r="1.75"/>
<circle cx="121.6" cy="55.6" r="1.75"/>
<circle cx="120" cy="57.6" r="1.75"/>
<circle cx="119" cy="59" r="1.75"/>
<circle cx="131" cy="44.4" r="1.75"/>
<circle cx="129.6" cy="46.4" r="1.75"/>
<circle cx="128" cy="48" r="1.75"/>
<circle cx="130.4" cy="49.2" r="1.75"/>
<circle cx="128.4" cy="51" r="1.75"/>
<circle cx="131" cy="52" r="1.75"/>
<circle cx="127.6" cy="54" r="1.75"/>
<circle cx="129.6" cy="55" r="1.75"/>
<circle cx="132" cy="53.6" r="1.75"/>
<circle cx="137.4" cy="38.4" r="1.75"/>
<circle cx="135.6" cy="46.4" r="1.75"/>
<circle cx="137.6" cy="47.6" r="1.75"/>
<circle cx="138" cy="50.4" r="1.75"/>
<circle cx="134.4" cy="52.4" r="1.75"/>
<circle cx="136" cy="55" r="1.75"/>
<circle cx="136.4" cy="58.4" r="1.75"/>
<circle cx="156.4" cy="21.2" r="1.75"/>
<circle cx="160" cy="33.6" r="1.75"/>
<circle cx="161.6" cy="38" r="1.75"/>
<circle cx="161" cy="44.4" r="1.75"/>
<circle cx="156.4" cy="49.2" r="1.75"/>
<circle cx="160" cy="48.4" r="1.75"/>
<circle cx="159.6" cy="51.2" r="1.75"/>
<circle cx="76" cy="64" r="1.75"/>
<circle cx="74" cy="63" r="1.75"/>
<circle cx="98" cy="61.6" r="1.75"/>
<circle cx="94" cy="63" r="1.75"/>
<circle cx="97.6" cy="65" r="1.75"/>
<circle cx="95" cy="66" r="1.75"/>
<circle cx="94" cy="82" r="1.75"/>
<circle cx="117" cy="61" r="1.75"/>
<circle cx="122" cy="61" r="1.75"/>
<circle cx="118" cy="66" r="1.75"/>
<circle cx="117" cy="69.6" r="1.75"/>
<circle cx="135" cy="61" r="1.75"/>
<circle cx="138" cy="64" r="1.75"/>
<circle cx="136" cy="68" r="1.75"/>
<circle cx="179" cy="27.4" r="1.75"/>
<circle cx="182" cy="44.4" r="1.75"/>
<circle cx="183.4" cy="48" r="1.75"/>
<circle cx="179.4" cy="55.2" r="1.75"/>
<circle cx="183.4" cy="59.6" r="1.75"/>
<circle cx="201" cy="59.6" r="1.75"/>
<circle cx="246" cy="41" r="1.75"/>
<circle cx="241" cy="58.4" r="1.75"/>
<circle cx="264" cy="27" r="1.75"/>
<circle cx="268.6" cy="39" r="1.75"/>
<circle cx="264.2" cy="45.4" r="1.75"/>
<circle cx="264.6" cy="49" r="1.75"/>
<circle cx="268" cy="50" r="1.75"/>
<circle cx="286" cy="59.6" r="1.75"/>
<circle cx="179" cy="62" r="1.75"/>
<circle cx="183.4" cy="64" r="1.75"/>
<circle cx="178.6" cy="79" r="1.75"/>
<circle cx="201" cy="61" r="1.75"/>
<circle cx="201.4" cy="64" r="1.75"/>
<circle cx="201" cy="65.6" r="1.75"/>
<circle cx="202" cy="72" r="1.75"/>
<circle cx="205" cy="72" r="1.75"/>
<circle cx="203" cy="74" r="1.75"/>
<circle cx="206" cy="74" r="1.75"/>
<circle cx="201" cy="77.6" r="1.75"/>
<circle cx="204" cy="76" r="1.75"/>
<circle cx="206" cy="78" r="1.75"/>
<circle cx="206.6" cy="79" r="1.75"/>
<circle cx="202" cy="89" r="1.75"/>
<circle cx="241" cy="61" r="1.75"/>
<circle cx="245" cy="62" r="1.75"/>
<circle cx="242" cy="63" r="1.75"/>
<circle cx="245" cy="68" r="1.75"/>
<circle cx="246" cy="80" r="1.75"/>
<circle cx="268.6" cy="61.6" r="1.75"/>
<circle cx="286.6" cy="61" r="1.75"/>
<circle cx="286" cy="69" r="1.75"/>
<circle cx="290" cy="67.6" r="1.75"/>
<circle cx="289.4" cy="69" r="1.75"/>
<circle cx="290" cy="78.4" r="1.75"/>
<circle cx="286" cy="83" r="1.75"/>
<circle cx="289" cy="84" r="1.75"/>
<circle cx="290.6" cy="85.6" r="1.75"/>
<circle cx="290" cy="94.4" r="1.75"/>
<circle cx="331.6" cy="57.4" r="1.75"/>
<circle cx="348.4" cy="57.4" r="1.75"/>
<circle cx="352.4" cy="56.6" r="1.75"/>
<circle cx="353" cy="59" r="1.75"/>
<circle cx="409.6" cy="59.6" r="1.75"/>
<circle cx="415" cy="59.6" r="1.75"/>
<circle cx="433.2" cy="30.4" r="1.75"/>
<circle cx="433" cy="40.4" r="1.75"/>
<circle cx="434.4" cy="41.6" r="1.75"/>
<circle cx="434.4" cy="47.6" r="1.75"/>
<circle cx="326" cy="64" r="1.75"/>
<circle cx="327" cy="66" r="1.75"/>
<circle cx="326.4" cy="69" r="1.75"/>
<circle cx="326" cy="74" r="1.75"/>
<circle cx="330.4" cy="62" r="1.75"/>
<circle cx="331" cy="66" r="1.75"/>
<circle cx="330" cy="80" r="1.75"/>
<circle cx="327" cy="84" r="1.75"/>
<circle cx="330.4" cy="83.6" r="1.75"/>
<circle cx="352.4" cy="66" r="1.75"/>
<circle cx="352" cy="60" r="1.75"/>
<circle cx="375" cy="65.6" r="1.75"/>
<circle cx="370.4" cy="75.6" r="1.75"/>
<circle cx="373.6" cy="74" r="1.75"/>
<circle cx="375.6" cy="75.6" r="1.75"/>
<circle cx="371.6" cy="77.6" r="1.75"/>
<circle cx="371" cy="82" r="1.75"/>
<circle cx="370" cy="91.6" r="1.75"/>
<circle cx="410" cy="61" r="1.75"/>
<circle cx="416" cy="61" r="1.75"/>
<circle cx="409" cy="64" r="1.75"/>
<circle cx="412" cy="66" r="1.75"/>
<circle cx="414" cy="65" r="1.75"/>
<circle cx="415" cy="70" r="1.75"/>
<circle cx="410" cy="71" r="1.75"/>
<circle cx="409" cy="68" r="1.75"/>
<circle cx="412" cy="72" r="1.75"/>
<circle cx="410.4" cy="75" r="1.75"/>
<circle cx="416" cy="76" r="1.75"/>
<circle cx="415" cy="80" r="1.75"/>
<circle cx="414" cy="78" r="1.75"/>
<circle cx="411" cy="81.6" r="1.75"/>
<circle cx="481.6" cy="50" r="1.75"/>
<circle cx="483" cy="52" r="1.75"/>
<circle cx="482" cy="54.4" r="1.75"/>
<circle cx="484" cy="56" r="1.75"/>
<circle cx="482.4" cy="58" r="1.75"/>
<circle cx="485" cy="59" r="1.75"/>
<circle cx="521.6" cy="28" r="1.75"/>
<circle cx="522" cy="37.6" r="1.75"/>
<circle cx="519.6" cy="40" r="1.75"/>
<circle cx="518" cy="47" r="1.75"/>
<circle cx="521.6" cy="51.6" r="1.75"/>
<circle cx="522.4" cy="53.6" r="1.75"/>
<circle cx="540" cy="38" r="1.75"/>
<circle cx="544" cy="49.6" r="1.75"/>
<circle cx="541" cy="55.6" r="1.75"/>
<circle cx="541.6" cy="58" r="1.75"/>
<circle cx="563" cy="50" r="1.75"/>
<circle cx="563" cy="52.4" r="1.75"/>
<circle cx="563.6" cy="56" r="1.75"/>
<circle cx="566" cy="43.6" r="1.75"/>
<circle cx="568" cy="40" r="1.75"/>
<circle cx="568" cy="50" r="1.75"/>
<circle cx="568" cy="54" r="1.75"/>
<circle cx="562.4" cy="59" r="1.75"/>
<circle cx="567.6" cy="58.4" r="1.75"/>
<circle cx="500" cy="59.6" r="1.75"/>
<circle cx="456" cy="61" r="1.75"/>
<circle cx="459" cy="63" r="1.75"/>
<circle cx="455" cy="66" r="1.75"/>
<circle cx="455.6" cy="75" r="1.75"/>
<circle cx="459" cy="85" r="1.75"/>
<circle cx="459.6" cy="98" r="1.75"/>
<circle cx="481" cy="61" r="1.75"/>
<circle cx="483" cy="62" r="1.75"/>
<circle cx="482" cy="64" r="1.75"/>
<circle cx="484" cy="65" r="1.75"/>
<circle cx="485" cy="72" r="1.75"/>
<circle cx="494" cy="64" r="1.75"/>
<circle cx="497" cy="68" r="1.75"/>
<circle cx="499" cy="69" r="1.75"/>
<circle cx="493" cy="72" r="1.75"/>
<circle cx="496" cy="71" r="1.75"/>
<circle cx="495" cy="75" r="1.75"/>
<circle cx="498" cy="74" r="1.75"/>
<circle cx="500" cy="76" r="1.75"/>
<circle cx="496" cy="78" r="1.75"/>
<circle cx="499" cy="79" r="1.75"/>
<circle cx="497" cy="80" r="1.75"/>
<circle cx="544" cy="65" r="1.75"/>
<circle cx="543.6" cy="70" r="1.75"/>
<circle cx="564" cy="64" r="1.75"/>
<circle cx="568" cy="63" r="1.75"/>
<circle cx="35.1" cy="42.4" r="1.75"/>
<circle cx="34.5" cy="50" r="1.75"/>
<circle cx="36.7" cy="47.3" r="1.75"/>
<circle cx="37.8" cy="36.3" r="1.75"/>
<circle cx="37.3" cy="35.9" r="1.75"/>
<circle cx="34.7" cy="36.6" r="1.75"/>
<circle cx="40.2" cy="44.8" r="1.75"/>
<circle cx="35.7" cy="37.8" r="1.75"/>
<circle cx="41.1" cy="49.4" r="1.75"/>
<circle cx="37" cy="48.3" r="1.75"/>
<circle cx="34.3" cy="57.5" r="1.75"/>
<circle cx="36.2" cy="54.7" r="1.75"/>
<circle cx="34.9" cy="38.3" r="1.75"/>
<circle cx="40.1" cy="42.1" r="1.75"/>
<circle cx="38.4" cy="39.2" r="1.75"/>
<circle cx="36.8" cy="49.7" r="1.75"/>
<circle cx="34.5" cy="47.6" r="1.75"/>
<circle cx="35.5" cy="36.4" r="1.75"/>
<circle cx="37.2" cy="50.6" r="1.75"/>
<circle cx="38.4" cy="42.2" r="1.75"/>
<circle cx="36.2" cy="45.4" r="1.75"/>
<circle cx="39.2" cy="53.3" r="1.75"/>
<circle cx="38.3" cy="40.6" r="1.75"/>
<circle cx="40.6" cy="47.1" r="1.75"/>
<circle cx="36.2" cy="51.8" r="1.75"/>
<circle cx="34.9" cy="57.5" r="1.75"/>
<circle cx="39.7" cy="44.6" r="1.75"/>
<circle cx="37.7" cy="38.5" r="1.75"/>
<circle cx="39" cy="35.9" r="1.75"/>
<circle cx="38.3" cy="52.6" r="1.75"/>
<circle cx="36.4" cy="55.1" r="1.75"/>
<circle cx="38.5" cy="51" r="1.75"/>
</g>
<g fill="#44AA99">
<circle cx="52.4" cy="74.4" r="1.75"/>
<circle cx="54" cy="82" r="1.75"/>
<circle cx="54" cy="102" r="1.75"/>
<circle cx="48" cy="108" r="1.75"/>
<circle cx="47" cy="110" r="1.75"/>
<circle cx="76" cy="97" r="1.75"/>
<circle cx="71" cy="105" r="1.75"/>
<circle cx="73" cy="116" r="1.75"/>
<circle cx="94" cy="87" r="1.75"/>
<circle cx="97.6" cy="103" r="1.75"/>
<circle cx="137" cy="110" r="1.75"/>
<circle cx="122" cy="118" r="1.75"/>
<circle cx="156.4" cy="85.6" r="1.75"/>
<circle cx="157" cy="97" r="1.75"/>
<circle cx="160" cy="98" r="1.75"/>
<circle cx="157" cy="107.6" r="1.75"/>
<circle cx="161" cy="106.4" r="1.75"/>
<circle cx="71.6" cy="129" r="1.75"/>
<circle cx="76" cy="129.6" r="1.75"/>
<circle cx="93.6" cy="128" r="1.75"/>
<circle cx="97.6" cy="133.6" r="1.75"/>
<circle cx="121.6" cy="122" r="1.75"/>
<circle cx="128" cy="124" r="1.75"/>
<circle cx="130" cy="127" r="1.75"/>
<circle cx="134" cy="127" r="1.75"/>
<circle cx="128" cy="129" r="1.75"/>
<circle cx="136" cy="122" r="1.75"/>
<circle cx="179.4" cy="115" r="1.75"/>
<circle cx="201.4" cy="117.6" r="1.75"/>
<circle cx="241" cy="93" r="1.75"/>
<circle cx="245.4" cy="103" r="1.75"/>
<circle cx="246" cy="113" r="1.75"/>
<circle cx="264.6" cy="100" r="1.75"/>
<circle cx="183.4" cy="120.4" r="1.75"/>
<circle cx="202" cy="121" r="1.75"/>
<circle cx="206.6" cy="122.4" r="1.75"/>
<circle cx="201" cy="132" r="1.75"/>
<circle cx="205" cy="141" r="1.75"/>
<circle cx="206.6" cy="140" r="1.75"/>
<circle cx="203" cy="128" r="1.75"/>
<circle cx="245.4" cy="127" r="1.75"/>
<circle cx="240.6" cy="136" r="1.75"/>
<circle cx="245" cy="139" r="1.75"/>
<circle cx="246" cy="135" r="1.75"/>
<circle cx="289.4" cy="127.6" r="1.75"/>
<circle cx="290" cy="132" r="1.75"/>
<circle cx="286" cy="147" r="1.75"/>
<circle cx="289.4" cy="139" r="1.75"/>
<circle cx="331.6" cy="103.6" r="1.75"/>
<circle cx="326.4" cy="113" r="1.75"/>
<circle cx="330.4" cy="117" r="1.75"/>
<circle cx="352" cy="113.6" r="1.75"/>
<circle cx="433.6" cy="99.6" r="1.75"/>
<circle cx="433.6" cy="118" r="1.75"/>
<circle cx="326.4" cy="129" r="1.75"/>
<circle cx="330.4" cy="141.6" r="1.75"/>
<circle cx="331" cy="132" r="1.75"/>
<circle cx="327.6" cy="140" r="1.75"/>
<circle cx="371" cy="127" r="1.75"/>
<circle cx="375" cy="129.6" r="1.75"/>
<circle cx="372.4" cy="134" r="1.75"/>
<circle cx="375.6" cy="135.6" r="1.75"/>
<circle cx="409.6" cy="128" r="1.75"/>
<circle cx="415.6" cy="129" r="1.75"/>
<circle cx="415" cy="130" r="1.75"/>
<circle cx="411" cy="145" r="1.75"/>
<circle cx="416" cy="156" r="1.75"/>
<circle cx="481" cy="119" r="1.75"/>
<circle cx="486" cy="110" r="1.75"/>
<circle cx="500.4" cy="117" r="1.75"/>
<circle cx="518" cy="100" r="1.75"/>
<circle cx="522" cy="108" r="1.75"/>
<circle cx="544.4" cy="105.6" r="1.75"/>
<circle cx="541" cy="115" r="1.75"/>
<circle cx="563" cy="108" r="1.75"/>
<circle cx="566.4" cy="112" r="1.75"/>
<circle cx="455" cy="123.6" r="1.75"/>
<circle cx="459.6" cy="131" r="1.75"/>
<circle cx="459" cy="135" r="1.75"/>
<circle cx="481" cy="121" r="1.75"/>
<circle cx="485" cy="133" r="1.75"/>
<circle cx="494" cy="123" r="1.75"/>
<circle cx="494" cy="129" r="1.75"/>
<circle cx="498" cy="130" r="1.75"/>
<circle cx="501" cy="139" r="1.75"/>
<circle cx="497" cy="140" r="1.75"/>
<circle cx="500" cy="133" r="1.75"/>
<circle cx="500" cy="179.6" r="1.75"/>
<circle cx="542" cy="127" r="1.75"/>
<circle cx="544" cy="128" r="1.75"/>
<circle cx="35.9" cy="106" r="1.75"/>
<circle cx="39.8" cy="112.2" r="1.75"/>
<circle cx="40" cy="106.2" r="1.75"/>
<circle cx="38.9" cy="112.8" r="1.75"/>
<circle cx="38.3" cy="107.8" r="1.75"/>
<circle cx="35.1" cy="106" r="1.75"/>
</g>
<g fill="#117733">
<circle cx="53" cy="135" r="1.75"/>
<circle cx="54" cy="137" r="1.75"/>
<circle cx="48.4" cy="145" r="1.75"/>
<circle cx="47" cy="154.4" r="1.75"/>
<circle cx="47.6" cy="158" r="1.75"/>
<circle cx="54" cy="163" r="1.75"/>
<circle cx="76" cy="178" r="1.75"/>
<circle cx="99" cy="169" r="1.75"/>
<circle cx="117" cy="168" r="1.75"/>
<circle cx="122" cy="171" r="1.75"/>
<circle cx="128" cy="179" r="1.75"/>
<circle cx="131" cy="174" r="1.75"/>
<circle cx="156.4" cy="153" r="1.75"/>
<circle cx="160" cy="156" r="1.75"/>
<circle cx="157.6" cy="163" r="1.75"/>
<circle cx="161" cy="165.6" r="1.75"/>
<circle cx="162" cy="170" r="1.75"/>
<circle cx="71" cy="181" r="1.75"/>
<circle cx="72" cy="182" r="1.75"/>
<circle cx="118" cy="180" r="1.75"/>
<circle cx="120" cy="183" r="1.75"/>
<circle cx="136" cy="190" r="1.75"/>
<circle cx="130" cy="188" r="1.75"/>
<circle cx="178.6" cy="156" r="1.75"/>
<circle cx="179" cy="172.4" r="1.75"/>
<circle cx="183.4" cy="170.4" r="1.75"/>
<circle cx="201.4" cy="177" r="1.75"/>
<circle cx="240.6" cy="177.6" r="1.75"/>
<circle cx="245.4" cy="179.6" r="1.75"/>
<circle cx="264" cy="154" r="1.75"/>
<circle cx="263.4" cy="159.6" r="1.75"/>
<circle cx="266.6" cy="166.4" r="1.75"/>
<circle cx="290" cy="177" r="1.75"/>
<circle cx="290.6" cy="178" r="1.75"/>
<circle cx="182.6" cy="186" r="1.75"/>
<circle cx="201" cy="186" r="1.75"/>
<circle cx="206" cy="194" r="1.75"/>
<circle cx="205" cy="195" r="1.75"/>
<circle cx="242" cy="181" r="1.75"/>
<circle cx="245.4" cy="182" r="1.75"/>
<circle cx="246.6" cy="183.6" r="1.75"/>
<circle cx="290.6" cy="190" r="1.75"/>
<circle cx="326.4" cy="159.6" r="1.75"/>
<circle cx="331.6" cy="166" r="1.75"/>
<circle cx="325.6" cy="170" r="1.75"/>
<circle cx="375.6" cy="166.4" r="1.75"/>
<circle cx="370.4" cy="174" r="1.75"/>
<circle cx="375.6" cy="175.6" r="1.75"/>
<circle cx="374" cy="178" r="1.75"/>
<circle cx="371.6" cy="177.6" r="1.75"/>
<circle cx="411" cy="158" r="1.75"/>
<circle cx="414" cy="160" r="1.75"/>
<circle cx="411" cy="173.6" r="1.75"/>
<circle cx="433" cy="145" r="1.75"/>
<circle cx="329" cy="185" r="1.75"/>
<circle cx="330.4" cy="193" r="1.75"/>
<circle cx="349" cy="189.6" r="1.75"/>
<circle cx="352.4" cy="217" r="1.75"/>
<circle cx="371" cy="187" r="1.75"/>
<circle cx="372.4" cy="188.4" r="1.75"/>
<circle cx="415" cy="181" r="1.75"/>
<circle cx="411.6" cy="186.4" r="1.75"/>
<circle cx="410.4" cy="192" r="1.75"/>
<circle cx="433" cy="182.4" r="1.75"/>
<circle cx="459" cy="172" r="1.75"/>
<circle cx="483" cy="177" r="1.75"/>
<circle cx="543.6" cy="173" r="1.75"/>
<circle cx="544" cy="175" r="1.75"/>
<circle cx="564" cy="167" r="1.75"/>
<circle cx="460" cy="188" r="1.75"/>
<circle cx="459" cy="204.4" r="1.75"/>
<circle cx="500" cy="181" r="1.75"/>
<circle cx="500" cy="188" r="1.75"/>
<circle cx="498" cy="190" r="1.75"/>
<circle cx="495" cy="192" r="1.75"/>
<circle cx="497" cy="196" r="1.75"/>
<circle cx="500" cy="192" r="1.75"/>
<circle cx="494" cy="198" r="1.75"/>
<circle cx="541" cy="182" r="1.75"/>
<circle cx="543.6" cy="180" r="1.75"/>
<circle cx="568" cy="182" r="1.75"/>
<circle cx="485" cy="182" r="1.75"/>
<circle cx="486" cy="185" r="1.75"/>
<circle cx="483" cy="187" r="1.75"/>
<circle cx="37.7" cy="162.7" r="1.75"/>
<circle cx="39.3" cy="156.9" r="1.75"/>
<circle cx="38" cy="155.1" r="1.75"/>
<circle cx="39.9" cy="160.4" r="1.75"/>
<circle cx="123.1" cy="186.9" r="1.75"/>
<circle cx="126.8" cy="182.9" r="1.75"/>
<circle cx="119.5" cy="181.7" r="1.75"/>
<circle cx="121.2" cy="192.3" r="1.75"/>
<circle cx="136.7" cy="194.5" r="1.75"/>
<circle cx="126.6" cy="170.4" r="1.75"/>
</g>
<g fill="#999933">
<circle cx="48" cy="147" r="1.75"/>
<circle cx="47" cy="150" r="1.75"/>
<circle cx="54" cy="149" r="1.75"/>
<circle cx="52" cy="155" r="1.75"/>
<circle cx="48" cy="162" r="1.75"/>
<circle cx="47" cy="165" r="1.75"/>
<circle cx="46" cy="168" r="1.75"/>
<circle cx="48" cy="151" r="1.75"/>
<circle cx="49" cy="155" r="1.75"/>
<circle cx="74" cy="163" r="1.75"/>
<circle cx="76" cy="162" r="1.75"/>
<circle cx="72" cy="169" r="1.75"/>
<circle cx="94" cy="171" r="1.75"/>
<circle cx="98" cy="170" r="1.75"/>
<circle cx="117.6" cy="168" r="1.75"/>
<circle cx="119" cy="170" r="1.75"/>
<circle cx="122" cy="172.4" r="1.75"/>
<circle cx="120" cy="176" r="1.75"/>
<circle cx="128" cy="174" r="1.75"/>
<circle cx="130" cy="177" r="1.75"/>
<circle cx="136" cy="176" r="1.75"/>
<circle cx="138" cy="178" r="1.75"/>
<circle cx="157.6" cy="158" r="1.75"/>
<circle cx="162" cy="173.6" r="1.75"/>
<circle cx="157" cy="173" r="1.75"/>
<circle cx="161" cy="178" r="1.75"/>
<circle cx="75" cy="181" r="1.75"/>
<circle cx="117" cy="193" r="1.75"/>
<circle cx="99" cy="200" r="1.75"/>
<circle cx="128" cy="180" r="1.75"/>
<circle cx="131" cy="182" r="1.75"/>
<circle cx="132" cy="188" r="1.75"/>
<circle cx="134" cy="193" r="1.75"/>
<circle cx="138" cy="186" r="1.75"/>
<circle cx="138" cy="182" r="1.75"/>
<circle cx="157" cy="183" r="1.75"/>
<circle cx="179" cy="150" r="1.75"/>
<circle cx="179.4" cy="152.4" r="1.75"/>
<circle cx="183.4" cy="155" r="1.75"/>
<circle cx="206.6" cy="178" r="1.75"/>
<circle cx="202" cy="179" r="1.75"/>
<circle cx="245.4" cy="166" r="1.75"/>
<circle cx="246" cy="168" r="1.75"/>
<circle cx="241" cy="174" r="1.75"/>
<circle cx="290" cy="168" r="1.75"/>
<circle cx="289.4" cy="170" r="1.75"/>
<circle cx="201.4" cy="183" r="1.75"/>
<circle cx="205" cy="186" r="1.75"/>
<circle cx="203" cy="190" r="1.75"/>
<circle cx="201.4" cy="191" r="1.75"/>
<circle cx="206.6" cy="190" r="1.75"/>
<circle cx="202.6" cy="197" r="1.75"/>
<circle cx="202" cy="198" r="1.75"/>
<circle cx="240.6" cy="189" r="1.75"/>
<circle cx="266.6" cy="181.6" r="1.75"/>
<circle cx="289.4" cy="180" r="1.75"/>
<circle cx="290.6" cy="183" r="1.75"/>
<circle cx="290" cy="186" r="1.75"/>
<circle cx="289.4" cy="191.6" r="1.75"/>
<circle cx="326.4" cy="172" r="1.75"/>
<circle cx="326" cy="176" r="1.75"/>
<circle cx="330.4" cy="172.4" r="1.75"/>
<circle cx="331.6" cy="178" r="1.75"/>
<circle cx="410.4" cy="166" r="1.75"/>
<circle cx="410.4" cy="171" r="1.75"/>
<circle cx="416" cy="174" r="1.75"/>
<circle cx="412" cy="176" r="1.75"/>
<circle cx="410" cy="178" r="1.75"/>
<circle cx="416" cy="177.6" r="1.75"/>
<circle cx="433.6" cy="151" r="1.75"/>
<circle cx="433.6" cy="157.6" r="1.75"/>
<circle cx="330" cy="182" r="1.75"/>
<circle cx="326.4" cy="183" r="1.75"/>
<circle cx="327.6" cy="186" r="1.75"/>
<circle cx="327" cy="190" r="1.75"/>
<circle cx="331.6" cy="181" r="1.75"/>
<circle cx="353" cy="182" r="1.75"/>
<circle cx="375.6" cy="182" r="1.75"/>
<circle cx="375" cy="191.6" r="1.75"/>
<circle cx="371.6" cy="193.6" r="1.75"/>
<circle cx="372" cy="196.4" r="1.75"/>
<circle cx="371" cy="199.6" r="1.75"/>
<circle cx="410" cy="180" r="1.75"/>
<circle cx="415.6" cy="187.6" r="1.75"/>
<circle cx="415" cy="193.6" r="1.75"/>
<circle cx="410" cy="195.6" r="1.75"/>
<circle cx="460" cy="169.6" r="1.75"/>
<circle cx="481" cy="165" r="1.75"/>
<circle cx="483" cy="166.4" r="1.75"/>
<circle cx="481.6" cy="168.4" r="1.75"/>
<circle cx="484.4" cy="170" r="1.75"/>
<circle cx="481" cy="171.6" r="1.75"/>
<circle cx="483" cy="173" r="1.75"/>
<circle cx="485" cy="174.4" r="1.75"/>
<circle cx="481.6" cy="176" r="1.75"/>
<circle cx="484" cy="177.6" r="1.75"/>
<circle cx="482.4" cy="179" r="1.75"/>
<circle cx="485.6" cy="179.6" r="1.75"/>
<circle cx="481" cy="178.4" r="1.75"/>
<circle cx="521.6" cy="159" r="1.75"/>
<circle cx="521" cy="162" r="1.75"/>
<circle cx="522" cy="167" r="1.75"/>
<circle cx="521" cy="173" r="1.75"/>
<circle cx="563.6" cy="172" r="1.75"/>
<circle cx="564" cy="174" r="1.75"/>
<circle cx="568" cy="170" r="1.75"/>
<circle cx="566" cy="177" r="1.75"/>
<circle cx="459.6" cy="190" r="1.75"/>
<circle cx="459" cy="196" r="1.75"/>
<circle cx="460" cy="201" r="1.75"/>
<circle cx="494" cy="185" r="1.75"/>
<circle cx="495" cy="194" r="1.75"/>
<circle cx="494" cy="200" r="1.75"/>
<circle cx="496" cy="204" r="1.75"/>
<circle cx="498" cy="206" r="1.75"/>
<circle cx="500" cy="196" r="1.75"/>
<circle cx="499" cy="202" r="1.75"/>
<circle cx="497" cy="198" r="1.75"/>
<circle cx="521.6" cy="181" r="1.75"/>
<circle cx="544" cy="184" r="1.75"/>
<circle cx="541" cy="186" r="1.75"/>
<circle cx="563" cy="181" r="1.75"/>
<circle cx="567" cy="188" r="1.75"/>
<circle cx="481" cy="180" r="1.75"/>
<circle cx="483" cy="181" r="1.75"/>
<circle cx="485" cy="183" r="1.75"/>
<circle cx="482" cy="184" r="1.75"/>
<circle cx="484" cy="185.6" r="1.75"/>
<circle cx="485.6" cy="187.6" r="1.75"/>
<circle cx="483" cy="188.4" r="1.75"/>
<circle cx="484.4" cy="189" r="1.75"/>
<circle cx="36.8" cy="145.9" r="1.75"/>
<circle cx="35.3" cy="151.2" r="1.75"/>
<circle cx="38.5" cy="154.7" r="1.75"/>
<circle cx="37.4" cy="163.8" r="1.75"/>
<circle cx="37.7" cy="148.4" r="1.75"/>
<circle cx="38.2" cy="158.1" r="1.75"/>
<circle cx="34.5" cy="147.1" r="1.75"/>
<circle cx="37.5" cy="160.8" r="1.75"/>
<circle cx="37.5" cy="146.7" r="1.75"/>
<circle cx="38.7" cy="159.6" r="1.75"/>
<circle cx="37.2" cy="146.9" r="1.75"/>
<circle cx="37.2" cy="146.5" r="1.75"/>
<circle cx="36.5" cy="155.4" r="1.75"/>
<circle cx="38.9" cy="157.7" r="1.75"/>
<circle cx="35.3" cy="151.2" r="1.75"/>
<circle cx="36.4" cy="157.1" r="1.75"/>
<circle cx="34.9" cy="147.5" r="1.75"/>
<circle cx="34.9" cy="146.2" r="1.75"/>
<circle cx="36" cy="152.2" r="1.75"/>
<circle cx="37.3" cy="162.5" r="1.75"/>
<circle cx="36.1" cy="156.5" r="1.75"/>
<circle cx="35.1" cy="153" r="1.75"/>
<circle cx="34.8" cy="150.8" r="1.75"/>
<circle cx="38.1" cy="161.9" r="1.75"/>
<circle cx="36.2" cy="149.4" r="1.75"/>
<circle cx="37.2" cy="166.5" r="1.75"/>
<circle cx="116.2" cy="171.4" r="1.75"/>
<circle cx="118.2" cy="169.5" r="1.75"/>
<circle cx="121" cy="169" r="1.75"/>
<circle cx="119.8" cy="177.6" r="1.75"/>
<circle cx="120.1" cy="178.9" r="1.75"/>
<circle cx="116" cy="176.3" r="1.75"/>
<circle cx="120.5" cy="182.2" r="1.75"/>
<circle cx="119.2" cy="176.6" r="1.75"/>
<circle cx="116.4" cy="179.5" r="1.75"/>
<circle cx="117.5" cy="181" r="1.75"/>
<circle cx="117.6" cy="168.4" r="1.75"/>
<circle cx="117.2" cy="180.9" r="1.75"/>
<circle cx="139.4" cy="189" r="1.75"/>
<circle cx="132.3" cy="183.4" r="1.75"/>
<circle cx="135.6" cy="183" r="1.75"/>
<circle cx="135.6" cy="189.6" r="1.75"/>
<circle cx="129.3" cy="186.8" r="1.75"/>
<circle cx="130.1" cy="175.4" r="1.75"/>
<circle cx="132.1" cy="189.1" r="1.75"/>
<circle cx="128.4" cy="185.1" r="1.75"/>
<circle cx="130.1" cy="173.4" r="1.75"/>
<circle cx="136.2" cy="187.5" r="1.75"/>
<circle cx="73.8" cy="175.3" r="1.75"/>
<circle cx="70.3" cy="169.7" r="1.75"/>
<circle cx="73.7" cy="166.1" r="1.75"/>
<circle cx="71.9" cy="166.2" r="1.75"/>
</g>
<g fill="#DDCC77">
<circle cx="54" cy="101" r="1.75"/>
<circle cx="53.6" cy="104" r="1.75"/>
<circle cx="162" cy="115.6" r="1.75"/>
<circle cx="158" cy="118" r="1.75"/>
<circle cx="48" cy="122" r="1.75"/>
<circle cx="50" cy="121" r="1.75"/>
<circle cx="46.4" cy="136" r="1.75"/>
<circle cx="47" cy="139" r="1.75"/>
<circle cx="48" cy="142" r="1.75"/>
<circle cx="53.6" cy="139" r="1.75"/>
<circle cx="51" cy="140" r="1.75"/>
<circle cx="71" cy="134" r="1.75"/>
<circle cx="72" cy="136" r="1.75"/>
<circle cx="76" cy="143.6" r="1.75"/>
<circle cx="74" cy="147" r="1.75"/>
<circle cx="95" cy="139" r="1.75"/>
<circle cx="97.6" cy="142" r="1.75"/>
<circle cx="118" cy="146" r="1.75"/>
<circle cx="121" cy="143.6" r="1.75"/>
<circle cx="128" cy="144" r="1.75"/>
<circle cx="129.6" cy="147" r="1.75"/>
<circle cx="132" cy="148" r="1.75"/>
<circle cx="135" cy="153" r="1.75"/>
<circle cx="137" cy="155.6" r="1.75"/>
<circle cx="118" cy="152" r="1.75"/>
<circle cx="116" cy="157" r="1.75"/>
<circle cx="120" cy="140" r="1.75"/>
<circle cx="160" cy="129" r="1.75"/>
<circle cx="157" cy="131" r="1.75"/>
<circle cx="162" cy="152" r="1.75"/>
<circle cx="156" cy="160" r="1.75"/>
<circle cx="160" cy="153" r="1.75"/>
<circle cx="178.6" cy="115" r="1.75"/>
<circle cx="179" cy="126.4" r="1.75"/>
<circle cx="183.4" cy="138" r="1.75"/>
<circle cx="182.6" cy="142" r="1.75"/>
<circle cx="183" cy="144.4" r="1.75"/>
<circle cx="184" cy="140" r="1.75"/>
<circle cx="202" cy="152" r="1.75"/>
<circle cx="205.4" cy="153" r="1.75"/>
<circle cx="201" cy="158" r="1.75"/>
<circle cx="204.6" cy="157" r="1.75"/>
<circle cx="204.6" cy="164" r="1.75"/>
<circle cx="206.6" cy="152" r="1.75"/>
<circle cx="245.4" cy="133" r="1.75"/>
<circle cx="240.6" cy="145.6" r="1.75"/>
<circle cx="264" cy="130.4" r="1.75"/>
<circle cx="289" cy="160" r="1.75"/>
<circle cx="331" cy="133" r="1.75"/>
<circle cx="331" cy="137.6" r="1.75"/>
<circle cx="326" cy="150" r="1.75"/>
<circle cx="330.4" cy="147.6" r="1.75"/>
<circle cx="327" cy="155.6" r="1.75"/>
<circle cx="329.6" cy="158" r="1.75"/>
<circle cx="352.4" cy="131" r="1.75"/>
<circle cx="349" cy="146" r="1.75"/>
<circle cx="376" cy="157" r="1.75"/>
<circle cx="371.6" cy="157.6" r="1.75"/>
<circle cx="372.4" cy="162.4" r="1.75"/>
<circle cx="375.6" cy="161" r="1.75"/>
<circle cx="409.6" cy="148" r="1.75"/>
<circle cx="411" cy="149.6" r="1.75"/>
<circle cx="411.6" cy="158" r="1.75"/>
<circle cx="410.4" cy="160" r="1.75"/>
<circle cx="415" cy="167" r="1.75"/>
<circle cx="416" cy="168" r="1.75"/>
<circle cx="434.4" cy="128.4" r="1.75"/>
<circle cx="433.6" cy="142.4" r="1.75"/>
<circle cx="459.6" cy="156" r="1.75"/>
<circle cx="460" cy="166" r="1.75"/>
<circle cx="481" cy="130" r="1.75"/>
<circle cx="494" cy="158" r="1.75"/>
<circle cx="500" cy="157" r="1.75"/>
<circle cx="500" cy="165" r="1.75"/>
<circle cx="518" cy="122" r="1.75"/>
<circle cx="522" cy="142.4" r="1.75"/>
<circle cx="518" cy="151" r="1.75"/>
<circle cx="541" cy="154" r="1.75"/>
<circle cx="544" cy="161.6" r="1.75"/>
<circle cx="568" cy="126" r="1.75"/>
<circle cx="38.2" cy="130.7" r="1.75"/>
<circle cx="41.1" cy="131.1" r="1.75"/>
<circle cx="40.6" cy="134.9" r="1.75"/>
<circle cx="36.3" cy="139" r="1.75"/>
<circle cx="41.1" cy="132.5" r="1.75"/>
<circle cx="35.5" cy="137.3" r="1.75"/>
<circle cx="37.6" cy="125.1" r="1.75"/>
<circle cx="36.2" cy="124.2" r="1.75"/>
<circle cx="39.2" cy="124.2" r="1.75"/>
<circle cx="40.8" cy="136.3" r="1.75"/>
<circle cx="39.5" cy="125.6" r="1.75"/>
<circle cx="35.5" cy="134.2" r="1.75"/>
<circle cx="41.3" cy="138" r="1.75"/>
<circle cx="41.2" cy="126.7" r="1.75"/>
<circle cx="37.9" cy="129.8" r="1.75"/>
<circle cx="40.3" cy="139.8" r="1.75"/>
<circle cx="37.5" cy="125.7" r="1.75"/>
<circle cx="36.9" cy="131.8" r="1.75"/>
<circle cx="36.7" cy="126.3" r="1.75"/>
<circle cx="34.6" cy="135.3" r="1.75"/>
<circle cx="37.6" cy="132.4" r="1.75"/>
<circle cx="36.8" cy="123.3" r="1.75"/>
<circle cx="38.1" cy="133.6" r="1.75"/>
<circle cx="41.4" cy="124.1" r="1.75"/>
<circle cx="41.3" cy="136.4" r="1.75"/>
<circle cx="36.4" cy="124.8" r="1.75"/>
<circle cx="133.3" cy="142.6" r="1.75"/>
<circle cx="127.9" cy="157.1" r="1.75"/>
<circle cx="133.1" cy="154.8" r="1.75"/>
<circle cx="135.8" cy="156" r="1.75"/>
<circle cx="138.6" cy="144.2" r="1.75"/>
<circle cx="126.3" cy="148.8" r="1.75"/>
<circle cx="132.9" cy="140.1" r="1.75"/>
<circle cx="130.2" cy="148.1" r="1.75"/>
<circle cx="117.3" cy="154.4" r="1.75"/>
<circle cx="118.1" cy="146" r="1.75"/>
<circle cx="119.7" cy="156" r="1.75"/>
<circle cx="118.4" cy="145.8" r="1.75"/>
<circle cx="115.4" cy="144.4" r="1.75"/>
</g>
<g fill="#CC6677">
<circle cx="54" cy="90" r="1.75"/>
<circle cx="53" cy="93" r="1.75"/>
<circle cx="52" cy="107" r="1.75"/>
<circle cx="48" cy="113" r="1.75"/>
<circle cx="47" cy="115" r="1.75"/>
<circle cx="157.6" cy="90" r="1.75"/>
<circle cx="156" cy="102" r="1.75"/>
<circle cx="160.4" cy="97" r="1.75"/>
<circle cx="157" cy="111" r="1.75"/>
<circle cx="161" cy="112" r="1.75"/>
<circle cx="47.6" cy="124.4" r="1.75"/>
<circle cx="47" cy="129" r="1.75"/>
<circle cx="54" cy="126" r="1.75"/>
<circle cx="53.6" cy="130" r="1.75"/>
<circle cx="75" cy="131" r="1.75"/>
<circle cx="72" cy="134" r="1.75"/>
<circle cx="71" cy="139.6" r="1.75"/>
<circle cx="76" cy="138" r="1.75"/>
<circle cx="73.6" cy="153" r="1.75"/>
<circle cx="94" cy="135" r="1.75"/>
<circle cx="98" cy="138" r="1.75"/>
<circle cx="93.6" cy="147" r="1.75"/>
<circle cx="116" cy="135" r="1.75"/>
<circle cx="122" cy="136" r="1.75"/>
<circle cx="117.6" cy="140" r="1.75"/>
<circle cx="128" cy="134" r="1.75"/>
<circle cx="130" cy="138" r="1.75"/>
<circle cx="128.4" cy="140" r="1.75"/>
<circle cx="136" cy="140" r="1.75"/>
<circle cx="138" cy="143" r="1.75"/>
<circle cx="135" cy="146" r="1.75"/>
<circle cx="137" cy="150" r="1.75"/>
<circle cx="138" cy="153" r="1.75"/>
<circle cx="122" cy="142" r="1.75"/>
<circle cx="178.6" cy="107" r="1.75"/>
<circle cx="183.4" cy="118.4" r="1.75"/>
<circle cx="179.4" cy="134.4" r="1.75"/>
<circle cx="201.4" cy="143" r="1.75"/>
<circle cx="204" cy="145" r="1.75"/>
<circle cx="201" cy="147" r="1.75"/>
<circle cx="204.6" cy="148" r="1.75"/>
<circle cx="206.6" cy="146" r="1.75"/>
<circle cx="203.4" cy="140" r="1.75"/>
<circle cx="202" cy="139" r="1.75"/>
<circle cx="240.6" cy="122.4" r="1.75"/>
<circle cx="246" cy="143" r="1.75"/>
<circle cx="264" cy="121.6" r="1.75"/>
<circle cx="290" cy="142" r="1.75"/>
<circle cx="289.4" cy="143.6" r="1.75"/>
<circle cx="290" cy="149" r="1.75"/>
<circle cx="289" cy="153" r="1.75"/>
<circle cx="433.6" cy="110" r="1.75"/>
<circle cx="433.6" cy="115" r="1.75"/>
<circle cx="331" cy="121" r="1.75"/>
<circle cx="326" cy="140" r="1.75"/>
<circle cx="327" cy="144.4" r="1.75"/>
<circle cx="330.4" cy="138" r="1.75"/>
<circle cx="349" cy="133" r="1.75"/>
<circle cx="349" cy="135" r="1.75"/>
<circle cx="352.4" cy="128.4" r="1.75"/>
<circle cx="375" cy="141" r="1.75"/>
<circle cx="371" cy="150.4" r="1.75"/>
<circle cx="372.4" cy="143.6" r="1.75"/>
<circle cx="410" cy="137" r="1.75"/>
<circle cx="413" cy="139" r="1.75"/>
<circle cx="410.4" cy="146.4" r="1.75"/>
<circle cx="415" cy="146" r="1.75"/>
<circle cx="416" cy="150" r="1.75"/>
<circle cx="434.4" cy="130.4" r="1.75"/>
<circle cx="521" cy="118" r="1.75"/>
<circle cx="523" cy="117" r="1.75"/>
<circle cx="455.6" cy="140" r="1.75"/>
<circle cx="460" cy="140" r="1.75"/>
<circle cx="459" cy="146" r="1.75"/>
<circle cx="459.6" cy="150" r="1.75"/>
<circle cx="460" cy="153" r="1.75"/>
<circle cx="480.4" cy="134.4" r="1.75"/>
<circle cx="483" cy="135.6" r="1.75"/>
<circle cx="485" cy="137" r="1.75"/>
<circle cx="481" cy="138" r="1.75"/>
<circle cx="483.6" cy="139" r="1.75"/>
<circle cx="485.6" cy="140.4" r="1.75"/>
<circle cx="481" cy="141.6" r="1.75"/>
<circle cx="483" cy="143" r="1.75"/>
<circle cx="485" cy="144" r="1.75"/>
<circle cx="480.4" cy="145" r="1.75"/>
<circle cx="482.4" cy="146.4" r="1.75"/>
<circle cx="485" cy="147.6" r="1.75"/>
<circle cx="481" cy="149" r="1.75"/>
<circle cx="483.6" cy="150" r="1.75"/>
<circle cx="485.6" cy="151" r="1.75"/>
<circle cx="481.6" cy="152" r="1.75"/>
<circle cx="484" cy="153" r="1.75"/>
<circle cx="482.4" cy="154" r="1.75"/>
<circle cx="494" cy="160" r="1.75"/>
<circle cx="495" cy="163" r="1.75"/>
<circle cx="494" cy="167" r="1.75"/>
<circle cx="497" cy="170" r="1.75"/>
<circle cx="494" cy="172" r="1.75"/>
<circle cx="498" cy="173" r="1.75"/>
<circle cx="500" cy="162" r="1.75"/>
<circle cx="496" cy="174" r="1.75"/>
<circle cx="519" cy="127" r="1.75"/>
<circle cx="522" cy="126" r="1.75"/>
<circle cx="520" cy="131" r="1.75"/>
<circle cx="523" cy="132" r="1.75"/>
<circle cx="519" cy="136" r="1.75"/>
<circle cx="522" cy="137" r="1.75"/>
<circle cx="518" cy="138" r="1.75"/>
<circle cx="540" cy="136" r="1.75"/>
<circle cx="544" cy="139" r="1.75"/>
<circle cx="541" cy="140" r="1.75"/>
<circle cx="541" cy="149" r="1.75"/>
<circle cx="544" cy="151" r="1.75"/>
<circle cx="563" cy="133" r="1.75"/>
<circle cx="566" cy="135" r="1.75"/>
<circle cx="563" cy="138" r="1.75"/>
<circle cx="566" cy="141" r="1.75"/>
<circle cx="563.6" cy="144" r="1.75"/>
<circle cx="568" cy="142" r="1.75"/>
<circle cx="568" cy="138" r="1.75"/>
<circle cx="38.9" cy="125.6" r="1.75"/>
<circle cx="41" cy="119.4" r="1.75"/>
<circle cx="40.5" cy="118.1" r="1.75"/>
<circle cx="35.6" cy="123.6" r="1.75"/>
<circle cx="36.2" cy="115.5" r="1.75"/>
<circle cx="38.4" cy="115.4" r="1.75"/>
<circle cx="37.1" cy="115.6" r="1.75"/>
<circle cx="40.8" cy="113.8" r="1.75"/>
<circle cx="37.4" cy="117" r="1.75"/>
<circle cx="40.8" cy="120.2" r="1.75"/>
<circle cx="40.9" cy="117.9" r="1.75"/>
<circle cx="38" cy="119" r="1.75"/>
<circle cx="34.1" cy="119.3" r="1.75"/>
<circle cx="35.4" cy="118.2" r="1.75"/>
<circle cx="40" cy="112.1" r="1.75"/>
<circle cx="37.6" cy="114.4" r="1.75"/>
<circle cx="38.2" cy="122.2" r="1.75"/>
<circle cx="37.9" cy="116.6" r="1.75"/>
<circle cx="39.9" cy="119.8" r="1.75"/>
<circle cx="38.2" cy="113.5" r="1.75"/>
<circle cx="36.1" cy="115.5" r="1.75"/>
<circle cx="37.8" cy="122.8" r="1.75"/>
<circle cx="39.7" cy="119.9" r="1.75"/>
<circle cx="37.3" cy="124.8" r="1.75"/>
<circle cx="37.8" cy="120.6" r="1.75"/>
<circle cx="39.2" cy="119.2" r="1.75"/>
<circle cx="128.1" cy="154.7" r="1.75"/>
<circle cx="135" cy="148.9" r="1.75"/>
<circle cx="137.7" cy="134" r="1.75"/>
<circle cx="134.8" cy="152.6" r="1.75"/>
<circle cx="137.4" cy="149.1" r="1.75"/>
<circle cx="133.3" cy="136.1" r="1.75"/>
<circle cx="137.7" cy="144.1" r="1.75"/>
<circle cx="137.6" cy="150.7" r="1.75"/>
<circle cx="138.5" cy="145.8" r="1.75"/>
<circle cx="135.7" cy="148" r="1.75"/>
<circle cx="117.8" cy="134.3" r="1.75"/>
<circle cx="121.7" cy="137.1" r="1.75"/>
<circle cx="121" cy="132" r="1.75"/>
<circle cx="116" cy="145.4" r="1.75"/>
<circle cx="120.7" cy="146.8" r="1.75"/>
</g>
<g fill="#882255">
<circle cx="52.4" cy="64" r="1.75"/>
<circle cx="54" cy="74" r="1.75"/>
<circle cx="50.4" cy="85.6" r="1.75"/>
<circle cx="48" cy="88" r="1.75"/>
<circle cx="47.6" cy="93" r="1.75"/>
<circle cx="46.4" cy="97" r="1.75"/>
<circle cx="48" cy="100" r="1.75"/>
<circle cx="47" cy="103" r="1.75"/>
<circle cx="48.4" cy="106" r="1.75"/>
<circle cx="47" cy="112" r="1.75"/>
<circle cx="48.4" cy="118" r="1.75"/>
<circle cx="54" cy="97" r="1.75"/>
<circle cx="53" cy="99" r="1.75"/>
<circle cx="52.4" cy="103" r="1.75"/>
<circle cx="75" cy="102" r="1.75"/>
<circle cx="72" cy="108" r="1.75"/>
<circle cx="76.4" cy="107.6" r="1.75"/>
<circle cx="72" cy="113" r="1.75"/>
<circle cx="71" cy="118.4" r="1.75"/>
<circle cx="98" cy="111" r="1.75"/>
<circle cx="94" cy="116" r="1.75"/>
<circle cx="97.6" cy="117" r="1.75"/>
<circle cx="94.4" cy="119" r="1.75"/>
<circle cx="122" cy="110" r="1.75"/>
<circle cx="128" cy="105.6" r="1.75"/>
<circle cx="129.6" cy="107.6" r="1.75"/>
<circle cx="128" cy="112" r="1.75"/>
<circle cx="132" cy="114" r="1.75"/>
<circle cx="128" cy="118" r="1.75"/>
<circle cx="137" cy="106.4" r="1.75"/>
<circle cx="137.6" cy="112" r="1.75"/>
<circle cx="138" cy="117" r="1.75"/>
<circle cx="122" cy="115" r="1.75"/>
<circle cx="117" cy="118" r="1.75"/>
<circle cx="157.6" cy="87" r="1.75"/>
<circle cx="157" cy="92" r="1.75"/>
<circle cx="161" cy="103" r="1.75"/>
<circle cx="156.4" cy="105" r="1.75"/>
<circle cx="54" cy="132" r="1.75"/>
<circle cx="48" cy="130" r="1.75"/>
<circle cx="71" cy="123" r="1.75"/>
<circle cx="74" cy="122" r="1.75"/>
<circle cx="76" cy="122" r="1.75"/>
<circle cx="94" cy="120" r="1.75"/>
<circle cx="97.6" cy="123.6" r="1.75"/>
<circle cx="93.6" cy="130" r="1.75"/>
<circle cx="98" cy="130" r="1.75"/>
<circle cx="117" cy="122" r="1.75"/>
<circle cx="122" cy="123" r="1.75"/>
<circle cx="118" cy="126" r="1.75"/>
<circle cx="137" cy="122.4" r="1.75"/>
<circle cx="135" cy="126" r="1.75"/>
<circle cx="118" cy="131" r="1.75"/>
<circle cx="136" cy="134" r="1.75"/>
<circle cx="137" cy="132" r="1.75"/>
<circle cx="157" cy="121" r="1.75"/>
<circle cx="160" cy="122.4" r="1.75"/>
<circle cx="179.4" cy="89.6" r="1.75"/>
<circle cx="183" cy="93" r="1.75"/>
<circle cx="179" cy="99" r="1.75"/>
<circle cx="179.4" cy="101" r="1.75"/>
<circle cx="183" cy="100" r="1.75"/>
<circle cx="182.6" cy="110" r="1.75"/>
<circle cx="179.4" cy="119" r="1.75"/>
<circle cx="201.4" cy="111.6" r="1.75"/>
<circle cx="240.6" cy="102.4" r="1.75"/>
<circle cx="246" cy="105" r="1.75"/>
<circle cx="245.4" cy="109" r="1.75"/>
<circle cx="245" cy="111.6" r="1.75"/>
<circle cx="263.4" cy="97.6" r="1.75"/>
<circle cx="264" cy="103" r="1.75"/>
<circle cx="268" cy="106" r="1.75"/>
<circle cx="264.6" cy="111" r="1.75"/>
<circle cx="264.2" cy="115.6" r="1.75"/>
<circle cx="286" cy="111.6" r="1.75"/>
<circle cx="289.4" cy="114.4" r="1.75"/>
<circle cx="291" cy="114.4" r="1.75"/>
<circle cx="289" cy="118" r="1.75"/>
<circle cx="290.6" cy="117" r="1.75"/>
<circle cx="201" cy="124" r="1.75"/>
<circle cx="202" cy="127" r="1.75"/>
<circle cx="205" cy="125" r="1.75"/>
<circle cx="201" cy="129" r="1.75"/>
<circle cx="206" cy="130" r="1.75"/>
<circle cx="204" cy="134" r="1.75"/>
<circle cx="206.6" cy="135" r="1.75"/>
<circle cx="201" cy="133" r="1.75"/>
<circle cx="203" cy="136" r="1.75"/>
<circle cx="246" cy="124" r="1.75"/>
<circle cx="245.4" cy="130.4" r="1.75"/>
<circle cx="243" cy="122" r="1.75"/>
<circle cx="290" cy="121" r="1.75"/>
<circle cx="290.6" cy="124" r="1.75"/>
<circle cx="290" cy="136" r="1.75"/>
<circle cx="290.6" cy="129" r="1.75"/>
<circle cx="326" cy="108" r="1.75"/>
<circle cx="331.6" cy="113" r="1.75"/>
<circle cx="330.4" cy="115" r="1.75"/>
<circle cx="331.6" cy="119.6" r="1.75"/>
<circle cx="352.4" cy="108.4" r="1.75"/>
<circle cx="349" cy="117" r="1.75"/>
<circle cx="349" cy="119.6" r="1.75"/>
<circle cx="371" cy="114" r="1.75"/>
<circle cx="375.6" cy="119.6" r="1.75"/>
<circle cx="410" cy="115" r="1.75"/>
<circle cx="414" cy="116.4" r="1.75"/>
<circle cx="417" cy="117" r="1.75"/>
<circle cx="410.4" cy="118" r="1.75"/>
<circle cx="434.4" cy="91.4" r="1.75"/>
<circle cx="433.6" cy="103.6" r="1.75"/>
<circle cx="326" cy="123" r="1.75"/>
<circle cx="326.4" cy="126" r="1.75"/>
<circle cx="330.4" cy="124" r="1.75"/>
<circle cx="331" cy="129" r="1.75"/>
<circle cx="327" cy="133.6" r="1.75"/>
<circle cx="326.4" cy="137" r="1.75"/>
<circle cx="326.4" cy="141.6" r="1.75"/>
<circle cx="348.4" cy="120.4" r="1.75"/>
<circle cx="349" cy="124" r="1.75"/>
<circle cx="371" cy="124" r="1.75"/>
<circle cx="374" cy="125" r="1.75"/>
<circle cx="375.6" cy="121" r="1.75"/>
<circle cx="371.6" cy="130" r="1.75"/>
<circle cx="375" cy="127.6" r="1.75"/>
<circle cx="371" cy="139.6" r="1.75"/>
<circle cx="373.6" cy="145" r="1.75"/>
<circle cx="409.6" cy="123" r="1.75"/>
<circle cx="415.6" cy="124.4" r="1.75"/>
<circle cx="410" cy="133" r="1.75"/>
<circle cx="411" cy="135" r="1.75"/>
<circle cx="415" cy="133" r="1.75"/>
<circle cx="416" cy="139.6" r="1.75"/>
<circle cx="410.4" cy="141.6" r="1.75"/>
<circle cx="412" cy="137" r="1.75"/>
<circle cx="459.6" cy="107" r="1.75"/>
<circle cx="480.4" cy="105.6" r="1.75"/>
<circle cx="483" cy="106.4" r="1.75"/>
<circle cx="485" cy="108" r="1.75"/>
<circle cx="481" cy="109.6" r="1.75"/>
<circle cx="483.6" cy="110.4" r="1.75"/>
<circle cx="485.6" cy="111.6" r="1.75"/>
<circle cx="481" cy="113" r="1.75"/>
<circle cx="483" cy="114" r="1.75"/>
<circle cx="485" cy="115" r="1.75"/>
<circle cx="480.4" cy="116" r="1.75"/>
<circle cx="482.4" cy="117" r="1.75"/>
<circle cx="485" cy="118" r="1.75"/>
<circle cx="481.6" cy="119.6" r="1.75"/>
<circle cx="484" cy="112.4" r="1.75"/>
<circle cx="486" cy="116.4" r="1.75"/>
<circle cx="518.4" cy="85" r="1.75"/>
<circle cx="521.6" cy="86" r="1.75"/>
<circle cx="519" cy="91.6" r="1.75"/>
<circle cx="521" cy="97" r="1.75"/>
<circle cx="519" cy="102" r="1.75"/>
<circle cx="522" cy="104" r="1.75"/>
<circle cx="520" cy="109" r="1.75"/>
<circle cx="519" cy="112" r="1.75"/>
<circle cx="522" cy="114" r="1.75"/>
<circle cx="541" cy="108" r="1.75"/>
<circle cx="543" cy="110" r="1.75"/>
<circle cx="541.6" cy="116" r="1.75"/>
<circle cx="563" cy="100" r="1.75"/>
<circle cx="564" cy="102" r="1.75"/>
<circle cx="566" cy="105" r="1.75"/>
<circle cx="563.6" cy="108" r="1.75"/>
<circle cx="566" cy="111" r="1.75"/>
<circle cx="565" cy="114" r="1.75"/>
<circle cx="568" cy="115" r="1.75"/>
<circle cx="568" cy="100" r="1.75"/>
<circle cx="565" cy="106" r="1.75"/>
<circle cx="568" cy="110" r="1.75"/>
<circle cx="563" cy="113" r="1.75"/>
<circle cx="568" cy="118" r="1.75"/>
<circle cx="460" cy="123" r="1.75"/>
<circle cx="455" cy="128.4" r="1.75"/>
<circle cx="459" cy="129" r="1.75"/>
<circle cx="455.6" cy="133.6" r="1.75"/>
<circle cx="484" cy="122" r="1.75"/>
<circle cx="485" cy="125" r="1.75"/>
<circle cx="500" cy="121" r="1.75"/>
<circle cx="493" cy="132" r="1.75"/>
<circle cx="497" cy="128" r="1.75"/>
<circle cx="500" cy="131" r="1.75"/>
<circle cx="495" cy="136" r="1.75"/>
<circle cx="494" cy="144" r="1.75"/>
<circle cx="498" cy="142" r="1.75"/>
<circle cx="500" cy="146" r="1.75"/>
<circle cx="497" cy="150" r="1.75"/>
<circle cx="494" cy="139" r="1.75"/>
<circle cx="540" cy="121" r="1.75"/>
<circle cx="544" cy="145" r="1.75"/>
<circle cx="563.6" cy="121" r="1.75"/>
<circle cx="36.7" cy="92.2" r="1.75"/>
<circle cx="40.6" cy="90.6" r="1.75"/>
<circle cx="35.1" cy="103.5" r="1.75"/>
<circle cx="36.6" cy="95.5" r="1.75"/>
<circle cx="34.9" cy="98" r="1.75"/>
<circle cx="41.4" cy="108.7" r="1.75"/>
<circle cx="37.6" cy="100.3" r="1.75"/>
<circle cx="34.8" cy="91.9" r="1.75"/>
<circle cx="36" cy="97.5" r="1.75"/>
<circle cx="35.2" cy="108.2" r="1.75"/>
<circle cx="41.1" cy="90.5" r="1.75"/>
<circle cx="35.1" cy="101.6" r="1.75"/>
<circle cx="34.2" cy="101.9" r="1.75"/>
<circle cx="41.3" cy="101.6" r="1.75"/>
<circle cx="39.2" cy="109" r="1.75"/>
<circle cx="36.8" cy="95.7" r="1.75"/>
<circle cx="39.8" cy="93.7" r="1.75"/>
<circle cx="39.8" cy="101.7" r="1.75"/>
<circle cx="35.7" cy="97.3" r="1.75"/>
<circle cx="41.4" cy="107.9" r="1.75"/>
<circle cx="40" cy="108.8" r="1.75"/>
<circle cx="39.5" cy="108" r="1.75"/>
<circle cx="37.9" cy="95" r="1.75"/>
<circle cx="34.2" cy="97.8" r="1.75"/>
<circle cx="36.1" cy="90.6" r="1.75"/>
<circle cx="39.2" cy="95.7" r="1.75"/>
<circle cx="37.4" cy="111" r="1.75"/>
<circle cx="41.4" cy="110.6" r="1.75"/>
<circle cx="36.7" cy="111" r="1.75"/>
<circle cx="35.7" cy="94.9" r="1.75"/>
<circle cx="35.5" cy="94.3" r="1.75"/>
<circle cx="40.8" cy="103.7" r="1.75"/>
<circle cx="37.6" cy="108.5" r="1.75"/>
<circle cx="40" cy="104.4" r="1.75"/>
<circle cx="39" cy="91.9" r="1.75"/>
<circle cx="39.9" cy="110" r="1.75"/>
<circle cx="37.6" cy="106.5" r="1.75"/>
<circle cx="39.9" cy="93.9" r="1.75"/>
<circle cx="40" cy="97.3" r="1.75"/>
<circle cx="37" cy="111.4" r="1.75"/>
<circle cx="41.1" cy="98.8" r="1.75"/>
<circle cx="35.3" cy="105.9" r="1.75"/>
</g>
<g fill="#AA4499">
<circle cx="54" cy="165.6" r="1.75"/>
<circle cx="54" cy="184.4" r="1.75"/>
<circle cx="52.4" cy="191" r="1.75"/>
<circle cx="50" cy="201.6" r="1.75"/>
<circle cx="52.4" cy="202.4" r="1.75"/>
<circle cx="48" cy="205" r="1.75"/>
<circle cx="47.6" cy="208" r="1.75"/>
<circle cx="47" cy="211" r="1.75"/>
<circle cx="48.4" cy="213" r="1.75"/>
<circle cx="47" cy="228.4" r="1.75"/>
<circle cx="48.4" cy="228.4" r="1.75"/>
<circle cx="93.6" cy="223" r="1.75"/>
<circle cx="95" cy="225" r="1.75"/>
<circle cx="132" cy="223" r="1.75"/>
<circle cx="135" cy="222" r="1.75"/>
<circle cx="137" cy="221" r="1.75"/>
<circle cx="135" cy="227" r="1.75"/>
<circle cx="137" cy="229" r="1.75"/>
<circle cx="118" cy="229" r="1.75"/>
<circle cx="121" cy="229" r="1.75"/>
<circle cx="71" cy="187" r="1.75"/>
<circle cx="73.6" cy="197.6" r="1.75"/>
<circle cx="75" cy="205.6" r="1.75"/>
<circle cx="71.6" cy="211.4" r="1.75"/>
<circle cx="97.6" cy="186" r="1.75"/>
<circle cx="95" cy="212" r="1.75"/>
<circle cx="122" cy="212" r="1.75"/>
<circle cx="121.6" cy="215" r="1.75"/>
<circle cx="121" cy="217" r="1.75"/>
<circle cx="128" cy="212" r="1.75"/>
<circle cx="129" cy="215" r="1.75"/>
<circle cx="130" cy="217" r="1.75"/>
<circle cx="128.4" cy="220" r="1.75"/>
<circle cx="138" cy="216" r="1.75"/>
<circle cx="136" cy="218" r="1.75"/>
<circle cx="138" cy="208" r="1.75"/>
<circle cx="161.6" cy="184" r="1.75"/>
<circle cx="160" cy="198" r="1.75"/>
<circle cx="161.6" cy="202" r="1.75"/>
<circle cx="156.4" cy="215.6" r="1.75"/>
<circle cx="47" cy="251" r="1.75"/>
<circle cx="117.6" cy="233.6" r="1.75"/>
<circle cx="116" cy="234.4" r="1.75"/>
<circle cx="137.4" cy="233.6" r="1.75"/>
<circle cx="134.6" cy="242.4" r="1.75"/>
<circle cx="268.6" cy="173" r="1.75"/>
<circle cx="179" cy="205" r="1.75"/>
<circle cx="183.4" cy="204.4" r="1.75"/>
<circle cx="179.4" cy="216.4" r="1.75"/>
<circle cx="201.4" cy="215" r="1.75"/>
<circle cx="206" cy="219.6" r="1.75"/>
<circle cx="204.6" cy="220.4" r="1.75"/>
<circle cx="206.6" cy="227" r="1.75"/>
<circle cx="202" cy="225.6" r="1.75"/>
<circle cx="201" cy="228" r="1.75"/>
<circle cx="241" cy="229.6" r="1.75"/>
<circle cx="263.4" cy="223" r="1.75"/>
<circle cx="240.6" cy="210.4" r="1.75"/>
<circle cx="268.6" cy="191.6" r="1.75"/>
<circle cx="290" cy="219" r="1.75"/>
<circle cx="290.6" cy="220.4" r="1.75"/>
<circle cx="289.4" cy="221.6" r="1.75"/>
<circle cx="201.4" cy="230" r="1.75"/>
<circle cx="202" cy="238.4" r="1.75"/>
<circle cx="205.4" cy="238" r="1.75"/>
<circle cx="204.6" cy="248" r="1.75"/>
<circle cx="245.4" cy="232" r="1.75"/>
<circle cx="246" cy="266.4" r="1.75"/>
<circle cx="286" cy="244.4" r="1.75"/>
<circle cx="289.4" cy="245.6" r="1.75"/>
<circle cx="331.6" cy="198.4" r="1.75"/>
<circle cx="325.6" cy="220.4" r="1.75"/>
<circle cx="370.4" cy="221.6" r="1.75"/>
<circle cx="371" cy="227" r="1.75"/>
<circle cx="411.6" cy="220.4" r="1.75"/>
<circle cx="409.6" cy="227" r="1.75"/>
<circle cx="326.4" cy="232.4" r="1.75"/>
<circle cx="330.4" cy="232.4" r="1.75"/>
<circle cx="327" cy="242" r="1.75"/>
<circle cx="326" cy="256" r="1.75"/>
<circle cx="348.4" cy="230.4" r="1.75"/>
<circle cx="371" cy="233" r="1.75"/>
<circle cx="375.6" cy="235.6" r="1.75"/>
<circle cx="373.6" cy="243.6" r="1.75"/>
<circle cx="372" cy="252" r="1.75"/>
<circle cx="372.4" cy="257" r="1.75"/>
<circle cx="415" cy="231.6" r="1.75"/>
<circle cx="410.4" cy="238.4" r="1.75"/>
<circle cx="415" cy="239.6" r="1.75"/>
<circle cx="416.4" cy="240.4" r="1.75"/>
<circle cx="434" cy="243.6" r="1.75"/>
<circle cx="480.4" cy="204.4" r="1.75"/>
<circle cx="482.4" cy="205.6" r="1.75"/>
<circle cx="484.4" cy="206.4" r="1.75"/>
<circle cx="481" cy="207.6" r="1.75"/>
<circle cx="483" cy="208.4" r="1.75"/>
<circle cx="485.6" cy="209.2" r="1.75"/>
<circle cx="481" cy="210" r="1.75"/>
<circle cx="483" cy="211" r="1.75"/>
<circle cx="485" cy="212" r="1.75"/>
<circle cx="480.4" cy="213" r="1.75"/>
<circle cx="482.4" cy="214" r="1.75"/>
<circle cx="485" cy="215" r="1.75"/>
<circle cx="481" cy="216.4" r="1.75"/>
<circle cx="483.6" cy="217.6" r="1.75"/>
<circle cx="485.6" cy="218.4" r="1.75"/>
<circle cx="481" cy="219.6" r="1.75"/>
<circle cx="483" cy="220.4" r="1.75"/>
<circle cx="485.6" cy="220" r="1.75"/>
<circle cx="522" cy="199.6" r="1.75"/>
<circle cx="522.4" cy="206" r="1.75"/>
<circle cx="518" cy="208" r="1.75"/>
<circle cx="519" cy="217.6" r="1.75"/>
<circle cx="519" cy="224" r="1.75"/>
<circle cx="519.6" cy="228" r="1.75"/>
<circle cx="544" cy="222.4" r="1.75"/>
<circle cx="563" cy="210" r="1.75"/>
<circle cx="566" cy="213" r="1.75"/>
<circle cx="568" cy="215" r="1.75"/>
<circle cx="564" cy="217" r="1.75"/>
<circle cx="563" cy="223" r="1.75"/>
<circle cx="568" cy="218" r="1.75"/>
<circle cx="459.6" cy="239.6" r="1.75"/>
<circle cx="459" cy="269.6" r="1.75"/>
<circle cx="500" cy="232.4" r="1.75"/>
<circle cx="498" cy="234" r="1.75"/>
<circle cx="497" cy="238.4" r="1.75"/>
<circle cx="499" cy="238.4" r="1.75"/>
<circle cx="500" cy="238" r="1.75"/>
<circle cx="494" cy="242" r="1.75"/>
<circle cx="495" cy="243.6" r="1.75"/>
<circle cx="494" cy="245" r="1.75"/>
<circle cx="495.6" cy="245.6" r="1.75"/>
<circle cx="518" cy="246" r="1.75"/>
<circle cx="522" cy="244.4" r="1.75"/>
<circle cx="519.6" cy="251.6" r="1.75"/>
<circle cx="495" cy="258" r="1.75"/>
<circle cx="496.4" cy="261" r="1.75"/>
<circle cx="500.4" cy="255.6" r="1.75"/>
<circle cx="544.4" cy="254.4" r="1.75"/>
<circle cx="37.7" cy="211.9" r="1.75"/>
<circle cx="38.4" cy="222.5" r="1.75"/>
<circle cx="36.5" cy="213.7" r="1.75"/>
<circle cx="34.6" cy="203.6" r="1.75"/>
<circle cx="36.5" cy="204.1" r="1.75"/>
<circle cx="35.4" cy="209.4" r="1.75"/>
<circle cx="36.8" cy="204.5" r="1.75"/>
<circle cx="39" cy="227.2" r="1.75"/>
<circle cx="35.7" cy="210.2" r="1.75"/>
<circle cx="36.4" cy="210.5" r="1.75"/>
<circle cx="35.9" cy="206.6" r="1.75"/>
<circle cx="37.8" cy="209.6" r="1.75"/>
<circle cx="39" cy="230.2" r="1.75"/>
<circle cx="37.7" cy="209.1" r="1.75"/>
<circle cx="36.1" cy="211" r="1.75"/>
<circle cx="35.1" cy="202" r="1.75"/>
<circle cx="37.2" cy="215.8" r="1.75"/>
<circle cx="36.2" cy="207.8" r="1.75"/>
<circle cx="34.8" cy="202.1" r="1.75"/>
<circle cx="35.5" cy="204.6" r="1.75"/>
<circle cx="34.2" cy="203.2" r="1.75"/>
<circle cx="35.8" cy="210.8" r="1.75"/>
<circle cx="37.6" cy="219" r="1.75"/>
<circle cx="38.6" cy="223.8" r="1.75"/>
<circle cx="39.1" cy="222.8" r="1.75"/>
<circle cx="36.3" cy="213.3" r="1.75"/>
</g>
</g>
<rect x="34.2" y="4.5" width="534.8" height="271" fill="none" stroke="#000" stroke-width="0.7"/>
<g stroke="#000" stroke-width="0.8">
<line x1="31.1" y1="275.5" x2="34.2" y2="275.5"/>
<line x1="31.1" y1="241.6" x2="34.2" y2="241.6"/>
<line x1="31.1" y1="207.8" x2="34.2" y2="207.8"/>
<line x1="31.1" y1="173.9" x2="34.2" y2="173.9"/>
<line x1="31.1" y1="140" x2="34.2" y2="140"/>
<line x1="31.1" y1="106.1" x2="34.2" y2="106.1"/>
<line x1="31.1" y1="72.2" x2="34.2" y2="72.2"/>
<line x1="31.1" y1="38.4" x2="34.2" y2="38.4"/>
<line x1="31.1" y1="4.5" x2="34.2" y2="4.5"/>
<line x1="58.8" y1="275.5" x2="58.8" y2="278.6"/>
<line x1="114.7" y1="275.5" x2="114.7" y2="278.6"/>
<line x1="170.4" y1="275.5" x2="170.4" y2="278.6"/>
<line x1="226.2" y1="275.5" x2="226.2" y2="278.6"/>
<line x1="282" y1="275.5" x2="282" y2="278.6"/>
<line x1="337.9" y1="275.5" x2="337.9" y2="278.6"/>
<line x1="393.7" y1="275.5" x2="393.7" y2="278.6"/>
<line x1="449.4" y1="275.5" x2="449.4" y2="278.6"/>
<line x1="505.2" y1="275.5" x2="505.2" y2="278.6"/>
<line x1="561.1" y1="275.5" x2="561.1" y2="278.6"/>
</g>
<g font-size="8.8" text-anchor="end">
<text x="27.7" y="278">210</text>
<text x="27.7" y="244.1">215</text>
<text x="27.7" y="210.2">220</text>
<text x="27.7" y="176.4">225</text>
<text x="27.7" y="142.5">230</text>
<text x="27.7" y="108.6">235</text>
<text x="27.7" y="74.8">240</text>
<text x="27.7" y="40.9">245</text>
<text x="27.7" y="7">250</text>
</g><g font-size="8.8" text-anchor="middle">
<text x="58.8" y="287.8">2016</text>
<text x="114.7" y="287.8">2017</text>
<text x="170.4" y="287.8">2018</text>
<text x="226.2" y="287.8">2019</text>
<text x="282" y="287.8">2020</text>
<text x="337.9" y="287.8">2021</text>
<text x="393.7" y="287.8">2022</text>
<text x="449.4" y="287.8">2023</text>
<text x="505.2" y="287.8">2024</text>
<text x="561.1" y="287.8">2025</text>
<text x="301.5" y="299.3">Observation year</text>
<text transform="translate(7.4,139.9) rotate(-90)">Brightness temperature (K)</text>
</g>
<rect x="578" y="7.5" width="105.8" height="113.2" rx="2" ry="2" fill="#fff" stroke="#222" stroke-width="0.8"/>
<g font-size="7.05">
<circle cx="588" cy="13.5" r="1.3" fill="#332288"/>
<text x="601" y="16">Band 8 (6.2 μm)</text>
<circle cx="588" cy="23.6" r="1.3" fill="#88CCEE"/>
<text x="601" y="26.1">Band 9 (6.9 μm)</text>
<circle cx="588" cy="33.7" r="1.3" fill="#44AA99"/>
<text x="601" y="36.2">Band 10 (7.3 μm)</text>
<circle cx="588" cy="43.8" r="1.3" fill="#117733"/>
<text x="601" y="46.3">Band 11 (8.6 μm)</text>
<circle cx="588" cy="53.9" r="1.3" fill="#999933"/>
<text x="601" y="56.4">Band 12 (9.6 μm)</text>
<circle cx="588" cy="64" r="1.3" fill="#DDCC77"/>
<text x="601" y="66.5">Band 13 (10.4 μm)</text>
<circle cx="588" cy="74" r="1.3" fill="#CC6677"/>
<text x="601" y="76.5">Band 14 (11.2 μm)</text>
<circle cx="588" cy="84.1" r="1.3" fill="#882255"/>
<text x="601" y="86.6">Band 15 (12.4 μm)</text>
<circle cx="588" cy="94.2" r="1.3" fill="#AA4499"/>
<text x="601" y="96.7">Band 16 (13.3 μm)</text>
<rect x="587.3" y="103.6" width="1.4" height="1.4" fill="#aaa"/>
<text x="601" y="106.8">LIR (every measurement)</text>
<line x1="580" y1="114.4" x2="596" y2="114.4" stroke="#000" stroke-width="1.8"/>
<text x="601" y="116.9">LIR (100-day mean)</text>
</g>
</svg></body></html>
